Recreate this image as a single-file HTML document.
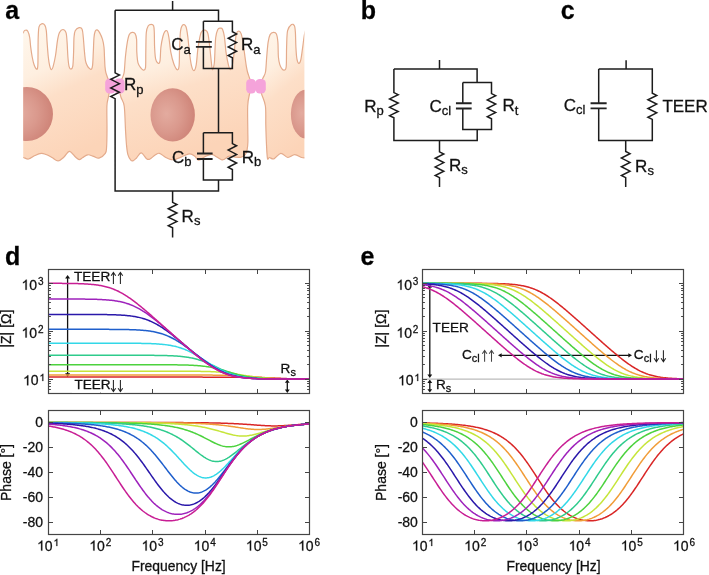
<!DOCTYPE html><html><head><meta charset="utf-8"><style>html,body{margin:0;padding:0;background:#fff;}text{stroke:#111;stroke-width:0.28px;}svg{display:block;will-change:transform;font-family:"Liberation Sans", sans-serif;}</style></head><body>
<svg width="709" height="575" viewBox="0 0 709 575">
<defs><linearGradient id="cellg" x1="0" y1="0" x2="0.3" y2="1"><stop offset="0" stop-color="#fff8ee"/><stop offset="0.36" stop-color="#feefe0"/><stop offset="0.56" stop-color="#fddfc8"/><stop offset="1" stop-color="#fcd4b8"/></linearGradient><radialGradient id="nucg" cx="0.36" cy="0.48" r="0.68"><stop offset="0" stop-color="#e3ab9f"/><stop offset="0.5" stop-color="#da998d"/><stop offset="1" stop-color="#cd8175"/></radialGradient><clipPath id="cellclip"><rect x="23.2" y="0" width="281.2" height="200"/></clipPath></defs>
<rect width="709" height="575" fill="#fff"/>
<g clip-path="url(#cellclip)">
<path d="M21.5,160 C21.25,141.25 21.18,66.23 21.5,45 C21.82,23.77 22.75,35.07 23.4,32.6 C24.05,30.13 24.67,30.43 25.4,30.2 C26.13,29.97 27.08,29.98 27.8,31.2 C28.52,32.42 29.22,34.83 29.7,37.5 C30.18,40.17 30.28,43.95 30.7,47.2 C31.12,50.45 31.63,54.07 32.2,57 C32.77,59.93 33.33,62.75 34.1,64.8 C34.87,66.85 36.18,69.1 36.8,69.3 C37.42,69.5 37.6,68.05 37.8,66 C38,63.95 37.93,61.75 38,57 C38.07,52.25 38.03,42.53 38.2,37.5 C38.37,32.47 38.43,29.08 39,26.8 C39.57,24.52 40.62,24.05 41.6,23.8 C42.58,23.55 44.12,24.15 44.9,25.3 C45.68,26.45 45.93,27.85 46.3,30.7 C46.67,33.55 46.77,38.02 47.1,42.4 C47.43,46.78 47.87,53.1 48.3,57 C48.73,60.9 49.18,63.68 49.7,65.8 C50.22,67.92 50.83,69.55 51.4,69.7 C51.97,69.85 52.4,69.15 53.1,66.7 C53.8,64.25 54.87,59.38 55.6,55 C56.33,50.62 56.85,44.13 57.5,40.4 C58.15,36.67 58.6,34.42 59.5,32.6 C60.4,30.78 61.82,29.5 62.9,29.5 C63.98,29.5 65.3,30.45 66,32.6 C66.7,34.75 66.78,38.33 67.1,42.4 C67.42,46.47 67.57,52.95 67.9,57 C68.23,61.05 68.58,64.67 69.1,66.7 C69.62,68.73 70.38,69.28 71,69.2 C71.62,69.12 72.37,69.05 72.8,66.2 C73.23,63.35 73.4,56.88 73.6,52.1 C73.8,47.32 73.73,41.07 74,37.5 C74.27,33.93 74.35,32.33 75.2,30.7 C76.05,29.07 77.95,27.95 79.1,27.7 C80.25,27.45 81.4,27.57 82.1,29.2 C82.8,30.83 82.9,33.68 83.3,37.5 C83.7,41.32 84.05,47.88 84.5,52.1 C84.95,56.32 85,59.95 86,62.8 C87,65.65 89.42,68.7 90.5,69.2 C91.58,69.7 92.03,68.65 92.5,65.8 C92.97,62.95 93.05,56.82 93.3,52.1 C93.55,47.38 93.68,40.98 94,37.5 C94.32,34.02 94.67,32.47 95.2,31.2 C95.73,29.93 96.47,29.67 97.2,29.9 C97.93,30.13 98.72,31.02 99.6,32.6 C100.48,34.18 101.77,36.97 102.5,39.4 C103.23,41.83 103.67,44.27 104,47.2 C104.33,50.13 104.33,53.75 104.5,57 C104.67,60.25 104.77,64.1 105,66.7 C105.23,69.3 105.45,70.72 105.9,72.6 C106.35,74.48 107.02,75.77 107.7,78 C108.38,80.23 109.88,82.83 110,86 C110.12,89.17 108.92,93.67 108.4,97 C107.88,100.33 107.13,100.5 106.9,106 C106.67,111.5 107.05,123.17 107,130 C106.95,136.83 106.88,143.1 106.6,147 C106.32,150.9 106.57,151.55 105.3,153.4 C104.03,155.25 100.97,157.62 99,158.1 C97.03,158.58 95.38,156.85 93.5,156.3 C91.62,155.75 89.53,154.55 87.7,154.8 C85.87,155.05 83.92,156.98 82.5,157.8 C81.08,158.62 80.37,159.83 79.2,159.7 C78.03,159.57 77.13,158.4 75.5,157 C73.87,155.6 71.32,151.3 69.4,151.3 C67.48,151.3 65.88,155.4 64,157 C62.12,158.6 60.1,160.82 58.1,160.9 C56.1,160.98 54.02,158.57 52,157.5 C49.98,156.43 47.8,155.18 46,154.5 C44.2,153.82 43.03,153.23 41.2,153.4 C39.37,153.57 37.12,154.57 35,155.5 C32.88,156.43 30.5,158.67 28.5,159 C26.5,159.33 24.17,157.33 23,157.5 C21.83,157.67 21.75,178.75 21.5,160 Z" fill="url(#cellg)" stroke="#e4ab8c" stroke-width="1.2"/>
<path d="M130.8,160.2 C129.9,159.2 128.62,157.23 127.9,154.7 C127.18,152.17 126.9,149.12 126.5,145 C126.1,140.88 125.88,136.5 125.5,130 C125.12,123.5 124.97,111.5 124.2,106 C123.43,100.5 121.77,100.33 120.9,97 C120.03,93.67 118.77,89.17 119,86 C119.23,82.83 121.43,80.33 122.3,78 C123.17,75.67 123.68,75.5 124.2,72 C124.72,68.5 124.88,61.93 125.4,57 C125.92,52.07 126.65,46.13 127.3,42.4 C127.95,38.67 128.48,36.27 129.3,34.6 C130.12,32.93 131.23,32.57 132.2,32.4 C133.17,32.23 134.37,32.43 135.1,33.6 C135.83,34.77 136.32,36.32 136.6,39.4 C136.88,42.48 136.57,48.2 136.8,52.1 C137.03,56 137.3,60.12 138,62.8 C138.7,65.48 140.1,66.98 141,68.2 C141.9,69.42 142.65,70.18 143.4,70.1 C144.15,70.02 145.1,70.7 145.5,67.7 C145.9,64.7 145.67,57.95 145.8,52.1 C145.93,46.25 145.88,36.98 146.3,32.6 C146.72,28.22 147.48,27.18 148.3,25.8 C149.12,24.42 150.32,24.3 151.2,24.3 C152.08,24.3 153.08,24.42 153.6,25.8 C154.12,27.18 154.13,29.03 154.3,32.6 C154.47,36.17 154.38,42.82 154.6,47.2 C154.82,51.58 155.03,56.22 155.6,58.9 C156.17,61.58 157.27,62.97 158,63.3 C158.73,63.63 159.52,63.58 160,60.9 C160.48,58.22 160.42,51.27 160.9,47.2 C161.38,43.13 162.25,39.1 162.9,36.5 C163.55,33.9 164.08,32.52 164.8,31.6 C165.52,30.68 166.52,30.02 167.2,31 C167.88,31.98 168.3,33.98 168.9,37.5 C169.5,41.02 169.98,47.72 170.8,52.1 C171.62,56.48 172.73,60.87 173.8,63.8 C174.87,66.73 176.32,69.37 177.2,69.7 C178.08,70.03 178.7,69.55 179.1,65.8 C179.5,62.05 179.35,53.05 179.6,47.2 C179.85,41.35 180.03,34.43 180.6,30.7 C181.17,26.97 182.1,25.45 183,24.8 C183.9,24.15 185.18,24.68 186,26.8 C186.82,28.92 187.33,33.28 187.9,37.5 C188.47,41.72 188.83,47.55 189.4,52.1 C189.97,56.65 190.57,61.72 191.3,64.8 C192.03,67.88 192.98,70.6 193.8,70.6 C194.62,70.6 195.48,68.7 196.2,64.8 C196.92,60.9 197.28,52.57 198.1,47.2 C198.92,41.83 199.95,35.43 201.1,32.6 C202.25,29.77 203.87,30.03 205,30.2 C206.13,30.37 207.1,30.77 207.9,33.6 C208.7,36.43 209.23,42.48 209.8,47.2 C210.37,51.92 210.85,58.15 211.3,61.9 C211.75,65.65 212.02,69.35 212.5,69.7 C212.98,70.05 213.83,66.12 214.2,64 C214.57,61.88 214.45,61.42 214.7,57 C214.95,52.58 215.2,42.05 215.7,37.5 C216.2,32.95 216.97,31.25 217.7,29.7 C218.43,28.15 219.3,28.28 220.1,28.2 C220.9,28.12 221.77,27.65 222.5,29.2 C223.23,30.75 223.92,33.68 224.5,37.5 C225.08,41.32 225.35,47.55 226,52.1 C226.65,56.65 227.65,61.87 228.4,64.8 C229.15,67.73 229.8,69.83 230.5,69.7 C231.2,69.57 231.98,66.93 232.6,64 C233.22,61.07 233.6,57 234.2,52.1 C234.8,47.2 235.47,38.08 236.2,34.6 C236.93,31.12 237.78,31.37 238.6,31.2 C239.42,31.03 240.37,31.73 241.1,33.6 C241.83,35.47 242.35,38.5 243,42.4 C243.65,46.3 244.43,52.95 245,57 C245.57,61.05 245.98,64.2 246.4,66.7 C246.82,69.2 246.98,70.12 247.5,72 C248.02,73.88 248.75,75.67 249.5,78 C250.25,80.33 252,83.33 252,86 C252,88.67 250.22,90.67 249.5,94 C248.78,97.33 247.98,100 247.7,106 C247.42,112 247.77,124 247.8,130 C247.83,136 248.02,138.7 247.9,142 C247.78,145.3 247.55,147.68 247.1,149.8 C246.65,151.92 246.18,153.47 245.2,154.7 C244.22,155.93 242.85,156.78 241.2,157.2 C239.55,157.62 237.27,157.37 235.3,157.2 C233.33,157.03 231.22,155.87 229.4,156.2 C227.58,156.53 225.72,158.62 224.4,159.2 C223.08,159.78 222.98,160.2 221.5,159.7 C220.02,159.2 217.15,157.1 215.5,156.2 C213.85,155.3 213.23,154.3 211.6,154.3 C209.97,154.3 207.83,155.22 205.7,156.2 C203.57,157.18 200.62,160.2 198.8,160.2 C196.98,160.2 196.28,157.27 194.8,156.2 C193.32,155.13 191.7,153.87 189.9,153.8 C188.1,153.73 186.15,154.97 184,155.8 C181.85,156.63 179.12,158.15 177,158.8 C174.88,159.45 173.23,159.97 171.3,159.7 C169.37,159.43 167.37,158.27 165.4,157.2 C163.43,156.13 161.15,153.72 159.5,153.3 C157.85,152.88 157.15,153.72 155.5,154.7 C153.85,155.68 151.08,158.53 149.6,159.2 C148.12,159.87 148,159.77 146.6,158.7 C145.2,157.63 142.88,152.92 141.2,152.8 C139.52,152.68 137.82,156.68 136.5,158 C135.18,159.32 134.25,160.33 133.3,160.7 C132.35,161.07 131.7,161.2 130.8,160.2 Z" fill="url(#cellg)" stroke="#e4ab8c" stroke-width="1.2"/>
<path d="M267.5,158.5 C267,156.42 266.78,150.58 266.5,145 C266.22,139.42 265.98,131.5 265.8,125 C265.62,118.5 266.1,111.17 265.4,106 C264.7,100.83 262.58,97.33 261.6,94 C260.62,90.67 259.27,88.67 259.5,86 C259.73,83.33 262,80.33 263,78 C264,75.67 264.88,75.5 265.5,72 C266.12,68.5 266.27,61.95 266.7,57 C267.13,52.05 267.53,46.03 268.1,42.3 C268.67,38.57 269.2,36.25 270.1,34.6 C271,32.95 272.45,32.48 273.5,32.4 C274.55,32.32 275.67,32.45 276.4,34.1 C277.13,35.75 277.57,38.48 277.9,42.3 C278.23,46.12 278.08,53.27 278.4,57 C278.72,60.73 279.2,62.73 279.8,64.7 C280.4,66.67 281.27,67.9 282,68.8 C282.73,69.7 283.5,70.45 284.2,70.1 C284.9,69.75 285.8,70.52 286.2,66.7 C286.6,62.88 286.37,53.2 286.6,47.2 C286.83,41.2 286.78,34.47 287.6,30.7 C288.42,26.93 290.37,25.42 291.5,24.6 C292.63,23.78 293.75,24.47 294.4,25.8 C295.05,27.13 295.15,29.03 295.4,32.6 C295.65,36.17 295.65,42.82 295.9,47.2 C296.15,51.58 296.42,56.22 296.9,58.9 C297.38,61.58 298.15,63.13 298.8,63.3 C299.45,63.47 300.15,62.58 300.8,59.9 C301.45,57.22 302.07,51.55 302.7,47.2 C303.33,42.85 303.88,37 304.6,33.8 C305.32,30.6 305.77,28.97 307,28 C308.23,27.03 311.17,6.33 312,28 C312.83,49.67 313.17,136.33 312,158 C310.83,179.67 306.72,158.08 305,158 C303.28,157.92 303.42,158.05 301.7,157.5 C299.98,156.95 297.02,154.7 294.7,154.7 C292.38,154.7 290.12,157.73 287.8,157.5 C285.48,157.27 283.12,153.07 280.8,153.3 C278.48,153.53 275.78,158.2 273.9,158.9 C272.02,159.6 270.57,157.57 269.5,157.5 C268.43,157.43 268,160.58 267.5,158.5 Z" fill="url(#cellg)" stroke="#e4ab8c" stroke-width="1.2"/>
<ellipse cx="27" cy="114" rx="26" ry="27" fill="url(#nucg)"/>
<ellipse cx="172.7" cy="114.9" rx="22.2" ry="26.7" fill="url(#nucg)"/>
<ellipse cx="305.9" cy="114.1" rx="15" ry="24.4" fill="url(#nucg)"/>
</g>
<g fill="#f5a3da"><rect x="105.2" y="78.6" width="10.4" height="15" rx="4.2"/><rect x="114.2" y="78.6" width="10.4" height="15" rx="4.2"/><rect x="246.2" y="78.9" width="9.8" height="14.6" rx="4.2"/><rect x="255.4" y="78.9" width="10.4" height="14.6" rx="4.2"/></g>
<path d="M172.6,1 V10.3 M115.1,10.3 H218.5 V21.2 M115.1,10.3 V72.9 L115.1,72.9 L119.4,75.05 L110.8,79.35 L119.4,83.65 L110.8,87.95 L119.4,92.25 L110.8,96.55 L115.1,98.7 V190.9 H218.5 V179.9 M203.4,21.2 H232.4 V31.7 L232.4,31.7 L236.6,33.88 L228.2,38.23 L236.6,42.58 L228.2,46.92 L236.6,51.27 L228.2,55.62 L232.4,57.8 V68.4 H203.4 V46.5 M203.4,21.2 V41.9 M218.5,68.4 V132.8 M203.4,132.8 H232.4 V143.6 L232.4,143.6 L236.6,145.76 L228.2,150.07 L236.6,154.39 L228.2,158.71 L236.6,163.03 L228.2,167.34 L232.4,169.5 V179.9 H203.4 V159 M203.4,132.8 V153.5 M172.6,190.9 V202.4 L172.6,202.4 L176.9,204.52 L168.3,208.75 L176.9,212.98 L168.3,217.22 L176.9,221.45 L168.3,225.68 L172.6,227.8 V237.4" stroke="#1c1c1c" stroke-width="1.5" fill="none" stroke-linejoin="miter"/>
<path d="M195.9,41.9 h15.9 M195.9,46.9 h15.9" stroke="#222" stroke-width="1.9" fill="none"/>
<path d="M197,153.55 h15.6 M197,158.95 h15.6" stroke="#222" stroke-width="1.9" fill="none"/>
<g fill="#111">
<text x="123.9" y="90.4" font-size="17">R<tspan font-size="13" dy="3.7">p</tspan></text>
<text x="171.3" y="50.1" font-size="17">C<tspan font-size="13" dy="3.9">a</tspan></text>
<text x="241" y="49.8" font-size="17">R<tspan font-size="13" dy="3.8">a</tspan></text>
<text x="172" y="162.6" font-size="17">C<tspan font-size="13" dy="3.6">b</tspan></text>
<text x="241.7" y="162.8" font-size="17">R<tspan font-size="13" dy="3.6">b</tspan></text>
<text x="181.6" y="222.4" font-size="17">R<tspan font-size="13" dy="2.7">s</tspan></text>
</g>
<path d="M439.5,60 V68.9 M393.9,68.9 H477.1 V82.4 M393.9,68.9 V92.6 L393.9,92.6 L398.2,94.7 L389.6,98.9 L398.2,103.1 L389.6,107.3 L398.2,111.5 L389.6,115.7 L393.9,117.8 V140.5 H477.2 V129.5 M462.8,82.4 H491.5 V93.6 L491.5,93.6 L495.7,95.7 L487.3,99.9 L495.7,104.1 L487.3,108.3 L495.7,112.5 L487.3,116.7 L491.5,118.8 V129.5 H462.8 V108.5 M462.8,82.4 V103.3 M439.5,140.5 V151.8 L439.5,151.8 L443.8,153.96 L435.2,158.28 L443.8,162.59 L435.2,166.91 L443.8,171.22 L435.2,175.54 L439.5,177.7 V187" stroke="#1c1c1c" stroke-width="1.5" fill="none" stroke-linejoin="miter"/>
<path d="M455.95,103.3 h15.7 M455.95,108.5 h15.7" stroke="#222" stroke-width="1.9" fill="none"/>
<g fill="#111">
<text x="364.2" y="111.5" font-size="17">R<tspan font-size="13" dy="3.6">p</tspan></text>
<text x="429.4" y="111.9" font-size="17">C<tspan font-size="13" dy="3.2">cl</tspan></text>
<text x="502.5" y="111.3" font-size="17">R<tspan font-size="13" dy="3.9">t</tspan></text>
<text x="448.9" y="171.2" font-size="17">R<tspan font-size="13" dy="2.9">s</tspan></text>
</g>
<path d="M626.1,60.2 V69.1 M598.7,69.1 H652.3 V93.2 L652.3,93.2 L656.7,95.38 L647.9,99.75 L656.7,104.12 L647.9,108.48 L656.7,112.85 L647.9,117.22 L652.3,119.4 V140.5 H598.7 V108.4 M598.7,69.1 V103.3 M625.7,140.5 V151.5 L625.7,151.5 L630,153.68 L621.4,158.05 L630,162.42 L621.4,166.78 L630,171.15 L621.4,175.52 L625.7,177.7 V187" stroke="#1c1c1c" stroke-width="1.5" fill="none" stroke-linejoin="miter"/>
<path d="M590.55,103.3 h16.1 M590.55,108.4 h16.1" stroke="#222" stroke-width="1.9" fill="none"/>
<g fill="#111">
<text x="563.8" y="110.7" font-size="17">C<tspan font-size="13" dy="3.2">cl</tspan></text>
<text x="662.4" y="111.7" font-size="17">TEER</text>
<text x="635.1" y="171.8" font-size="17">R<tspan font-size="13" dy="2.7">s</tspan></text>
</g>
<g font-weight="bold" font-size="25" fill="#000">
<text x="5.2" y="19" font-size="25" text-anchor="start" font-weight="bold" >a</text>
<text x="360.8" y="19" font-size="25" text-anchor="start" font-weight="bold" >b</text>
<text x="560.7" y="19" font-size="25" text-anchor="start" font-weight="bold" >c</text>
<text x="4.9" y="265.1" font-size="25" text-anchor="start" font-weight="bold" >d</text>
<text x="360.6" y="265.1" font-size="25" text-anchor="start" font-weight="bold" >e</text>
</g>
<g>
<path d="M67.6,278.1 V373.8" stroke="#111" stroke-width="1.3"/><path d="M67.6,275 L65.1,278.6 L70.1,278.6 Z" fill="#111"/><path d="M67.6,376.9 L65.1,373.3 L70.1,373.3 Z" fill="#111"/>
<path d="M287.3,382.3 V390.1" stroke="#111" stroke-width="1.3"/><path d="M287.3,379.4 L284.9,382.8 L289.7,382.8 Z" fill="#111"/><path d="M287.3,393 L284.9,389.6 L289.7,389.6 Z" fill="#111"/>
<path d="M429.8,287.1 V375" stroke="#111" stroke-width="1.3"/><path d="M429.8,284 L427.4,287.6 L432.2,287.6 Z" fill="#111"/><path d="M429.8,378.1 L427.4,374.5 L432.2,374.5 Z" fill="#111"/>
<path d="M429.8,382.5 V389.7" stroke="#111" stroke-width="1.3"/><path d="M429.8,379.6 L427.4,383 L432.2,383 Z" fill="#111"/><path d="M429.8,392.6 L427.4,389.2 L432.2,389.2 Z" fill="#111"/>
<path d="M501.2,355.3 H628.8" stroke="#111" stroke-width="1.3"/><path d="M498,355.3 L501.7,353.2 L501.7,357.4 Z" fill="#111"/><path d="M632,355.3 L628.3,353.2 L628.3,357.4 Z" fill="#111"/>
</g>
<svg x="0" y="0" width="709" height="575" overflow="hidden">
<clipPath id="clip1d"><rect x="48.5" y="269.5" width="261" height="124"/></clipPath>
<clipPath id="clip2d"><rect x="48.5" y="410.5" width="261" height="124"/></clipPath>
</svg>
<g clip-path="url(#clip1d)"><path d="M48.5,377.12 L49.5,377.12 L50.51,377.12 L51.51,377.12 L52.52,377.12 L53.52,377.12 L54.52,377.12 L55.53,377.12 L56.53,377.12 L57.53,377.12 L58.54,377.12 L59.54,377.12 L60.55,377.12 L61.55,377.12 L62.55,377.12 L63.56,377.12 L64.56,377.12 L65.57,377.12 L66.57,377.12 L67.57,377.12 L68.58,377.12 L69.58,377.12 L70.58,377.12 L71.59,377.12 L72.59,377.12 L73.6,377.12 L74.6,377.12 L75.6,377.12 L76.61,377.12 L77.61,377.12 L78.62,377.12 L79.62,377.12 L80.62,377.12 L81.63,377.12 L82.63,377.12 L83.63,377.12 L84.64,377.12 L85.64,377.12 L86.65,377.12 L87.65,377.12 L88.65,377.12 L89.66,377.12 L90.66,377.12 L91.67,377.12 L92.67,377.12 L93.67,377.12 L94.68,377.12 L95.68,377.12 L96.68,377.12 L97.69,377.12 L98.69,377.12 L99.7,377.12 L100.7,377.12 L101.7,377.12 L102.71,377.12 L103.71,377.12 L104.72,377.12 L105.72,377.12 L106.72,377.12 L107.73,377.12 L108.73,377.12 L109.73,377.12 L110.74,377.12 L111.74,377.12 L112.75,377.12 L113.75,377.12 L114.75,377.12 L115.76,377.12 L116.76,377.12 L117.77,377.12 L118.77,377.12 L119.77,377.12 L120.78,377.12 L121.78,377.12 L122.78,377.12 L123.79,377.12 L124.79,377.12 L125.8,377.12 L126.8,377.12 L127.8,377.12 L128.81,377.12 L129.81,377.12 L130.82,377.12 L131.82,377.12 L132.82,377.12 L133.83,377.12 L134.83,377.12 L135.83,377.12 L136.84,377.12 L137.84,377.12 L138.85,377.12 L139.85,377.12 L140.85,377.12 L141.86,377.12 L142.86,377.12 L143.87,377.12 L144.87,377.12 L145.87,377.12 L146.88,377.12 L147.88,377.12 L148.88,377.12 L149.89,377.12 L150.89,377.12 L151.9,377.12 L152.9,377.12 L153.9,377.12 L154.91,377.12 L155.91,377.12 L156.92,377.12 L157.92,377.12 L158.92,377.12 L159.93,377.12 L160.93,377.12 L161.93,377.12 L162.94,377.12 L163.94,377.12 L164.95,377.12 L165.95,377.12 L166.95,377.12 L167.96,377.12 L168.96,377.12 L169.97,377.12 L170.97,377.12 L171.97,377.12 L172.98,377.12 L173.98,377.12 L174.98,377.12 L175.99,377.12 L176.99,377.12 L178,377.12 L179,377.12 L180,377.12 L181.01,377.12 L182.01,377.12 L183.02,377.12 L184.02,377.12 L185.02,377.12 L186.03,377.12 L187.03,377.12 L188.03,377.12 L189.04,377.12 L190.04,377.12 L191.05,377.12 L192.05,377.12 L193.05,377.12 L194.06,377.12 L195.06,377.12 L196.07,377.12 L197.07,377.12 L198.07,377.12 L199.08,377.12 L200.08,377.12 L201.08,377.12 L202.09,377.12 L203.09,377.13 L204.1,377.13 L205.1,377.13 L206.1,377.13 L207.11,377.13 L208.11,377.13 L209.12,377.13 L210.12,377.13 L211.12,377.13 L212.13,377.13 L213.13,377.13 L214.13,377.13 L215.14,377.13 L216.14,377.13 L217.15,377.13 L218.15,377.14 L219.15,377.14 L220.16,377.14 L221.16,377.14 L222.17,377.14 L223.17,377.14 L224.17,377.15 L225.18,377.15 L226.18,377.15 L227.18,377.15 L228.19,377.15 L229.19,377.16 L230.2,377.16 L231.2,377.16 L232.2,377.17 L233.21,377.17 L234.21,377.18 L235.22,377.18 L236.22,377.19 L237.22,377.19 L238.23,377.2 L239.23,377.21 L240.23,377.22 L241.24,377.22 L242.24,377.23 L243.25,377.24 L244.25,377.25 L245.25,377.26 L246.26,377.28 L247.26,377.29 L248.27,377.3 L249.27,377.32 L250.27,377.33 L251.28,377.35 L252.28,377.37 L253.28,377.39 L254.29,377.41 L255.29,377.43 L256.3,377.46 L257.3,377.48 L258.3,377.51 L259.31,377.54 L260.31,377.57 L261.32,377.6 L262.32,377.63 L263.32,377.67 L264.33,377.7 L265.33,377.74 L266.33,377.78 L267.34,377.82 L268.34,377.86 L269.35,377.9 L270.35,377.94 L271.35,377.98 L272.36,378.03 L273.36,378.07 L274.37,378.12 L275.37,378.16 L276.37,378.2 L277.38,378.25 L278.38,378.29 L279.38,378.33 L280.39,378.37 L281.39,378.41 L282.4,378.45 L283.4,378.49 L284.4,378.53 L285.41,378.56 L286.41,378.6 L287.42,378.63 L288.42,378.66 L289.42,378.69 L290.43,378.72 L291.43,378.74 L292.43,378.77 L293.44,378.79 L294.44,378.81 L295.45,378.84 L296.45,378.85 L297.45,378.87 L298.46,378.89 L299.46,378.91 L300.47,378.92 L301.47,378.94 L302.47,378.95 L303.48,378.96 L304.48,378.97 L305.48,378.98 L306.49,378.99 L307.49,379 L308.5,379.01 L309.5,379.02" stroke="#d92626" stroke-width="1.5" fill="none"/>
<path d="M48.5,375.05 L49.5,375.05 L50.51,375.05 L51.51,375.05 L52.52,375.05 L53.52,375.05 L54.52,375.05 L55.53,375.05 L56.53,375.05 L57.53,375.05 L58.54,375.05 L59.54,375.05 L60.55,375.05 L61.55,375.05 L62.55,375.05 L63.56,375.05 L64.56,375.05 L65.57,375.05 L66.57,375.05 L67.57,375.05 L68.58,375.05 L69.58,375.05 L70.58,375.05 L71.59,375.05 L72.59,375.05 L73.6,375.05 L74.6,375.05 L75.6,375.05 L76.61,375.05 L77.61,375.05 L78.62,375.05 L79.62,375.05 L80.62,375.05 L81.63,375.05 L82.63,375.05 L83.63,375.05 L84.64,375.05 L85.64,375.05 L86.65,375.05 L87.65,375.05 L88.65,375.05 L89.66,375.05 L90.66,375.05 L91.67,375.05 L92.67,375.05 L93.67,375.05 L94.68,375.05 L95.68,375.05 L96.68,375.05 L97.69,375.05 L98.69,375.05 L99.7,375.05 L100.7,375.05 L101.7,375.05 L102.71,375.05 L103.71,375.05 L104.72,375.05 L105.72,375.05 L106.72,375.05 L107.73,375.05 L108.73,375.05 L109.73,375.05 L110.74,375.05 L111.74,375.05 L112.75,375.05 L113.75,375.05 L114.75,375.05 L115.76,375.05 L116.76,375.05 L117.77,375.05 L118.77,375.05 L119.77,375.05 L120.78,375.05 L121.78,375.05 L122.78,375.05 L123.79,375.05 L124.79,375.05 L125.8,375.05 L126.8,375.05 L127.8,375.05 L128.81,375.05 L129.81,375.05 L130.82,375.05 L131.82,375.05 L132.82,375.05 L133.83,375.05 L134.83,375.05 L135.83,375.05 L136.84,375.05 L137.84,375.05 L138.85,375.05 L139.85,375.05 L140.85,375.05 L141.86,375.05 L142.86,375.05 L143.87,375.05 L144.87,375.05 L145.87,375.05 L146.88,375.05 L147.88,375.05 L148.88,375.05 L149.89,375.05 L150.89,375.05 L151.9,375.05 L152.9,375.05 L153.9,375.05 L154.91,375.05 L155.91,375.05 L156.92,375.05 L157.92,375.05 L158.92,375.05 L159.93,375.05 L160.93,375.05 L161.93,375.05 L162.94,375.05 L163.94,375.05 L164.95,375.05 L165.95,375.05 L166.95,375.05 L167.96,375.05 L168.96,375.05 L169.97,375.05 L170.97,375.05 L171.97,375.05 L172.98,375.05 L173.98,375.05 L174.98,375.05 L175.99,375.05 L176.99,375.05 L178,375.05 L179,375.05 L180,375.05 L181.01,375.05 L182.01,375.05 L183.02,375.06 L184.02,375.06 L185.02,375.06 L186.03,375.06 L187.03,375.06 L188.03,375.06 L189.04,375.06 L190.04,375.06 L191.05,375.06 L192.05,375.06 L193.05,375.06 L194.06,375.06 L195.06,375.07 L196.07,375.07 L197.07,375.07 L198.07,375.07 L199.08,375.07 L200.08,375.07 L201.08,375.08 L202.09,375.08 L203.09,375.08 L204.1,375.08 L205.1,375.09 L206.1,375.09 L207.11,375.09 L208.11,375.1 L209.12,375.1 L210.12,375.11 L211.12,375.11 L212.13,375.12 L213.13,375.13 L214.13,375.13 L215.14,375.14 L216.14,375.15 L217.15,375.16 L218.15,375.17 L219.15,375.18 L220.16,375.19 L221.16,375.2 L222.17,375.22 L223.17,375.23 L224.17,375.25 L225.18,375.26 L226.18,375.28 L227.18,375.3 L228.19,375.32 L229.19,375.35 L230.2,375.37 L231.2,375.4 L232.2,375.43 L233.21,375.46 L234.21,375.49 L235.22,375.53 L236.22,375.57 L237.22,375.61 L238.23,375.65 L239.23,375.7 L240.23,375.75 L241.24,375.8 L242.24,375.86 L243.25,375.92 L244.25,375.98 L245.25,376.05 L246.26,376.11 L247.26,376.18 L248.27,376.26 L249.27,376.33 L250.27,376.41 L251.28,376.49 L252.28,376.58 L253.28,376.66 L254.29,376.75 L255.29,376.84 L256.3,376.92 L257.3,377.01 L258.3,377.1 L259.31,377.19 L260.31,377.28 L261.32,377.37 L262.32,377.46 L263.32,377.54 L264.33,377.62 L265.33,377.71 L266.33,377.79 L267.34,377.86 L268.34,377.94 L269.35,378.01 L270.35,378.08 L271.35,378.14 L272.36,378.21 L273.36,378.27 L274.37,378.32 L275.37,378.38 L276.37,378.43 L277.38,378.48 L278.38,378.52 L279.38,378.57 L280.39,378.6 L281.39,378.64 L282.4,378.68 L283.4,378.71 L284.4,378.74 L285.41,378.77 L286.41,378.79 L287.42,378.82 L288.42,378.84 L289.42,378.86 L290.43,378.88 L291.43,378.9 L292.43,378.91 L293.44,378.93 L294.44,378.94 L295.45,378.96 L296.45,378.97 L297.45,378.98 L298.46,378.99 L299.46,379 L300.47,379.01 L301.47,379.01 L302.47,379.02 L303.48,379.03 L304.48,379.03 L305.48,379.04 L306.49,379.04 L307.49,379.05 L308.5,379.05 L309.5,379.06" stroke="#f19c38" stroke-width="1.5" fill="none"/>
<path d="M48.5,371.18 L49.5,371.18 L50.51,371.18 L51.51,371.18 L52.52,371.18 L53.52,371.18 L54.52,371.18 L55.53,371.18 L56.53,371.18 L57.53,371.18 L58.54,371.18 L59.54,371.18 L60.55,371.18 L61.55,371.18 L62.55,371.18 L63.56,371.18 L64.56,371.18 L65.57,371.18 L66.57,371.18 L67.57,371.18 L68.58,371.18 L69.58,371.18 L70.58,371.18 L71.59,371.18 L72.59,371.18 L73.6,371.18 L74.6,371.18 L75.6,371.18 L76.61,371.18 L77.61,371.18 L78.62,371.18 L79.62,371.18 L80.62,371.18 L81.63,371.18 L82.63,371.18 L83.63,371.18 L84.64,371.18 L85.64,371.18 L86.65,371.18 L87.65,371.18 L88.65,371.18 L89.66,371.18 L90.66,371.18 L91.67,371.18 L92.67,371.18 L93.67,371.18 L94.68,371.18 L95.68,371.18 L96.68,371.18 L97.69,371.18 L98.69,371.18 L99.7,371.18 L100.7,371.18 L101.7,371.18 L102.71,371.18 L103.71,371.18 L104.72,371.18 L105.72,371.18 L106.72,371.18 L107.73,371.18 L108.73,371.18 L109.73,371.18 L110.74,371.18 L111.74,371.18 L112.75,371.18 L113.75,371.18 L114.75,371.18 L115.76,371.18 L116.76,371.19 L117.77,371.19 L118.77,371.19 L119.77,371.19 L120.78,371.19 L121.78,371.19 L122.78,371.19 L123.79,371.19 L124.79,371.19 L125.8,371.19 L126.8,371.19 L127.8,371.19 L128.81,371.19 L129.81,371.19 L130.82,371.19 L131.82,371.19 L132.82,371.19 L133.83,371.19 L134.83,371.19 L135.83,371.19 L136.84,371.19 L137.84,371.19 L138.85,371.19 L139.85,371.19 L140.85,371.19 L141.86,371.19 L142.86,371.19 L143.87,371.19 L144.87,371.19 L145.87,371.19 L146.88,371.19 L147.88,371.19 L148.88,371.19 L149.89,371.19 L150.89,371.19 L151.9,371.19 L152.9,371.19 L153.9,371.19 L154.91,371.19 L155.91,371.19 L156.92,371.19 L157.92,371.19 L158.92,371.19 L159.93,371.19 L160.93,371.19 L161.93,371.19 L162.94,371.19 L163.94,371.19 L164.95,371.19 L165.95,371.19 L166.95,371.2 L167.96,371.2 L168.96,371.2 L169.97,371.2 L170.97,371.2 L171.97,371.2 L172.98,371.2 L173.98,371.2 L174.98,371.21 L175.99,371.21 L176.99,371.21 L178,371.21 L179,371.21 L180,371.22 L181.01,371.22 L182.01,371.22 L183.02,371.23 L184.02,371.23 L185.02,371.23 L186.03,371.24 L187.03,371.24 L188.03,371.25 L189.04,371.26 L190.04,371.26 L191.05,371.27 L192.05,371.28 L193.05,371.29 L194.06,371.29 L195.06,371.3 L196.07,371.32 L197.07,371.33 L198.07,371.34 L199.08,371.35 L200.08,371.37 L201.08,371.39 L202.09,371.4 L203.09,371.42 L204.1,371.44 L205.1,371.47 L206.1,371.49 L207.11,371.52 L208.11,371.55 L209.12,371.58 L210.12,371.62 L211.12,371.65 L212.13,371.69 L213.13,371.74 L214.13,371.79 L215.14,371.84 L216.14,371.89 L217.15,371.95 L218.15,372.01 L219.15,372.08 L220.16,372.15 L221.16,372.23 L222.17,372.31 L223.17,372.4 L224.17,372.49 L225.18,372.59 L226.18,372.7 L227.18,372.81 L228.19,372.92 L229.19,373.05 L230.2,373.17 L231.2,373.31 L232.2,373.45 L233.21,373.59 L234.21,373.74 L235.22,373.89 L236.22,374.05 L237.22,374.21 L238.23,374.38 L239.23,374.55 L240.23,374.72 L241.24,374.89 L242.24,375.06 L243.25,375.24 L244.25,375.41 L245.25,375.58 L246.26,375.75 L247.26,375.92 L248.27,376.08 L249.27,376.25 L250.27,376.4 L251.28,376.56 L252.28,376.71 L253.28,376.85 L254.29,376.99 L255.29,377.12 L256.3,377.25 L257.3,377.37 L258.3,377.49 L259.31,377.6 L260.31,377.7 L261.32,377.8 L262.32,377.89 L263.32,377.98 L264.33,378.06 L265.33,378.14 L266.33,378.21 L267.34,378.28 L268.34,378.34 L269.35,378.4 L270.35,378.45 L271.35,378.5 L272.36,378.55 L273.36,378.59 L274.37,378.63 L275.37,378.67 L276.37,378.71 L277.38,378.74 L278.38,378.77 L279.38,378.79 L280.39,378.82 L281.39,378.84 L282.4,378.86 L283.4,378.88 L284.4,378.9 L285.41,378.92 L286.41,378.93 L287.42,378.95 L288.42,378.96 L289.42,378.97 L290.43,378.98 L291.43,378.99 L292.43,379 L293.44,379.01 L294.44,379.02 L295.45,379.02 L296.45,379.03 L297.45,379.04 L298.46,379.04 L299.46,379.05 L300.47,379.05 L301.47,379.05 L302.47,379.06 L303.48,379.06 L304.48,379.07 L305.48,379.07 L306.49,379.07 L307.49,379.07 L308.5,379.08 L309.5,379.08" stroke="#c6e53a" stroke-width="1.5" fill="none"/>
<path d="M48.5,364.71 L49.5,364.71 L50.51,364.71 L51.51,364.71 L52.52,364.71 L53.52,364.71 L54.52,364.71 L55.53,364.71 L56.53,364.71 L57.53,364.71 L58.54,364.71 L59.54,364.71 L60.55,364.71 L61.55,364.71 L62.55,364.71 L63.56,364.71 L64.56,364.71 L65.57,364.71 L66.57,364.71 L67.57,364.71 L68.58,364.71 L69.58,364.71 L70.58,364.71 L71.59,364.71 L72.59,364.71 L73.6,364.71 L74.6,364.71 L75.6,364.71 L76.61,364.71 L77.61,364.71 L78.62,364.71 L79.62,364.71 L80.62,364.71 L81.63,364.71 L82.63,364.71 L83.63,364.71 L84.64,364.71 L85.64,364.71 L86.65,364.71 L87.65,364.71 L88.65,364.71 L89.66,364.71 L90.66,364.71 L91.67,364.71 L92.67,364.71 L93.67,364.71 L94.68,364.71 L95.68,364.71 L96.68,364.71 L97.69,364.71 L98.69,364.71 L99.7,364.71 L100.7,364.71 L101.7,364.71 L102.71,364.71 L103.71,364.71 L104.72,364.71 L105.72,364.71 L106.72,364.71 L107.73,364.71 L108.73,364.71 L109.73,364.71 L110.74,364.71 L111.74,364.71 L112.75,364.71 L113.75,364.71 L114.75,364.71 L115.76,364.71 L116.76,364.71 L117.77,364.71 L118.77,364.71 L119.77,364.71 L120.78,364.71 L121.78,364.71 L122.78,364.71 L123.79,364.71 L124.79,364.71 L125.8,364.71 L126.8,364.71 L127.8,364.71 L128.81,364.71 L129.81,364.71 L130.82,364.71 L131.82,364.71 L132.82,364.71 L133.83,364.71 L134.83,364.71 L135.83,364.72 L136.84,364.72 L137.84,364.72 L138.85,364.72 L139.85,364.72 L140.85,364.72 L141.86,364.72 L142.86,364.72 L143.87,364.72 L144.87,364.72 L145.87,364.72 L146.88,364.72 L147.88,364.72 L148.88,364.72 L149.89,364.73 L150.89,364.73 L151.9,364.73 L152.9,364.73 L153.9,364.73 L154.91,364.73 L155.91,364.74 L156.92,364.74 L157.92,364.74 L158.92,364.74 L159.93,364.75 L160.93,364.75 L161.93,364.75 L162.94,364.76 L163.94,364.76 L164.95,364.77 L165.95,364.77 L166.95,364.78 L167.96,364.78 L168.96,364.79 L169.97,364.8 L170.97,364.8 L171.97,364.81 L172.98,364.82 L173.98,364.83 L174.98,364.84 L175.99,364.86 L176.99,364.87 L178,364.88 L179,364.9 L180,364.92 L181.01,364.94 L182.01,364.96 L183.02,364.98 L184.02,365 L185.02,365.03 L186.03,365.06 L187.03,365.09 L188.03,365.12 L189.04,365.16 L190.04,365.2 L191.05,365.24 L192.05,365.29 L193.05,365.34 L194.06,365.4 L195.06,365.45 L196.07,365.52 L197.07,365.59 L198.07,365.66 L199.08,365.75 L200.08,365.83 L201.08,365.93 L202.09,366.03 L203.09,366.14 L204.1,366.25 L205.1,366.38 L206.1,366.51 L207.11,366.65 L208.11,366.8 L209.12,366.96 L210.12,367.13 L211.12,367.31 L212.13,367.5 L213.13,367.7 L214.13,367.91 L215.14,368.13 L216.14,368.36 L217.15,368.6 L218.15,368.84 L219.15,369.1 L220.16,369.37 L221.16,369.64 L222.17,369.92 L223.17,370.21 L224.17,370.5 L225.18,370.8 L226.18,371.1 L227.18,371.4 L228.19,371.71 L229.19,372.01 L230.2,372.32 L231.2,372.62 L232.2,372.93 L233.21,373.23 L234.21,373.52 L235.22,373.81 L236.22,374.09 L237.22,374.37 L238.23,374.63 L239.23,374.89 L240.23,375.14 L241.24,375.39 L242.24,375.62 L243.25,375.84 L244.25,376.05 L245.25,376.25 L246.26,376.45 L247.26,376.63 L248.27,376.8 L249.27,376.96 L250.27,377.12 L251.28,377.26 L252.28,377.4 L253.28,377.52 L254.29,377.64 L255.29,377.75 L256.3,377.86 L257.3,377.95 L258.3,378.04 L259.31,378.12 L260.31,378.2 L261.32,378.27 L262.32,378.34 L263.32,378.4 L264.33,378.46 L265.33,378.51 L266.33,378.56 L267.34,378.6 L268.34,378.64 L269.35,378.68 L270.35,378.71 L271.35,378.74 L272.36,378.77 L273.36,378.8 L274.37,378.83 L275.37,378.85 L276.37,378.87 L277.38,378.89 L278.38,378.91 L279.38,378.92 L280.39,378.94 L281.39,378.95 L282.4,378.96 L283.4,378.97 L284.4,378.99 L285.41,379 L286.41,379 L287.42,379.01 L288.42,379.02 L289.42,379.03 L290.43,379.03 L291.43,379.04 L292.43,379.04 L293.44,379.05 L294.44,379.05 L295.45,379.06 L296.45,379.06 L297.45,379.06 L298.46,379.07 L299.46,379.07 L300.47,379.07 L301.47,379.07 L302.47,379.08 L303.48,379.08 L304.48,379.08 L305.48,379.08 L306.49,379.08 L307.49,379.08 L308.5,379.09 L309.5,379.09" stroke="#4cd23e" stroke-width="1.5" fill="none"/>
<path d="M48.5,355.25 L49.5,355.25 L50.51,355.25 L51.51,355.25 L52.52,355.25 L53.52,355.25 L54.52,355.25 L55.53,355.25 L56.53,355.25 L57.53,355.25 L58.54,355.25 L59.54,355.25 L60.55,355.25 L61.55,355.25 L62.55,355.25 L63.56,355.25 L64.56,355.25 L65.57,355.25 L66.57,355.25 L67.57,355.25 L68.58,355.25 L69.58,355.25 L70.58,355.25 L71.59,355.25 L72.59,355.25 L73.6,355.25 L74.6,355.25 L75.6,355.25 L76.61,355.25 L77.61,355.25 L78.62,355.25 L79.62,355.25 L80.62,355.25 L81.63,355.25 L82.63,355.25 L83.63,355.25 L84.64,355.25 L85.64,355.25 L86.65,355.25 L87.65,355.25 L88.65,355.25 L89.66,355.25 L90.66,355.25 L91.67,355.25 L92.67,355.25 L93.67,355.25 L94.68,355.25 L95.68,355.25 L96.68,355.25 L97.69,355.25 L98.69,355.25 L99.7,355.25 L100.7,355.25 L101.7,355.25 L102.71,355.25 L103.71,355.25 L104.72,355.25 L105.72,355.25 L106.72,355.25 L107.73,355.25 L108.73,355.25 L109.73,355.25 L110.74,355.25 L111.74,355.25 L112.75,355.25 L113.75,355.25 L114.75,355.26 L115.76,355.26 L116.76,355.26 L117.77,355.26 L118.77,355.26 L119.77,355.26 L120.78,355.26 L121.78,355.26 L122.78,355.26 L123.79,355.26 L124.79,355.26 L125.8,355.26 L126.8,355.26 L127.8,355.26 L128.81,355.26 L129.81,355.27 L130.82,355.27 L131.82,355.27 L132.82,355.27 L133.83,355.27 L134.83,355.27 L135.83,355.28 L136.84,355.28 L137.84,355.28 L138.85,355.28 L139.85,355.29 L140.85,355.29 L141.86,355.29 L142.86,355.3 L143.87,355.3 L144.87,355.3 L145.87,355.31 L146.88,355.31 L147.88,355.32 L148.88,355.33 L149.89,355.33 L150.89,355.34 L151.9,355.35 L152.9,355.36 L153.9,355.37 L154.91,355.38 L155.91,355.39 L156.92,355.4 L157.92,355.42 L158.92,355.43 L159.93,355.45 L160.93,355.47 L161.93,355.49 L162.94,355.51 L163.94,355.53 L164.95,355.56 L165.95,355.58 L166.95,355.61 L167.96,355.65 L168.96,355.68 L169.97,355.72 L170.97,355.76 L171.97,355.81 L172.98,355.86 L173.98,355.91 L174.98,355.97 L175.99,356.03 L176.99,356.1 L178,356.18 L179,356.26 L180,356.34 L181.01,356.44 L182.01,356.54 L183.02,356.65 L184.02,356.77 L185.02,356.9 L186.03,357.03 L187.03,357.18 L188.03,357.34 L189.04,357.51 L190.04,357.69 L191.05,357.88 L192.05,358.09 L193.05,358.3 L194.06,358.54 L195.06,358.78 L196.07,359.04 L197.07,359.32 L198.07,359.61 L199.08,359.91 L200.08,360.23 L201.08,360.56 L202.09,360.91 L203.09,361.27 L204.1,361.65 L205.1,362.04 L206.1,362.44 L207.11,362.85 L208.11,363.28 L209.12,363.71 L210.12,364.16 L211.12,364.61 L212.13,365.07 L213.13,365.54 L214.13,366.01 L215.14,366.48 L216.14,366.96 L217.15,367.43 L218.15,367.91 L219.15,368.38 L220.16,368.85 L221.16,369.32 L222.17,369.78 L223.17,370.23 L224.17,370.68 L225.18,371.11 L226.18,371.54 L227.18,371.95 L228.19,372.35 L229.19,372.74 L230.2,373.11 L231.2,373.47 L232.2,373.82 L233.21,374.15 L234.21,374.47 L235.22,374.77 L236.22,375.06 L237.22,375.33 L238.23,375.59 L239.23,375.84 L240.23,376.07 L241.24,376.28 L242.24,376.49 L243.25,376.68 L244.25,376.86 L245.25,377.03 L246.26,377.18 L247.26,377.33 L248.27,377.47 L249.27,377.59 L250.27,377.71 L251.28,377.82 L252.28,377.92 L253.28,378.02 L254.29,378.1 L255.29,378.18 L256.3,378.26 L257.3,378.32 L258.3,378.39 L259.31,378.45 L260.31,378.5 L261.32,378.55 L262.32,378.59 L263.32,378.64 L264.33,378.67 L265.33,378.71 L266.33,378.74 L267.34,378.77 L268.34,378.8 L269.35,378.82 L270.35,378.85 L271.35,378.87 L272.36,378.89 L273.36,378.91 L274.37,378.92 L275.37,378.94 L276.37,378.95 L277.38,378.96 L278.38,378.97 L279.38,378.99 L280.39,378.99 L281.39,379 L282.4,379.01 L283.4,379.02 L284.4,379.03 L285.41,379.03 L286.41,379.04 L287.42,379.04 L288.42,379.05 L289.42,379.05 L290.43,379.06 L291.43,379.06 L292.43,379.06 L293.44,379.07 L294.44,379.07 L295.45,379.07 L296.45,379.07 L297.45,379.08 L298.46,379.08 L299.46,379.08 L300.47,379.08 L301.47,379.08 L302.47,379.08 L303.48,379.09 L304.48,379.09 L305.48,379.09 L306.49,379.09 L307.49,379.09 L308.5,379.09 L309.5,379.09" stroke="#2ecb8c" stroke-width="1.5" fill="none"/>
<path d="M48.5,343.18 L49.5,343.18 L50.51,343.18 L51.51,343.18 L52.52,343.18 L53.52,343.18 L54.52,343.18 L55.53,343.18 L56.53,343.18 L57.53,343.18 L58.54,343.18 L59.54,343.18 L60.55,343.18 L61.55,343.18 L62.55,343.18 L63.56,343.18 L64.56,343.18 L65.57,343.18 L66.57,343.18 L67.57,343.18 L68.58,343.18 L69.58,343.18 L70.58,343.18 L71.59,343.18 L72.59,343.18 L73.6,343.18 L74.6,343.18 L75.6,343.18 L76.61,343.18 L77.61,343.18 L78.62,343.18 L79.62,343.18 L80.62,343.18 L81.63,343.18 L82.63,343.18 L83.63,343.18 L84.64,343.18 L85.64,343.18 L86.65,343.18 L87.65,343.18 L88.65,343.18 L89.66,343.19 L90.66,343.19 L91.67,343.19 L92.67,343.19 L93.67,343.19 L94.68,343.19 L95.68,343.19 L96.68,343.19 L97.69,343.19 L98.69,343.19 L99.7,343.19 L100.7,343.19 L101.7,343.19 L102.71,343.19 L103.71,343.19 L104.72,343.19 L105.72,343.19 L106.72,343.19 L107.73,343.19 L108.73,343.19 L109.73,343.19 L110.74,343.2 L111.74,343.2 L112.75,343.2 L113.75,343.2 L114.75,343.2 L115.76,343.2 L116.76,343.2 L117.77,343.21 L118.77,343.21 L119.77,343.21 L120.78,343.21 L121.78,343.22 L122.78,343.22 L123.79,343.22 L124.79,343.23 L125.8,343.23 L126.8,343.24 L127.8,343.24 L128.81,343.25 L129.81,343.25 L130.82,343.26 L131.82,343.27 L132.82,343.27 L133.83,343.28 L134.83,343.29 L135.83,343.3 L136.84,343.31 L137.84,343.32 L138.85,343.34 L139.85,343.35 L140.85,343.37 L141.86,343.38 L142.86,343.4 L143.87,343.42 L144.87,343.44 L145.87,343.47 L146.88,343.49 L147.88,343.52 L148.88,343.55 L149.89,343.58 L150.89,343.62 L151.9,343.66 L152.9,343.7 L153.9,343.75 L154.91,343.8 L155.91,343.86 L156.92,343.92 L157.92,343.98 L158.92,344.05 L159.93,344.13 L160.93,344.21 L161.93,344.3 L162.94,344.4 L163.94,344.5 L164.95,344.62 L165.95,344.74 L166.95,344.87 L167.96,345.01 L168.96,345.17 L169.97,345.33 L170.97,345.51 L171.97,345.7 L172.98,345.9 L173.98,346.12 L174.98,346.35 L175.99,346.6 L176.99,346.86 L178,347.14 L179,347.43 L180,347.74 L181.01,348.07 L182.01,348.42 L183.02,348.79 L184.02,349.17 L185.02,349.57 L186.03,349.99 L187.03,350.43 L188.03,350.88 L189.04,351.36 L190.04,351.85 L191.05,352.35 L192.05,352.88 L193.05,353.41 L194.06,353.97 L195.06,354.53 L196.07,355.11 L197.07,355.7 L198.07,356.3 L199.08,356.91 L200.08,357.53 L201.08,358.15 L202.09,358.78 L203.09,359.42 L204.1,360.06 L205.1,360.7 L206.1,361.34 L207.11,361.98 L208.11,362.62 L209.12,363.26 L210.12,363.89 L211.12,364.52 L212.13,365.14 L213.13,365.76 L214.13,366.36 L215.14,366.95 L216.14,367.54 L217.15,368.11 L218.15,368.66 L219.15,369.21 L220.16,369.73 L221.16,370.25 L222.17,370.74 L223.17,371.22 L224.17,371.68 L225.18,372.13 L226.18,372.56 L227.18,372.96 L228.19,373.35 L229.19,373.73 L230.2,374.08 L231.2,374.42 L232.2,374.74 L233.21,375.04 L234.21,375.32 L235.22,375.59 L236.22,375.84 L237.22,376.08 L238.23,376.3 L239.23,376.51 L240.23,376.71 L241.24,376.89 L242.24,377.06 L243.25,377.21 L244.25,377.36 L245.25,377.5 L246.26,377.62 L247.26,377.74 L248.27,377.85 L249.27,377.95 L250.27,378.04 L251.28,378.13 L252.28,378.2 L253.28,378.28 L254.29,378.34 L255.29,378.41 L256.3,378.46 L257.3,378.52 L258.3,378.56 L259.31,378.61 L260.31,378.65 L261.32,378.69 L262.32,378.72 L263.32,378.75 L264.33,378.78 L265.33,378.81 L266.33,378.83 L267.34,378.85 L268.34,378.88 L269.35,378.89 L270.35,378.91 L271.35,378.93 L272.36,378.94 L273.36,378.95 L274.37,378.97 L275.37,378.98 L276.37,378.99 L277.38,379 L278.38,379.01 L279.38,379.01 L280.39,379.02 L281.39,379.03 L282.4,379.03 L283.4,379.04 L284.4,379.04 L285.41,379.05 L286.41,379.05 L287.42,379.06 L288.42,379.06 L289.42,379.06 L290.43,379.07 L291.43,379.07 L292.43,379.07 L293.44,379.08 L294.44,379.08 L295.45,379.08 L296.45,379.08 L297.45,379.08 L298.46,379.08 L299.46,379.09 L300.47,379.09 L301.47,379.09 L302.47,379.09 L303.48,379.09 L304.48,379.09 L305.48,379.09 L306.49,379.09 L307.49,379.09 L308.5,379.09 L309.5,379.09" stroke="#32d8e8" stroke-width="1.5" fill="none"/>
<path d="M48.5,329.32 L49.5,329.32 L50.51,329.32 L51.51,329.32 L52.52,329.32 L53.52,329.32 L54.52,329.32 L55.53,329.32 L56.53,329.32 L57.53,329.32 L58.54,329.32 L59.54,329.32 L60.55,329.32 L61.55,329.32 L62.55,329.32 L63.56,329.32 L64.56,329.32 L65.57,329.32 L66.57,329.32 L67.57,329.32 L68.58,329.32 L69.58,329.32 L70.58,329.32 L71.59,329.32 L72.59,329.32 L73.6,329.32 L74.6,329.32 L75.6,329.32 L76.61,329.32 L77.61,329.32 L78.62,329.33 L79.62,329.33 L80.62,329.33 L81.63,329.33 L82.63,329.33 L83.63,329.33 L84.64,329.33 L85.64,329.33 L86.65,329.33 L87.65,329.33 L88.65,329.33 L89.66,329.33 L90.66,329.33 L91.67,329.33 L92.67,329.33 L93.67,329.34 L94.68,329.34 L95.68,329.34 L96.68,329.34 L97.69,329.34 L98.69,329.34 L99.7,329.34 L100.7,329.35 L101.7,329.35 L102.71,329.35 L103.71,329.35 L104.72,329.36 L105.72,329.36 L106.72,329.36 L107.73,329.37 L108.73,329.37 L109.73,329.38 L110.74,329.38 L111.74,329.39 L112.75,329.39 L113.75,329.4 L114.75,329.41 L115.76,329.42 L116.76,329.43 L117.77,329.44 L118.77,329.45 L119.77,329.46 L120.78,329.47 L121.78,329.48 L122.78,329.5 L123.79,329.51 L124.79,329.53 L125.8,329.55 L126.8,329.57 L127.8,329.59 L128.81,329.62 L129.81,329.65 L130.82,329.68 L131.82,329.71 L132.82,329.74 L133.83,329.78 L134.83,329.82 L135.83,329.87 L136.84,329.92 L137.84,329.97 L138.85,330.03 L139.85,330.09 L140.85,330.16 L141.86,330.24 L142.86,330.32 L143.87,330.4 L144.87,330.5 L145.87,330.6 L146.88,330.71 L147.88,330.83 L148.88,330.96 L149.89,331.1 L150.89,331.25 L151.9,331.41 L152.9,331.59 L153.9,331.77 L154.91,331.97 L155.91,332.19 L156.92,332.41 L157.92,332.66 L158.92,332.92 L159.93,333.2 L160.93,333.49 L161.93,333.8 L162.94,334.13 L163.94,334.48 L164.95,334.85 L165.95,335.23 L166.95,335.64 L167.96,336.07 L168.96,336.51 L169.97,336.98 L170.97,337.46 L171.97,337.97 L172.98,338.49 L173.98,339.03 L174.98,339.59 L175.99,340.17 L176.99,340.77 L178,341.38 L179,342.01 L180,342.65 L181.01,343.31 L182.01,343.98 L183.02,344.66 L184.02,345.36 L185.02,346.06 L186.03,346.78 L187.03,347.51 L188.03,348.24 L189.04,348.98 L190.04,349.73 L191.05,350.48 L192.05,351.24 L193.05,352 L194.06,352.76 L195.06,353.53 L196.07,354.29 L197.07,355.06 L198.07,355.82 L199.08,356.59 L200.08,357.35 L201.08,358.1 L202.09,358.85 L203.09,359.6 L204.1,360.34 L205.1,361.07 L206.1,361.79 L207.11,362.51 L208.11,363.21 L209.12,363.9 L210.12,364.59 L211.12,365.25 L212.13,365.91 L213.13,366.55 L214.13,367.17 L215.14,367.78 L216.14,368.37 L217.15,368.95 L218.15,369.5 L219.15,370.04 L220.16,370.56 L221.16,371.06 L222.17,371.54 L223.17,372 L224.17,372.45 L225.18,372.87 L226.18,373.27 L227.18,373.65 L228.19,374.02 L229.19,374.36 L230.2,374.69 L231.2,375 L232.2,375.29 L233.21,375.56 L234.21,375.82 L235.22,376.06 L236.22,376.28 L237.22,376.49 L238.23,376.69 L239.23,376.87 L240.23,377.04 L241.24,377.2 L242.24,377.35 L243.25,377.49 L244.25,377.61 L245.25,377.73 L246.26,377.84 L247.26,377.94 L248.27,378.04 L249.27,378.12 L250.27,378.2 L251.28,378.27 L252.28,378.34 L253.28,378.4 L254.29,378.46 L255.29,378.51 L256.3,378.56 L257.3,378.61 L258.3,378.65 L259.31,378.69 L260.31,378.72 L261.32,378.75 L262.32,378.78 L263.32,378.81 L264.33,378.83 L265.33,378.85 L266.33,378.87 L267.34,378.89 L268.34,378.91 L269.35,378.93 L270.35,378.94 L271.35,378.95 L272.36,378.97 L273.36,378.98 L274.37,378.99 L275.37,379 L276.37,379.01 L277.38,379.01 L278.38,379.02 L279.38,379.03 L280.39,379.03 L281.39,379.04 L282.4,379.04 L283.4,379.05 L284.4,379.05 L285.41,379.06 L286.41,379.06 L287.42,379.06 L288.42,379.07 L289.42,379.07 L290.43,379.07 L291.43,379.08 L292.43,379.08 L293.44,379.08 L294.44,379.08 L295.45,379.08 L296.45,379.08 L297.45,379.09 L298.46,379.09 L299.46,379.09 L300.47,379.09 L301.47,379.09 L302.47,379.09 L303.48,379.09 L304.48,379.09 L305.48,379.09 L306.49,379.09 L307.49,379.09 L308.5,379.09 L309.5,379.09" stroke="#1f5fcc" stroke-width="1.5" fill="none"/>
<path d="M48.5,314.43 L49.5,314.43 L50.51,314.43 L51.51,314.43 L52.52,314.43 L53.52,314.43 L54.52,314.43 L55.53,314.43 L56.53,314.43 L57.53,314.43 L58.54,314.43 L59.54,314.43 L60.55,314.43 L61.55,314.43 L62.55,314.43 L63.56,314.43 L64.56,314.43 L65.57,314.43 L66.57,314.43 L67.57,314.43 L68.58,314.43 L69.58,314.43 L70.58,314.43 L71.59,314.43 L72.59,314.43 L73.6,314.44 L74.6,314.44 L75.6,314.44 L76.61,314.44 L77.61,314.44 L78.62,314.44 L79.62,314.44 L80.62,314.44 L81.63,314.45 L82.63,314.45 L83.63,314.45 L84.64,314.45 L85.64,314.46 L86.65,314.46 L87.65,314.46 L88.65,314.47 L89.66,314.47 L90.66,314.47 L91.67,314.48 L92.67,314.48 L93.67,314.49 L94.68,314.49 L95.68,314.5 L96.68,314.51 L97.69,314.52 L98.69,314.52 L99.7,314.53 L100.7,314.54 L101.7,314.55 L102.71,314.57 L103.71,314.58 L104.72,314.59 L105.72,314.61 L106.72,314.62 L107.73,314.64 L108.73,314.66 L109.73,314.68 L110.74,314.71 L111.74,314.73 L112.75,314.76 L113.75,314.79 L114.75,314.83 L115.76,314.86 L116.76,314.9 L117.77,314.95 L118.77,314.99 L119.77,315.04 L120.78,315.1 L121.78,315.16 L122.78,315.22 L123.79,315.3 L124.79,315.37 L125.8,315.46 L126.8,315.55 L127.8,315.64 L128.81,315.75 L129.81,315.86 L130.82,315.99 L131.82,316.12 L132.82,316.27 L133.83,316.42 L134.83,316.59 L135.83,316.77 L136.84,316.96 L137.84,317.17 L138.85,317.39 L139.85,317.62 L140.85,317.87 L141.86,318.14 L142.86,318.43 L143.87,318.73 L144.87,319.05 L145.87,319.39 L146.88,319.75 L147.88,320.13 L148.88,320.52 L149.89,320.94 L150.89,321.38 L151.9,321.84 L152.9,322.32 L153.9,322.81 L154.91,323.33 L155.91,323.87 L156.92,324.43 L157.92,325 L158.92,325.6 L159.93,326.21 L160.93,326.84 L161.93,327.49 L162.94,328.15 L163.94,328.83 L164.95,329.52 L165.95,330.23 L166.95,330.95 L167.96,331.68 L168.96,332.43 L169.97,333.18 L170.97,333.95 L171.97,334.72 L172.98,335.51 L173.98,336.3 L174.98,337.1 L175.99,337.9 L176.99,338.72 L178,339.53 L179,340.36 L180,341.18 L181.01,342.01 L182.01,342.85 L183.02,343.69 L184.02,344.52 L185.02,345.36 L186.03,346.2 L187.03,347.05 L188.03,347.89 L189.04,348.73 L190.04,349.57 L191.05,350.4 L192.05,351.24 L193.05,352.07 L194.06,352.9 L195.06,353.72 L196.07,354.54 L197.07,355.36 L198.07,356.16 L199.08,356.97 L200.08,357.76 L201.08,358.55 L202.09,359.33 L203.09,360.09 L204.1,360.85 L205.1,361.6 L206.1,362.34 L207.11,363.06 L208.11,363.77 L209.12,364.47 L210.12,365.15 L211.12,365.82 L212.13,366.47 L213.13,367.11 L214.13,367.73 L215.14,368.33 L216.14,368.91 L217.15,369.47 L218.15,370.02 L219.15,370.54 L220.16,371.05 L221.16,371.53 L222.17,372 L223.17,372.44 L224.17,372.87 L225.18,373.27 L226.18,373.66 L227.18,374.02 L228.19,374.37 L229.19,374.69 L230.2,375 L231.2,375.29 L232.2,375.57 L233.21,375.82 L234.21,376.06 L235.22,376.29 L236.22,376.5 L237.22,376.7 L238.23,376.88 L239.23,377.05 L240.23,377.21 L241.24,377.36 L242.24,377.49 L243.25,377.62 L244.25,377.74 L245.25,377.85 L246.26,377.95 L247.26,378.04 L248.27,378.13 L249.27,378.2 L250.27,378.28 L251.28,378.35 L252.28,378.41 L253.28,378.46 L254.29,378.52 L255.29,378.56 L256.3,378.61 L257.3,378.65 L258.3,378.69 L259.31,378.72 L260.31,378.75 L261.32,378.78 L262.32,378.81 L263.32,378.83 L264.33,378.86 L265.33,378.88 L266.33,378.89 L267.34,378.91 L268.34,378.93 L269.35,378.94 L270.35,378.96 L271.35,378.97 L272.36,378.98 L273.36,378.99 L274.37,379 L275.37,379.01 L276.37,379.01 L277.38,379.02 L278.38,379.03 L279.38,379.03 L280.39,379.04 L281.39,379.05 L282.4,379.05 L283.4,379.05 L284.4,379.06 L285.41,379.06 L286.41,379.06 L287.42,379.07 L288.42,379.07 L289.42,379.07 L290.43,379.08 L291.43,379.08 L292.43,379.08 L293.44,379.08 L294.44,379.08 L295.45,379.08 L296.45,379.09 L297.45,379.09 L298.46,379.09 L299.46,379.09 L300.47,379.09 L301.47,379.09 L302.47,379.09 L303.48,379.09 L304.48,379.09 L305.48,379.09 L306.49,379.09 L307.49,379.09 L308.5,379.09 L309.5,379.1" stroke="#2a18aa" stroke-width="1.5" fill="none"/>
<path d="M48.5,299 L49.5,299 L50.51,299 L51.51,299 L52.52,299 L53.52,299 L54.52,299 L55.53,299 L56.53,299 L57.53,299 L58.54,299 L59.54,299.01 L60.55,299.01 L61.55,299.01 L62.55,299.01 L63.56,299.01 L64.56,299.01 L65.57,299.02 L66.57,299.02 L67.57,299.02 L68.58,299.02 L69.58,299.03 L70.58,299.03 L71.59,299.03 L72.59,299.04 L73.6,299.04 L74.6,299.05 L75.6,299.05 L76.61,299.06 L77.61,299.06 L78.62,299.07 L79.62,299.08 L80.62,299.08 L81.63,299.09 L82.63,299.1 L83.63,299.11 L84.64,299.12 L85.64,299.14 L86.65,299.15 L87.65,299.16 L88.65,299.18 L89.66,299.2 L90.66,299.22 L91.67,299.24 L92.67,299.26 L93.67,299.28 L94.68,299.31 L95.68,299.34 L96.68,299.37 L97.69,299.4 L98.69,299.44 L99.7,299.48 L100.7,299.53 L101.7,299.58 L102.71,299.63 L103.71,299.69 L104.72,299.75 L105.72,299.81 L106.72,299.89 L107.73,299.97 L108.73,300.05 L109.73,300.15 L110.74,300.25 L111.74,300.36 L112.75,300.47 L113.75,300.6 L114.75,300.74 L115.76,300.89 L116.76,301.04 L117.77,301.22 L118.77,301.4 L119.77,301.6 L120.78,301.81 L121.78,302.03 L122.78,302.28 L123.79,302.53 L124.79,302.81 L125.8,303.1 L126.8,303.41 L127.8,303.74 L128.81,304.08 L129.81,304.45 L130.82,304.83 L131.82,305.24 L132.82,305.67 L133.83,306.11 L134.83,306.58 L135.83,307.06 L136.84,307.57 L137.84,308.1 L138.85,308.64 L139.85,309.21 L140.85,309.79 L141.86,310.4 L142.86,311.02 L143.87,311.66 L144.87,312.31 L145.87,312.99 L146.88,313.67 L147.88,314.38 L148.88,315.09 L149.89,315.82 L150.89,316.56 L151.9,317.32 L152.9,318.08 L153.9,318.86 L154.91,319.65 L155.91,320.44 L156.92,321.25 L157.92,322.06 L158.92,322.88 L159.93,323.71 L160.93,324.54 L161.93,325.38 L162.94,326.23 L163.94,327.08 L164.95,327.93 L165.95,328.79 L166.95,329.65 L167.96,330.52 L168.96,331.39 L169.97,332.26 L170.97,333.13 L171.97,334.01 L172.98,334.89 L173.98,335.76 L174.98,336.64 L175.99,337.53 L176.99,338.41 L178,339.29 L179,340.17 L180,341.05 L181.01,341.93 L182.01,342.81 L183.02,343.69 L184.02,344.56 L185.02,345.44 L186.03,346.31 L187.03,347.18 L188.03,348.05 L189.04,348.91 L190.04,349.77 L191.05,350.63 L192.05,351.48 L193.05,352.33 L194.06,353.17 L195.06,354.01 L196.07,354.84 L197.07,355.66 L198.07,356.48 L199.08,357.29 L200.08,358.09 L201.08,358.88 L202.09,359.66 L203.09,360.43 L204.1,361.19 L205.1,361.94 L206.1,362.67 L207.11,363.39 L208.11,364.1 L209.12,364.8 L210.12,365.48 L211.12,366.14 L212.13,366.79 L213.13,367.41 L214.13,368.03 L215.14,368.62 L216.14,369.19 L217.15,369.75 L218.15,370.28 L219.15,370.8 L220.16,371.3 L221.16,371.77 L222.17,372.23 L223.17,372.66 L224.17,373.08 L225.18,373.47 L226.18,373.85 L227.18,374.2 L228.19,374.54 L229.19,374.85 L230.2,375.15 L231.2,375.44 L232.2,375.7 L233.21,375.95 L234.21,376.18 L235.22,376.4 L236.22,376.6 L237.22,376.79 L238.23,376.97 L239.23,377.13 L240.23,377.29 L241.24,377.43 L242.24,377.56 L243.25,377.68 L244.25,377.8 L245.25,377.9 L246.26,378 L247.26,378.09 L248.27,378.17 L249.27,378.24 L250.27,378.31 L251.28,378.38 L252.28,378.44 L253.28,378.49 L254.29,378.54 L255.29,378.59 L256.3,378.63 L257.3,378.67 L258.3,378.71 L259.31,378.74 L260.31,378.77 L261.32,378.8 L262.32,378.82 L263.32,378.84 L264.33,378.87 L265.33,378.89 L266.33,378.9 L267.34,378.92 L268.34,378.94 L269.35,378.95 L270.35,378.96 L271.35,378.97 L272.36,378.98 L273.36,378.99 L274.37,379 L275.37,379.01 L276.37,379.02 L277.38,379.03 L278.38,379.03 L279.38,379.04 L280.39,379.04 L281.39,379.05 L282.4,379.05 L283.4,379.06 L284.4,379.06 L285.41,379.06 L286.41,379.07 L287.42,379.07 L288.42,379.07 L289.42,379.07 L290.43,379.08 L291.43,379.08 L292.43,379.08 L293.44,379.08 L294.44,379.08 L295.45,379.08 L296.45,379.09 L297.45,379.09 L298.46,379.09 L299.46,379.09 L300.47,379.09 L301.47,379.09 L302.47,379.09 L303.48,379.09 L304.48,379.09 L305.48,379.09 L306.49,379.09 L307.49,379.09 L308.5,379.1 L309.5,379.1" stroke="#9e22bc" stroke-width="1.5" fill="none"/>
<path d="M48.5,283.32 L49.5,283.32 L50.51,283.32 L51.51,283.33 L52.52,283.33 L53.52,283.33 L54.52,283.34 L55.53,283.34 L56.53,283.35 L57.53,283.35 L58.54,283.36 L59.54,283.36 L60.55,283.37 L61.55,283.37 L62.55,283.38 L63.56,283.39 L64.56,283.4 L65.57,283.41 L66.57,283.42 L67.57,283.43 L68.58,283.44 L69.58,283.46 L70.58,283.47 L71.59,283.49 L72.59,283.51 L73.6,283.52 L74.6,283.55 L75.6,283.57 L76.61,283.59 L77.61,283.62 L78.62,283.65 L79.62,283.68 L80.62,283.72 L81.63,283.76 L82.63,283.8 L83.63,283.85 L84.64,283.9 L85.64,283.95 L86.65,284.01 L87.65,284.07 L88.65,284.14 L89.66,284.22 L90.66,284.3 L91.67,284.39 L92.67,284.48 L93.67,284.59 L94.68,284.7 L95.68,284.82 L96.68,284.95 L97.69,285.09 L98.69,285.24 L99.7,285.4 L100.7,285.58 L101.7,285.77 L102.71,285.97 L103.71,286.19 L104.72,286.42 L105.72,286.66 L106.72,286.93 L107.73,287.21 L108.73,287.5 L109.73,287.82 L110.74,288.15 L111.74,288.51 L112.75,288.88 L113.75,289.27 L114.75,289.69 L115.76,290.12 L116.76,290.57 L117.77,291.04 L118.77,291.54 L119.77,292.05 L120.78,292.59 L121.78,293.14 L122.78,293.71 L123.79,294.3 L124.79,294.91 L125.8,295.54 L126.8,296.19 L127.8,296.85 L128.81,297.53 L129.81,298.22 L130.82,298.93 L131.82,299.65 L132.82,300.38 L133.83,301.13 L134.83,301.89 L135.83,302.66 L136.84,303.45 L137.84,304.24 L138.85,305.04 L139.85,305.85 L140.85,306.67 L141.86,307.49 L142.86,308.32 L143.87,309.16 L144.87,310.01 L145.87,310.86 L146.88,311.72 L147.88,312.58 L148.88,313.44 L149.89,314.31 L150.89,315.18 L151.9,316.06 L152.9,316.94 L153.9,317.82 L154.91,318.71 L155.91,319.6 L156.92,320.49 L157.92,321.38 L158.92,322.27 L159.93,323.17 L160.93,324.06 L161.93,324.96 L162.94,325.86 L163.94,326.76 L164.95,327.66 L165.95,328.56 L166.95,329.46 L167.96,330.36 L168.96,331.26 L169.97,332.16 L170.97,333.06 L171.97,333.96 L172.98,334.86 L173.98,335.76 L174.98,336.66 L175.99,337.56 L176.99,338.46 L178,339.35 L179,340.25 L180,341.14 L181.01,342.03 L182.01,342.92 L183.02,343.81 L184.02,344.69 L185.02,345.58 L186.03,346.45 L187.03,347.33 L188.03,348.2 L189.04,349.07 L190.04,349.94 L191.05,350.8 L192.05,351.65 L193.05,352.5 L194.06,353.35 L195.06,354.19 L196.07,355.02 L197.07,355.84 L198.07,356.66 L199.08,357.47 L200.08,358.27 L201.08,359.06 L202.09,359.84 L203.09,360.61 L204.1,361.37 L205.1,362.11 L206.1,362.85 L207.11,363.57 L208.11,364.27 L209.12,364.96 L210.12,365.64 L211.12,366.3 L212.13,366.94 L213.13,367.57 L214.13,368.17 L215.14,368.76 L216.14,369.33 L217.15,369.88 L218.15,370.41 L219.15,370.93 L220.16,371.42 L221.16,371.89 L222.17,372.34 L223.17,372.77 L224.17,373.18 L225.18,373.57 L226.18,373.94 L227.18,374.29 L228.19,374.62 L229.19,374.93 L230.2,375.23 L231.2,375.5 L232.2,375.77 L233.21,376.01 L234.21,376.24 L235.22,376.45 L236.22,376.65 L237.22,376.84 L238.23,377.01 L239.23,377.17 L240.23,377.32 L241.24,377.46 L242.24,377.59 L243.25,377.71 L244.25,377.82 L245.25,377.93 L246.26,378.02 L247.26,378.11 L248.27,378.19 L249.27,378.26 L250.27,378.33 L251.28,378.39 L252.28,378.45 L253.28,378.51 L254.29,378.55 L255.29,378.6 L256.3,378.64 L257.3,378.68 L258.3,378.71 L259.31,378.75 L260.31,378.78 L261.32,378.8 L262.32,378.83 L263.32,378.85 L264.33,378.87 L265.33,378.89 L266.33,378.91 L267.34,378.92 L268.34,378.94 L269.35,378.95 L270.35,378.96 L271.35,378.98 L272.36,378.99 L273.36,379 L274.37,379.01 L275.37,379.01 L276.37,379.02 L277.38,379.03 L278.38,379.03 L279.38,379.04 L280.39,379.04 L281.39,379.05 L282.4,379.05 L283.4,379.06 L284.4,379.06 L285.41,379.06 L286.41,379.07 L287.42,379.07 L288.42,379.07 L289.42,379.07 L290.43,379.08 L291.43,379.08 L292.43,379.08 L293.44,379.08 L294.44,379.08 L295.45,379.09 L296.45,379.09 L297.45,379.09 L298.46,379.09 L299.46,379.09 L300.47,379.09 L301.47,379.09 L302.47,379.09 L303.48,379.09 L304.48,379.09 L305.48,379.09 L306.49,379.09 L307.49,379.09 L308.5,379.1 L309.5,379.1" stroke="#c81e94" stroke-width="1.5" fill="none"/></g>
<g clip-path="url(#clip2d)"><path d="M48.5,422.5 L49.5,422.5 L50.51,422.5 L51.51,422.5 L52.52,422.5 L53.52,422.5 L54.52,422.5 L55.53,422.5 L56.53,422.5 L57.53,422.5 L58.54,422.5 L59.54,422.5 L60.55,422.5 L61.55,422.5 L62.55,422.5 L63.56,422.5 L64.56,422.5 L65.57,422.5 L66.57,422.5 L67.57,422.5 L68.58,422.5 L69.58,422.5 L70.58,422.5 L71.59,422.5 L72.59,422.5 L73.6,422.5 L74.6,422.5 L75.6,422.5 L76.61,422.5 L77.61,422.5 L78.62,422.5 L79.62,422.5 L80.62,422.5 L81.63,422.5 L82.63,422.5 L83.63,422.5 L84.64,422.5 L85.64,422.5 L86.65,422.5 L87.65,422.5 L88.65,422.5 L89.66,422.5 L90.66,422.5 L91.67,422.5 L92.67,422.5 L93.67,422.5 L94.68,422.5 L95.68,422.5 L96.68,422.5 L97.69,422.5 L98.69,422.5 L99.7,422.5 L100.7,422.5 L101.7,422.5 L102.71,422.5 L103.71,422.5 L104.72,422.5 L105.72,422.5 L106.72,422.5 L107.73,422.5 L108.73,422.5 L109.73,422.5 L110.74,422.51 L111.74,422.51 L112.75,422.51 L113.75,422.51 L114.75,422.51 L115.76,422.51 L116.76,422.51 L117.77,422.51 L118.77,422.51 L119.77,422.51 L120.78,422.51 L121.78,422.51 L122.78,422.51 L123.79,422.51 L124.79,422.51 L125.8,422.51 L126.8,422.51 L127.8,422.51 L128.81,422.51 L129.81,422.51 L130.82,422.51 L131.82,422.51 L132.82,422.51 L133.83,422.51 L134.83,422.51 L135.83,422.52 L136.84,422.52 L137.84,422.52 L138.85,422.52 L139.85,422.52 L140.85,422.52 L141.86,422.52 L142.86,422.52 L143.87,422.52 L144.87,422.52 L145.87,422.52 L146.88,422.52 L147.88,422.53 L148.88,422.53 L149.89,422.53 L150.89,422.53 L151.9,422.53 L152.9,422.53 L153.9,422.53 L154.91,422.54 L155.91,422.54 L156.92,422.54 L157.92,422.54 L158.92,422.54 L159.93,422.54 L160.93,422.55 L161.93,422.55 L162.94,422.55 L163.94,422.55 L164.95,422.55 L165.95,422.56 L166.95,422.56 L167.96,422.56 L168.96,422.57 L169.97,422.57 L170.97,422.57 L171.97,422.57 L172.98,422.58 L173.98,422.58 L174.98,422.59 L175.99,422.59 L176.99,422.59 L178,422.6 L179,422.6 L180,422.61 L181.01,422.61 L182.01,422.62 L183.02,422.62 L184.02,422.63 L185.02,422.63 L186.03,422.64 L187.03,422.65 L188.03,422.65 L189.04,422.66 L190.04,422.67 L191.05,422.67 L192.05,422.68 L193.05,422.69 L194.06,422.7 L195.06,422.71 L196.07,422.72 L197.07,422.73 L198.07,422.74 L199.08,422.75 L200.08,422.76 L201.08,422.77 L202.09,422.78 L203.09,422.8 L204.1,422.81 L205.1,422.82 L206.1,422.84 L207.11,422.85 L208.11,422.87 L209.12,422.88 L210.12,422.9 L211.12,422.92 L212.13,422.94 L213.13,422.96 L214.13,422.98 L215.14,423 L216.14,423.02 L217.15,423.05 L218.15,423.07 L219.15,423.1 L220.16,423.12 L221.16,423.15 L222.17,423.18 L223.17,423.21 L224.17,423.24 L225.18,423.27 L226.18,423.31 L227.18,423.34 L228.19,423.38 L229.19,423.42 L230.2,423.46 L231.2,423.5 L232.2,423.54 L233.21,423.59 L234.21,423.63 L235.22,423.68 L236.22,423.73 L237.22,423.78 L238.23,423.84 L239.23,423.89 L240.23,423.95 L241.24,424.01 L242.24,424.07 L243.25,424.13 L244.25,424.2 L245.25,424.26 L246.26,424.33 L247.26,424.4 L248.27,424.47 L249.27,424.54 L250.27,424.61 L251.28,424.69 L252.28,424.76 L253.28,424.84 L254.29,424.91 L255.29,424.99 L256.3,425.06 L257.3,425.14 L258.3,425.21 L259.31,425.28 L260.31,425.35 L261.32,425.42 L262.32,425.49 L263.32,425.55 L264.33,425.61 L265.33,425.66 L266.33,425.71 L267.34,425.76 L268.34,425.8 L269.35,425.83 L270.35,425.86 L271.35,425.88 L272.36,425.9 L273.36,425.91 L274.37,425.91 L275.37,425.91 L276.37,425.9 L277.38,425.88 L278.38,425.86 L279.38,425.83 L280.39,425.79 L281.39,425.75 L282.4,425.7 L283.4,425.65 L284.4,425.6 L285.41,425.54 L286.41,425.47 L287.42,425.41 L288.42,425.34 L289.42,425.27 L290.43,425.2 L291.43,425.12 L292.43,425.05 L293.44,424.97 L294.44,424.9 L295.45,424.82 L296.45,424.75 L297.45,424.67 L298.46,424.6 L299.46,424.53 L300.47,424.46 L301.47,424.38 L302.47,424.32 L303.48,424.25 L304.48,424.18 L305.48,424.12 L306.49,424.06 L307.49,424 L308.5,423.94 L309.5,423.88" stroke="#d92626" stroke-width="1.5" fill="none"/>
<path d="M48.5,422.5 L49.5,422.5 L50.51,422.5 L51.51,422.5 L52.52,422.5 L53.52,422.5 L54.52,422.5 L55.53,422.5 L56.53,422.5 L57.53,422.5 L58.54,422.5 L59.54,422.5 L60.55,422.5 L61.55,422.5 L62.55,422.5 L63.56,422.5 L64.56,422.5 L65.57,422.5 L66.57,422.5 L67.57,422.5 L68.58,422.5 L69.58,422.5 L70.58,422.5 L71.59,422.5 L72.59,422.5 L73.6,422.5 L74.6,422.5 L75.6,422.5 L76.61,422.5 L77.61,422.5 L78.62,422.51 L79.62,422.51 L80.62,422.51 L81.63,422.51 L82.63,422.51 L83.63,422.51 L84.64,422.51 L85.64,422.51 L86.65,422.51 L87.65,422.51 L88.65,422.51 L89.66,422.51 L90.66,422.51 L91.67,422.51 L92.67,422.51 L93.67,422.51 L94.68,422.51 L95.68,422.51 L96.68,422.51 L97.69,422.51 L98.69,422.51 L99.7,422.51 L100.7,422.51 L101.7,422.51 L102.71,422.51 L103.71,422.52 L104.72,422.52 L105.72,422.52 L106.72,422.52 L107.73,422.52 L108.73,422.52 L109.73,422.52 L110.74,422.52 L111.74,422.52 L112.75,422.52 L113.75,422.52 L114.75,422.53 L115.76,422.53 L116.76,422.53 L117.77,422.53 L118.77,422.53 L119.77,422.53 L120.78,422.53 L121.78,422.53 L122.78,422.54 L123.79,422.54 L124.79,422.54 L125.8,422.54 L126.8,422.54 L127.8,422.54 L128.81,422.55 L129.81,422.55 L130.82,422.55 L131.82,422.55 L132.82,422.56 L133.83,422.56 L134.83,422.56 L135.83,422.56 L136.84,422.57 L137.84,422.57 L138.85,422.57 L139.85,422.58 L140.85,422.58 L141.86,422.58 L142.86,422.59 L143.87,422.59 L144.87,422.6 L145.87,422.6 L146.88,422.6 L147.88,422.61 L148.88,422.61 L149.89,422.62 L150.89,422.62 L151.9,422.63 L152.9,422.64 L153.9,422.64 L154.91,422.65 L155.91,422.66 L156.92,422.66 L157.92,422.67 L158.92,422.68 L159.93,422.69 L160.93,422.69 L161.93,422.7 L162.94,422.71 L163.94,422.72 L164.95,422.73 L165.95,422.74 L166.95,422.75 L167.96,422.76 L168.96,422.78 L169.97,422.79 L170.97,422.8 L171.97,422.81 L172.98,422.83 L173.98,422.84 L174.98,422.86 L175.99,422.88 L176.99,422.89 L178,422.91 L179,422.93 L180,422.95 L181.01,422.97 L182.01,422.99 L183.02,423.01 L184.02,423.03 L185.02,423.06 L186.03,423.08 L187.03,423.11 L188.03,423.14 L189.04,423.17 L190.04,423.2 L191.05,423.23 L192.05,423.26 L193.05,423.3 L194.06,423.33 L195.06,423.37 L196.07,423.41 L197.07,423.45 L198.07,423.49 L199.08,423.54 L200.08,423.58 L201.08,423.63 L202.09,423.68 L203.09,423.73 L204.1,423.79 L205.1,423.84 L206.1,423.9 L207.11,423.97 L208.11,424.03 L209.12,424.1 L210.12,424.17 L211.12,424.24 L212.13,424.32 L213.13,424.4 L214.13,424.48 L215.14,424.57 L216.14,424.66 L217.15,424.75 L218.15,424.84 L219.15,424.94 L220.16,425.05 L221.16,425.15 L222.17,425.26 L223.17,425.38 L224.17,425.5 L225.18,425.62 L226.18,425.74 L227.18,425.87 L228.19,426 L229.19,426.14 L230.2,426.28 L231.2,426.42 L232.2,426.56 L233.21,426.71 L234.21,426.86 L235.22,427.01 L236.22,427.17 L237.22,427.32 L238.23,427.47 L239.23,427.63 L240.23,427.78 L241.24,427.93 L242.24,428.08 L243.25,428.23 L244.25,428.37 L245.25,428.51 L246.26,428.64 L247.26,428.77 L248.27,428.88 L249.27,428.99 L250.27,429.09 L251.28,429.18 L252.28,429.26 L253.28,429.33 L254.29,429.38 L255.29,429.43 L256.3,429.46 L257.3,429.47 L258.3,429.48 L259.31,429.46 L260.31,429.44 L261.32,429.4 L262.32,429.35 L263.32,429.29 L264.33,429.21 L265.33,429.13 L266.33,429.03 L267.34,428.93 L268.34,428.81 L269.35,428.69 L270.35,428.56 L271.35,428.42 L272.36,428.28 L273.36,428.14 L274.37,427.99 L275.37,427.84 L276.37,427.69 L277.38,427.53 L278.38,427.38 L279.38,427.22 L280.39,427.07 L281.39,426.92 L282.4,426.77 L283.4,426.62 L284.4,426.47 L285.41,426.33 L286.41,426.19 L287.42,426.05 L288.42,425.92 L289.42,425.79 L290.43,425.66 L291.43,425.54 L292.43,425.42 L293.44,425.31 L294.44,425.19 L295.45,425.09 L296.45,424.98 L297.45,424.88 L298.46,424.78 L299.46,424.69 L300.47,424.6 L301.47,424.51 L302.47,424.43 L303.48,424.35 L304.48,424.27 L305.48,424.2 L306.49,424.13 L307.49,424.06 L308.5,423.99 L309.5,423.93" stroke="#f19c38" stroke-width="1.5" fill="none"/>
<path d="M48.5,422.51 L49.5,422.51 L50.51,422.51 L51.51,422.51 L52.52,422.51 L53.52,422.51 L54.52,422.51 L55.53,422.51 L56.53,422.51 L57.53,422.51 L58.54,422.51 L59.54,422.51 L60.55,422.51 L61.55,422.51 L62.55,422.51 L63.56,422.51 L64.56,422.51 L65.57,422.51 L66.57,422.51 L67.57,422.51 L68.58,422.51 L69.58,422.51 L70.58,422.51 L71.59,422.51 L72.59,422.52 L73.6,422.52 L74.6,422.52 L75.6,422.52 L76.61,422.52 L77.61,422.52 L78.62,422.52 L79.62,422.52 L80.62,422.52 L81.63,422.52 L82.63,422.52 L83.63,422.52 L84.64,422.53 L85.64,422.53 L86.65,422.53 L87.65,422.53 L88.65,422.53 L89.66,422.53 L90.66,422.53 L91.67,422.54 L92.67,422.54 L93.67,422.54 L94.68,422.54 L95.68,422.54 L96.68,422.54 L97.69,422.55 L98.69,422.55 L99.7,422.55 L100.7,422.55 L101.7,422.55 L102.71,422.56 L103.71,422.56 L104.72,422.56 L105.72,422.57 L106.72,422.57 L107.73,422.57 L108.73,422.57 L109.73,422.58 L110.74,422.58 L111.74,422.59 L112.75,422.59 L113.75,422.59 L114.75,422.6 L115.76,422.6 L116.76,422.61 L117.77,422.61 L118.77,422.62 L119.77,422.62 L120.78,422.63 L121.78,422.63 L122.78,422.64 L123.79,422.64 L124.79,422.65 L125.8,422.66 L126.8,422.67 L127.8,422.67 L128.81,422.68 L129.81,422.69 L130.82,422.7 L131.82,422.71 L132.82,422.72 L133.83,422.73 L134.83,422.74 L135.83,422.75 L136.84,422.76 L137.84,422.77 L138.85,422.78 L139.85,422.79 L140.85,422.81 L141.86,422.82 L142.86,422.84 L143.87,422.85 L144.87,422.87 L145.87,422.88 L146.88,422.9 L147.88,422.92 L148.88,422.94 L149.89,422.96 L150.89,422.98 L151.9,423 L152.9,423.02 L153.9,423.05 L154.91,423.07 L155.91,423.1 L156.92,423.12 L157.92,423.15 L158.92,423.18 L159.93,423.21 L160.93,423.24 L161.93,423.28 L162.94,423.31 L163.94,423.35 L164.95,423.39 L165.95,423.43 L166.95,423.47 L167.96,423.51 L168.96,423.56 L169.97,423.61 L170.97,423.66 L171.97,423.71 L172.98,423.77 L173.98,423.82 L174.98,423.88 L175.99,423.94 L176.99,424.01 L178,424.08 L179,424.15 L180,424.22 L181.01,424.3 L182.01,424.38 L183.02,424.46 L184.02,424.55 L185.02,424.64 L186.03,424.74 L187.03,424.84 L188.03,424.94 L189.04,425.05 L190.04,425.17 L191.05,425.28 L192.05,425.41 L193.05,425.53 L194.06,425.67 L195.06,425.81 L196.07,425.95 L197.07,426.1 L198.07,426.26 L199.08,426.42 L200.08,426.59 L201.08,426.77 L202.09,426.95 L203.09,427.14 L204.1,427.34 L205.1,427.54 L206.1,427.75 L207.11,427.97 L208.11,428.19 L209.12,428.42 L210.12,428.66 L211.12,428.91 L212.13,429.16 L213.13,429.42 L214.13,429.69 L215.14,429.96 L216.14,430.24 L217.15,430.52 L218.15,430.81 L219.15,431.1 L220.16,431.39 L221.16,431.69 L222.17,431.99 L223.17,432.29 L224.17,432.59 L225.18,432.88 L226.18,433.17 L227.18,433.46 L228.19,433.74 L229.19,434.01 L230.2,434.28 L231.2,434.53 L232.2,434.76 L233.21,434.99 L234.21,435.19 L235.22,435.38 L236.22,435.55 L237.22,435.69 L238.23,435.82 L239.23,435.92 L240.23,435.99 L241.24,436.04 L242.24,436.07 L243.25,436.07 L244.25,436.04 L245.25,435.99 L246.26,435.91 L247.26,435.81 L248.27,435.68 L249.27,435.53 L250.27,435.36 L251.28,435.17 L252.28,434.97 L253.28,434.74 L254.29,434.5 L255.29,434.25 L256.3,433.99 L257.3,433.72 L258.3,433.44 L259.31,433.15 L260.31,432.86 L261.32,432.56 L262.32,432.26 L263.32,431.96 L264.33,431.67 L265.33,431.37 L266.33,431.07 L267.34,430.78 L268.34,430.5 L269.35,430.21 L270.35,429.94 L271.35,429.66 L272.36,429.4 L273.36,429.14 L274.37,428.89 L275.37,428.64 L276.37,428.4 L277.38,428.17 L278.38,427.95 L279.38,427.73 L280.39,427.52 L281.39,427.32 L282.4,427.12 L283.4,426.93 L284.4,426.75 L285.41,426.58 L286.41,426.41 L287.42,426.25 L288.42,426.09 L289.42,425.94 L290.43,425.8 L291.43,425.66 L292.43,425.52 L293.44,425.4 L294.44,425.27 L295.45,425.16 L296.45,425.04 L297.45,424.93 L298.46,424.83 L299.46,424.73 L300.47,424.64 L301.47,424.54 L302.47,424.46 L303.48,424.37 L304.48,424.29 L305.48,424.22 L306.49,424.14 L307.49,424.07 L308.5,424 L309.5,423.94" stroke="#c6e53a" stroke-width="1.5" fill="none"/>
<path d="M48.5,422.52 L49.5,422.52 L50.51,422.52 L51.51,422.52 L52.52,422.52 L53.52,422.52 L54.52,422.52 L55.53,422.52 L56.53,422.53 L57.53,422.53 L58.54,422.53 L59.54,422.53 L60.55,422.53 L61.55,422.53 L62.55,422.53 L63.56,422.53 L64.56,422.54 L65.57,422.54 L66.57,422.54 L67.57,422.54 L68.58,422.54 L69.58,422.55 L70.58,422.55 L71.59,422.55 L72.59,422.55 L73.6,422.55 L74.6,422.56 L75.6,422.56 L76.61,422.56 L77.61,422.56 L78.62,422.57 L79.62,422.57 L80.62,422.57 L81.63,422.58 L82.63,422.58 L83.63,422.58 L84.64,422.59 L85.64,422.59 L86.65,422.6 L87.65,422.6 L88.65,422.6 L89.66,422.61 L90.66,422.61 L91.67,422.62 L92.67,422.62 L93.67,422.63 L94.68,422.64 L95.68,422.64 L96.68,422.65 L97.69,422.66 L98.69,422.66 L99.7,422.67 L100.7,422.68 L101.7,422.69 L102.71,422.69 L103.71,422.7 L104.72,422.71 L105.72,422.72 L106.72,422.73 L107.73,422.74 L108.73,422.75 L109.73,422.76 L110.74,422.78 L111.74,422.79 L112.75,422.8 L113.75,422.82 L114.75,422.83 L115.76,422.85 L116.76,422.86 L117.77,422.88 L118.77,422.89 L119.77,422.91 L120.78,422.93 L121.78,422.95 L122.78,422.97 L123.79,422.99 L124.79,423.01 L125.8,423.04 L126.8,423.06 L127.8,423.09 L128.81,423.11 L129.81,423.14 L130.82,423.17 L131.82,423.2 L132.82,423.23 L133.83,423.27 L134.83,423.3 L135.83,423.34 L136.84,423.37 L137.84,423.41 L138.85,423.46 L139.85,423.5 L140.85,423.54 L141.86,423.59 L142.86,423.64 L143.87,423.69 L144.87,423.75 L145.87,423.8 L146.88,423.86 L147.88,423.92 L148.88,423.99 L149.89,424.05 L150.89,424.12 L151.9,424.2 L152.9,424.27 L153.9,424.36 L154.91,424.44 L155.91,424.53 L156.92,424.62 L157.92,424.71 L158.92,424.81 L159.93,424.92 L160.93,425.03 L161.93,425.14 L162.94,425.26 L163.94,425.38 L164.95,425.51 L165.95,425.65 L166.95,425.79 L167.96,425.93 L168.96,426.09 L169.97,426.25 L170.97,426.42 L171.97,426.59 L172.98,426.77 L173.98,426.96 L174.98,427.16 L175.99,427.37 L176.99,427.58 L178,427.81 L179,428.04 L180,428.28 L181.01,428.54 L182.01,428.8 L183.02,429.08 L184.02,429.36 L185.02,429.66 L186.03,429.96 L187.03,430.28 L188.03,430.62 L189.04,430.96 L190.04,431.31 L191.05,431.68 L192.05,432.06 L193.05,432.46 L194.06,432.86 L195.06,433.28 L196.07,433.71 L197.07,434.16 L198.07,434.61 L199.08,435.08 L200.08,435.55 L201.08,436.04 L202.09,436.54 L203.09,437.04 L204.1,437.56 L205.1,438.08 L206.1,438.6 L207.11,439.13 L208.11,439.65 L209.12,440.18 L210.12,440.71 L211.12,441.23 L212.13,441.74 L213.13,442.25 L214.13,442.74 L215.14,443.21 L216.14,443.67 L217.15,444.11 L218.15,444.53 L219.15,444.91 L220.16,445.27 L221.16,445.6 L222.17,445.89 L223.17,446.15 L224.17,446.37 L225.18,446.55 L226.18,446.69 L227.18,446.78 L228.19,446.83 L229.19,446.84 L230.2,446.8 L231.2,446.72 L232.2,446.59 L233.21,446.43 L234.21,446.22 L235.22,445.97 L236.22,445.69 L237.22,445.37 L238.23,445.02 L239.23,444.64 L240.23,444.23 L241.24,443.8 L242.24,443.35 L243.25,442.88 L244.25,442.39 L245.25,441.89 L246.26,441.38 L247.26,440.86 L248.27,440.33 L249.27,439.81 L250.27,439.28 L251.28,438.75 L252.28,438.23 L253.28,437.71 L254.29,437.19 L255.29,436.68 L256.3,436.18 L257.3,435.69 L258.3,435.21 L259.31,434.74 L260.31,434.29 L261.32,433.84 L262.32,433.41 L263.32,432.98 L264.33,432.57 L265.33,432.18 L266.33,431.79 L267.34,431.42 L268.34,431.06 L269.35,430.71 L270.35,430.38 L271.35,430.06 L272.36,429.75 L273.36,429.45 L274.37,429.16 L275.37,428.88 L276.37,428.61 L277.38,428.36 L278.38,428.11 L279.38,427.87 L280.39,427.65 L281.39,427.43 L282.4,427.22 L283.4,427.02 L284.4,426.83 L285.41,426.64 L286.41,426.47 L287.42,426.3 L288.42,426.13 L289.42,425.98 L290.43,425.83 L291.43,425.69 L292.43,425.55 L293.44,425.42 L294.44,425.29 L295.45,425.17 L296.45,425.06 L297.45,424.95 L298.46,424.84 L299.46,424.74 L300.47,424.64 L301.47,424.55 L302.47,424.46 L303.48,424.38 L304.48,424.3 L305.48,424.22 L306.49,424.15 L307.49,424.07 L308.5,424.01 L309.5,423.94" stroke="#4cd23e" stroke-width="1.5" fill="none"/>
<path d="M48.5,422.55 L49.5,422.55 L50.51,422.56 L51.51,422.56 L52.52,422.56 L53.52,422.57 L54.52,422.57 L55.53,422.57 L56.53,422.57 L57.53,422.58 L58.54,422.58 L59.54,422.59 L60.55,422.59 L61.55,422.59 L62.55,422.6 L63.56,422.6 L64.56,422.61 L65.57,422.61 L66.57,422.62 L67.57,422.62 L68.58,422.63 L69.58,422.63 L70.58,422.64 L71.59,422.64 L72.59,422.65 L73.6,422.66 L74.6,422.67 L75.6,422.67 L76.61,422.68 L77.61,422.69 L78.62,422.7 L79.62,422.71 L80.62,422.72 L81.63,422.73 L82.63,422.74 L83.63,422.75 L84.64,422.76 L85.64,422.77 L86.65,422.78 L87.65,422.79 L88.65,422.81 L89.66,422.82 L90.66,422.84 L91.67,422.85 L92.67,422.87 L93.67,422.88 L94.68,422.9 L95.68,422.92 L96.68,422.94 L97.69,422.96 L98.69,422.98 L99.7,423 L100.7,423.02 L101.7,423.05 L102.71,423.07 L103.71,423.1 L104.72,423.12 L105.72,423.15 L106.72,423.18 L107.73,423.21 L108.73,423.25 L109.73,423.28 L110.74,423.31 L111.74,423.35 L112.75,423.39 L113.75,423.43 L114.75,423.47 L115.76,423.52 L116.76,423.56 L117.77,423.61 L118.77,423.66 L119.77,423.71 L120.78,423.77 L121.78,423.83 L122.78,423.89 L123.79,423.95 L124.79,424.01 L125.8,424.08 L126.8,424.15 L127.8,424.23 L128.81,424.31 L129.81,424.39 L130.82,424.47 L131.82,424.56 L132.82,424.66 L133.83,424.75 L134.83,424.85 L135.83,424.96 L136.84,425.07 L137.84,425.19 L138.85,425.31 L139.85,425.44 L140.85,425.57 L141.86,425.71 L142.86,425.85 L143.87,426 L144.87,426.16 L145.87,426.33 L146.88,426.5 L147.88,426.68 L148.88,426.87 L149.89,427.06 L150.89,427.27 L151.9,427.48 L152.9,427.7 L153.9,427.94 L154.91,428.18 L155.91,428.43 L156.92,428.7 L157.92,428.97 L158.92,429.26 L159.93,429.56 L160.93,429.87 L161.93,430.2 L162.94,430.54 L163.94,430.89 L164.95,431.26 L165.95,431.65 L166.95,432.05 L167.96,432.46 L168.96,432.89 L169.97,433.34 L170.97,433.81 L171.97,434.29 L172.98,434.8 L173.98,435.32 L174.98,435.86 L175.99,436.41 L176.99,436.99 L178,437.59 L179,438.21 L180,438.84 L181.01,439.5 L182.01,440.17 L183.02,440.86 L184.02,441.57 L185.02,442.3 L186.03,443.05 L187.03,443.81 L188.03,444.58 L189.04,445.37 L190.04,446.16 L191.05,446.97 L192.05,447.78 L193.05,448.6 L194.06,449.43 L195.06,450.25 L196.07,451.07 L197.07,451.88 L198.07,452.68 L199.08,453.47 L200.08,454.25 L201.08,455 L202.09,455.73 L203.09,456.43 L204.1,457.11 L205.1,457.74 L206.1,458.34 L207.11,458.9 L208.11,459.41 L209.12,459.87 L210.12,460.28 L211.12,460.63 L212.13,460.94 L213.13,461.18 L214.13,461.36 L215.14,461.48 L216.14,461.54 L217.15,461.54 L218.15,461.47 L219.15,461.35 L220.16,461.16 L221.16,460.91 L222.17,460.61 L223.17,460.24 L224.17,459.83 L225.18,459.36 L226.18,458.85 L227.18,458.29 L228.19,457.69 L229.19,457.05 L230.2,456.37 L231.2,455.67 L232.2,454.94 L233.21,454.18 L234.21,453.4 L235.22,452.61 L236.22,451.81 L237.22,451 L238.23,450.18 L239.23,449.35 L240.23,448.53 L241.24,447.71 L242.24,446.9 L243.25,446.09 L244.25,445.3 L245.25,444.51 L246.26,443.74 L247.26,442.98 L248.27,442.24 L249.27,441.51 L250.27,440.8 L251.28,440.11 L252.28,439.44 L253.28,438.79 L254.29,438.15 L255.29,437.54 L256.3,436.94 L257.3,436.37 L258.3,435.81 L259.31,435.27 L260.31,434.75 L261.32,434.25 L262.32,433.77 L263.32,433.3 L264.33,432.86 L265.33,432.42 L266.33,432.01 L267.34,431.61 L268.34,431.23 L269.35,430.86 L270.35,430.51 L271.35,430.17 L272.36,429.85 L273.36,429.53 L274.37,429.24 L275.37,428.95 L276.37,428.67 L277.38,428.41 L278.38,428.16 L279.38,427.92 L280.39,427.68 L281.39,427.46 L282.4,427.25 L283.4,427.04 L284.4,426.85 L285.41,426.66 L286.41,426.48 L287.42,426.31 L288.42,426.15 L289.42,425.99 L290.43,425.84 L291.43,425.7 L292.43,425.56 L293.44,425.43 L294.44,425.3 L295.45,425.18 L296.45,425.06 L297.45,424.95 L298.46,424.85 L299.46,424.74 L300.47,424.65 L301.47,424.55 L302.47,424.47 L303.48,424.38 L304.48,424.3 L305.48,424.22 L306.49,424.15 L307.49,424.08 L308.5,424.01 L309.5,423.94" stroke="#2ecb8c" stroke-width="1.5" fill="none"/>
<path d="M48.5,422.64 L49.5,422.64 L50.51,422.65 L51.51,422.66 L52.52,422.66 L53.52,422.67 L54.52,422.68 L55.53,422.69 L56.53,422.69 L57.53,422.7 L58.54,422.71 L59.54,422.72 L60.55,422.73 L61.55,422.74 L62.55,422.75 L63.56,422.76 L64.56,422.78 L65.57,422.79 L66.57,422.8 L67.57,422.81 L68.58,422.83 L69.58,422.84 L70.58,422.86 L71.59,422.88 L72.59,422.89 L73.6,422.91 L74.6,422.93 L75.6,422.95 L76.61,422.97 L77.61,422.99 L78.62,423.01 L79.62,423.04 L80.62,423.06 L81.63,423.09 L82.63,423.11 L83.63,423.14 L84.64,423.17 L85.64,423.2 L86.65,423.23 L87.65,423.26 L88.65,423.3 L89.66,423.33 L90.66,423.37 L91.67,423.41 L92.67,423.45 L93.67,423.5 L94.68,423.54 L95.68,423.59 L96.68,423.64 L97.69,423.69 L98.69,423.74 L99.7,423.8 L100.7,423.86 L101.7,423.92 L102.71,423.98 L103.71,424.05 L104.72,424.12 L105.72,424.19 L106.72,424.27 L107.73,424.35 L108.73,424.43 L109.73,424.52 L110.74,424.61 L111.74,424.71 L112.75,424.81 L113.75,424.91 L114.75,425.02 L115.76,425.14 L116.76,425.25 L117.77,425.38 L118.77,425.51 L119.77,425.65 L120.78,425.79 L121.78,425.94 L122.78,426.09 L123.79,426.25 L124.79,426.42 L125.8,426.6 L126.8,426.78 L127.8,426.98 L128.81,427.18 L129.81,427.39 L130.82,427.61 L131.82,427.84 L132.82,428.08 L133.83,428.33 L134.83,428.59 L135.83,428.86 L136.84,429.15 L137.84,429.45 L138.85,429.76 L139.85,430.08 L140.85,430.42 L141.86,430.77 L142.86,431.14 L143.87,431.53 L144.87,431.93 L145.87,432.35 L146.88,432.78 L147.88,433.23 L148.88,433.71 L149.89,434.2 L150.89,434.71 L151.9,435.24 L152.9,435.79 L153.9,436.37 L154.91,436.97 L155.91,437.59 L156.92,438.23 L157.92,438.9 L158.92,439.6 L159.93,440.31 L160.93,441.06 L161.93,441.83 L162.94,442.62 L163.94,443.44 L164.95,444.29 L165.95,445.16 L166.95,446.05 L167.96,446.97 L168.96,447.92 L169.97,448.89 L170.97,449.88 L171.97,450.89 L172.98,451.92 L173.98,452.96 L174.98,454.03 L175.99,455.11 L176.99,456.19 L178,457.29 L179,458.4 L180,459.5 L181.01,460.61 L182.01,461.72 L183.02,462.81 L184.02,463.9 L185.02,464.97 L186.03,466.03 L187.03,467.06 L188.03,468.07 L189.04,469.04 L190.04,469.99 L191.05,470.89 L192.05,471.75 L193.05,472.57 L194.06,473.34 L195.06,474.06 L196.07,474.73 L197.07,475.34 L198.07,475.89 L199.08,476.37 L200.08,476.8 L201.08,477.15 L202.09,477.45 L203.09,477.67 L204.1,477.82 L205.1,477.9 L206.1,477.92 L207.11,477.86 L208.11,477.73 L209.12,477.54 L210.12,477.27 L211.12,476.94 L212.13,476.54 L213.13,476.08 L214.13,475.55 L215.14,474.97 L216.14,474.32 L217.15,473.62 L218.15,472.87 L219.15,472.07 L220.16,471.22 L221.16,470.33 L222.17,469.4 L223.17,468.44 L224.17,467.44 L225.18,466.42 L226.18,465.37 L227.18,464.31 L228.19,463.22 L229.19,462.13 L230.2,461.03 L231.2,459.92 L232.2,458.81 L233.21,457.71 L234.21,456.61 L235.22,455.51 L236.22,454.43 L237.22,453.36 L238.23,452.31 L239.23,451.27 L240.23,450.25 L241.24,449.25 L242.24,448.28 L243.25,447.33 L244.25,446.4 L245.25,445.49 L246.26,444.61 L247.26,443.76 L248.27,442.93 L249.27,442.12 L250.27,441.34 L251.28,440.59 L252.28,439.86 L253.28,439.16 L254.29,438.48 L255.29,437.83 L256.3,437.2 L257.3,436.59 L258.3,436.01 L259.31,435.45 L260.31,434.91 L261.32,434.39 L262.32,433.89 L263.32,433.41 L264.33,432.95 L265.33,432.51 L266.33,432.08 L267.34,431.68 L268.34,431.29 L269.35,430.91 L270.35,430.55 L271.35,430.21 L272.36,429.88 L273.36,429.56 L274.37,429.26 L275.37,428.97 L276.37,428.69 L277.38,428.43 L278.38,428.17 L279.38,427.93 L280.39,427.69 L281.39,427.47 L282.4,427.26 L283.4,427.05 L284.4,426.86 L285.41,426.67 L286.41,426.49 L287.42,426.32 L288.42,426.15 L289.42,425.99 L290.43,425.84 L291.43,425.7 L292.43,425.56 L293.44,425.43 L294.44,425.3 L295.45,425.18 L296.45,425.06 L297.45,424.95 L298.46,424.85 L299.46,424.75 L300.47,424.65 L301.47,424.56 L302.47,424.47 L303.48,424.38 L304.48,424.3 L305.48,424.22 L306.49,424.15 L307.49,424.08 L308.5,424.01 L309.5,423.94" stroke="#32d8e8" stroke-width="1.5" fill="none"/>
<path d="M48.5,422.82 L49.5,422.84 L50.51,422.85 L51.51,422.87 L52.52,422.89 L53.52,422.9 L54.52,422.92 L55.53,422.94 L56.53,422.96 L57.53,422.98 L58.54,423 L59.54,423.03 L60.55,423.05 L61.55,423.07 L62.55,423.1 L63.56,423.13 L64.56,423.16 L65.57,423.19 L66.57,423.22 L67.57,423.25 L68.58,423.28 L69.58,423.32 L70.58,423.36 L71.59,423.39 L72.59,423.44 L73.6,423.48 L74.6,423.52 L75.6,423.57 L76.61,423.62 L77.61,423.67 L78.62,423.72 L79.62,423.78 L80.62,423.83 L81.63,423.89 L82.63,423.96 L83.63,424.02 L84.64,424.09 L85.64,424.16 L86.65,424.24 L87.65,424.32 L88.65,424.4 L89.66,424.49 L90.66,424.57 L91.67,424.67 L92.67,424.77 L93.67,424.87 L94.68,424.98 L95.68,425.09 L96.68,425.21 L97.69,425.33 L98.69,425.46 L99.7,425.59 L100.7,425.73 L101.7,425.87 L102.71,426.03 L103.71,426.19 L104.72,426.35 L105.72,426.53 L106.72,426.71 L107.73,426.9 L108.73,427.1 L109.73,427.3 L110.74,427.52 L111.74,427.75 L112.75,427.98 L113.75,428.23 L114.75,428.49 L115.76,428.76 L116.76,429.04 L117.77,429.33 L118.77,429.64 L119.77,429.96 L120.78,430.29 L121.78,430.64 L122.78,431.01 L123.79,431.39 L124.79,431.78 L125.8,432.2 L126.8,432.63 L127.8,433.08 L128.81,433.55 L129.81,434.04 L130.82,434.55 L131.82,435.08 L132.82,435.63 L133.83,436.21 L134.83,436.81 L135.83,437.43 L136.84,438.08 L137.84,438.75 L138.85,439.45 L139.85,440.18 L140.85,440.93 L141.86,441.72 L142.86,442.53 L143.87,443.37 L144.87,444.24 L145.87,445.14 L146.88,446.07 L147.88,447.03 L148.88,448.02 L149.89,449.04 L150.89,450.08 L151.9,451.16 L152.9,452.27 L153.9,453.4 L154.91,454.56 L155.91,455.75 L156.92,456.96 L157.92,458.19 L158.92,459.44 L159.93,460.71 L160.93,461.99 L161.93,463.29 L162.94,464.6 L163.94,465.92 L164.95,467.24 L165.95,468.56 L166.95,469.88 L167.96,471.19 L168.96,472.49 L169.97,473.78 L170.97,475.06 L171.97,476.31 L172.98,477.54 L173.98,478.74 L174.98,479.91 L175.99,481.05 L176.99,482.15 L178,483.21 L179,484.22 L180,485.19 L181.01,486.12 L182.01,486.99 L183.02,487.81 L184.02,488.57 L185.02,489.28 L186.03,489.93 L187.03,490.52 L188.03,491.06 L189.04,491.53 L190.04,491.94 L191.05,492.28 L192.05,492.56 L193.05,492.78 L194.06,492.94 L195.06,493.03 L196.07,493.05 L197.07,493.01 L198.07,492.91 L199.08,492.74 L200.08,492.51 L201.08,492.21 L202.09,491.85 L203.09,491.43 L204.1,490.95 L205.1,490.4 L206.1,489.8 L207.11,489.13 L208.11,488.41 L209.12,487.64 L210.12,486.81 L211.12,485.92 L212.13,484.99 L213.13,484.01 L214.13,482.99 L215.14,481.92 L216.14,480.81 L217.15,479.67 L218.15,478.49 L219.15,477.28 L220.16,476.05 L221.16,474.79 L222.17,473.51 L223.17,472.22 L224.17,470.91 L225.18,469.6 L226.18,468.28 L227.18,466.96 L228.19,465.64 L229.19,464.32 L230.2,463.02 L231.2,461.72 L232.2,460.44 L233.21,459.17 L234.21,457.93 L235.22,456.7 L236.22,455.5 L237.22,454.31 L238.23,453.16 L239.23,452.03 L240.23,450.93 L241.24,449.86 L242.24,448.82 L243.25,447.8 L244.25,446.82 L245.25,445.87 L246.26,444.94 L247.26,444.05 L248.27,443.19 L249.27,442.35 L250.27,441.55 L251.28,440.77 L252.28,440.02 L253.28,439.3 L254.29,438.61 L255.29,437.94 L256.3,437.29 L257.3,436.68 L258.3,436.08 L259.31,435.51 L260.31,434.96 L261.32,434.44 L262.32,433.93 L263.32,433.45 L264.33,432.98 L265.33,432.54 L266.33,432.11 L267.34,431.7 L268.34,431.31 L269.35,430.93 L270.35,430.57 L271.35,430.22 L272.36,429.89 L273.36,429.57 L274.37,429.27 L275.37,428.98 L276.37,428.7 L277.38,428.43 L278.38,428.18 L279.38,427.93 L280.39,427.7 L281.39,427.47 L282.4,427.26 L283.4,427.05 L284.4,426.86 L285.41,426.67 L286.41,426.49 L287.42,426.32 L288.42,426.15 L289.42,425.99 L290.43,425.84 L291.43,425.7 L292.43,425.56 L293.44,425.43 L294.44,425.3 L295.45,425.18 L296.45,425.06 L297.45,424.95 L298.46,424.85 L299.46,424.75 L300.47,424.65 L301.47,424.56 L302.47,424.47 L303.48,424.38 L304.48,424.3 L305.48,424.22 L306.49,424.15 L307.49,424.08 L308.5,424.01 L309.5,423.94" stroke="#1f5fcc" stroke-width="1.5" fill="none"/>
<path d="M48.5,423.23 L49.5,423.27 L50.51,423.3 L51.51,423.34 L52.52,423.37 L53.52,423.41 L54.52,423.45 L55.53,423.5 L56.53,423.54 L57.53,423.59 L58.54,423.64 L59.54,423.69 L60.55,423.75 L61.55,423.8 L62.55,423.86 L63.56,423.92 L64.56,423.99 L65.57,424.05 L66.57,424.12 L67.57,424.2 L68.58,424.27 L69.58,424.35 L70.58,424.44 L71.59,424.53 L72.59,424.62 L73.6,424.71 L74.6,424.81 L75.6,424.92 L76.61,425.03 L77.61,425.14 L78.62,425.26 L79.62,425.39 L80.62,425.52 L81.63,425.65 L82.63,425.8 L83.63,425.94 L84.64,426.1 L85.64,426.26 L86.65,426.43 L87.65,426.61 L88.65,426.8 L89.66,426.99 L90.66,427.19 L91.67,427.4 L92.67,427.63 L93.67,427.86 L94.68,428.1 L95.68,428.35 L96.68,428.61 L97.69,428.89 L98.69,429.18 L99.7,429.48 L100.7,429.79 L101.7,430.12 L102.71,430.46 L103.71,430.82 L104.72,431.19 L105.72,431.58 L106.72,431.98 L107.73,432.41 L108.73,432.85 L109.73,433.31 L110.74,433.79 L111.74,434.29 L112.75,434.81 L113.75,435.36 L114.75,435.92 L115.76,436.51 L116.76,437.13 L117.77,437.77 L118.77,438.43 L119.77,439.13 L120.78,439.85 L121.78,440.59 L122.78,441.37 L123.79,442.18 L124.79,443.01 L125.8,443.88 L126.8,444.78 L127.8,445.71 L128.81,446.67 L129.81,447.67 L130.82,448.7 L131.82,449.76 L132.82,450.85 L133.83,451.98 L134.83,453.13 L135.83,454.32 L136.84,455.54 L137.84,456.79 L138.85,458.06 L139.85,459.37 L140.85,460.7 L141.86,462.05 L142.86,463.42 L143.87,464.81 L144.87,466.22 L145.87,467.65 L146.88,469.08 L147.88,470.52 L148.88,471.97 L149.89,473.42 L150.89,474.87 L151.9,476.32 L152.9,477.76 L153.9,479.18 L154.91,480.59 L155.91,481.99 L156.92,483.36 L157.92,484.71 L158.92,486.03 L159.93,487.32 L160.93,488.58 L161.93,489.8 L162.94,490.99 L163.94,492.13 L164.95,493.24 L165.95,494.3 L166.95,495.32 L167.96,496.29 L168.96,497.22 L169.97,498.1 L170.97,498.93 L171.97,499.71 L172.98,500.44 L173.98,501.11 L174.98,501.74 L175.99,502.32 L176.99,502.85 L178,503.32 L179,503.74 L180,504.12 L181.01,504.44 L182.01,504.7 L183.02,504.92 L184.02,505.08 L185.02,505.2 L186.03,505.26 L187.03,505.26 L188.03,505.22 L189.04,505.13 L190.04,504.98 L191.05,504.78 L192.05,504.53 L193.05,504.23 L194.06,503.87 L195.06,503.47 L196.07,503.01 L197.07,502.5 L198.07,501.94 L199.08,501.33 L200.08,500.66 L201.08,499.95 L202.09,499.19 L203.09,498.37 L204.1,497.51 L205.1,496.6 L206.1,495.64 L207.11,494.64 L208.11,493.59 L209.12,492.5 L210.12,491.37 L211.12,490.19 L212.13,488.98 L213.13,487.73 L214.13,486.45 L215.14,485.14 L216.14,483.8 L217.15,482.44 L218.15,481.05 L219.15,479.65 L220.16,478.22 L221.16,476.79 L222.17,475.35 L223.17,473.9 L224.17,472.45 L225.18,471 L226.18,469.55 L227.18,468.12 L228.19,466.69 L229.19,465.27 L230.2,463.87 L231.2,462.49 L232.2,461.14 L233.21,459.8 L234.21,458.49 L235.22,457.2 L236.22,455.94 L237.22,454.72 L238.23,453.52 L239.23,452.35 L240.23,451.22 L241.24,450.11 L242.24,449.04 L243.25,448 L244.25,447 L245.25,446.02 L246.26,445.08 L247.26,444.17 L248.27,443.29 L249.27,442.45 L250.27,441.63 L251.28,440.84 L252.28,440.09 L253.28,439.36 L254.29,438.66 L255.29,437.98 L256.3,437.33 L257.3,436.71 L258.3,436.11 L259.31,435.54 L260.31,434.99 L261.32,434.46 L262.32,433.95 L263.32,433.46 L264.33,433 L265.33,432.55 L266.33,432.12 L267.34,431.71 L268.34,431.31 L269.35,430.94 L270.35,430.57 L271.35,430.23 L272.36,429.9 L273.36,429.58 L274.37,429.27 L275.37,428.98 L276.37,428.7 L277.38,428.44 L278.38,428.18 L279.38,427.93 L280.39,427.7 L281.39,427.48 L282.4,427.26 L283.4,427.06 L284.4,426.86 L285.41,426.67 L286.41,426.49 L287.42,426.32 L288.42,426.15 L289.42,425.99 L290.43,425.84 L291.43,425.7 L292.43,425.56 L293.44,425.43 L294.44,425.3 L295.45,425.18 L296.45,425.06 L297.45,424.95 L298.46,424.85 L299.46,424.75 L300.47,424.65 L301.47,424.56 L302.47,424.47 L303.48,424.38 L304.48,424.3 L305.48,424.22 L306.49,424.15 L307.49,424.08 L308.5,424.01 L309.5,423.94" stroke="#2a18aa" stroke-width="1.5" fill="none"/>
<path d="M48.5,424.11 L49.5,424.19 L50.51,424.26 L51.51,424.34 L52.52,424.43 L53.52,424.52 L54.52,424.61 L55.53,424.7 L56.53,424.8 L57.53,424.91 L58.54,425.01 L59.54,425.13 L60.55,425.25 L61.55,425.37 L62.55,425.5 L63.56,425.64 L64.56,425.78 L65.57,425.93 L66.57,426.08 L67.57,426.24 L68.58,426.41 L69.58,426.59 L70.58,426.77 L71.59,426.97 L72.59,427.17 L73.6,427.38 L74.6,427.6 L75.6,427.83 L76.61,428.07 L77.61,428.32 L78.62,428.58 L79.62,428.86 L80.62,429.14 L81.63,429.44 L82.63,429.75 L83.63,430.08 L84.64,430.42 L85.64,430.77 L86.65,431.14 L87.65,431.53 L88.65,431.94 L89.66,432.36 L90.66,432.8 L91.67,433.26 L92.67,433.74 L93.67,434.23 L94.68,434.75 L95.68,435.3 L96.68,435.86 L97.69,436.45 L98.69,437.07 L99.7,437.7 L100.7,438.37 L101.7,439.06 L102.71,439.78 L103.71,440.53 L104.72,441.31 L105.72,442.12 L106.72,442.95 L107.73,443.82 L108.73,444.73 L109.73,445.66 L110.74,446.63 L111.74,447.63 L112.75,448.66 L113.75,449.73 L114.75,450.83 L115.76,451.97 L116.76,453.14 L117.77,454.34 L118.77,455.58 L119.77,456.84 L120.78,458.14 L121.78,459.47 L122.78,460.82 L123.79,462.21 L124.79,463.61 L125.8,465.04 L126.8,466.49 L127.8,467.96 L128.81,469.45 L129.81,470.95 L130.82,472.46 L131.82,473.97 L132.82,475.49 L133.83,477.01 L134.83,478.53 L135.83,480.04 L136.84,481.54 L137.84,483.03 L138.85,484.51 L139.85,485.97 L140.85,487.4 L141.86,488.81 L142.86,490.2 L143.87,491.56 L144.87,492.89 L145.87,494.18 L146.88,495.44 L147.88,496.66 L148.88,497.85 L149.89,499 L150.89,500.1 L151.9,501.17 L152.9,502.19 L153.9,503.18 L154.91,504.12 L155.91,505.02 L156.92,505.87 L157.92,506.69 L158.92,507.46 L159.93,508.19 L160.93,508.87 L161.93,509.52 L162.94,510.12 L163.94,510.68 L164.95,511.2 L165.95,511.68 L166.95,512.12 L167.96,512.52 L168.96,512.88 L169.97,513.19 L170.97,513.47 L171.97,513.71 L172.98,513.91 L173.98,514.08 L174.98,514.2 L175.99,514.29 L176.99,514.33 L178,514.34 L179,514.31 L180,514.24 L181.01,514.14 L182.01,513.99 L183.02,513.81 L184.02,513.59 L185.02,513.32 L186.03,513.02 L187.03,512.68 L188.03,512.3 L189.04,511.88 L190.04,511.42 L191.05,510.92 L192.05,510.38 L193.05,509.8 L194.06,509.17 L195.06,508.5 L196.07,507.79 L197.07,507.04 L198.07,506.25 L199.08,505.41 L200.08,504.53 L201.08,503.61 L202.09,502.64 L203.09,501.64 L204.1,500.59 L205.1,499.5 L206.1,498.37 L207.11,497.2 L208.11,496 L209.12,494.75 L210.12,493.47 L211.12,492.16 L212.13,490.82 L213.13,489.44 L214.13,488.04 L215.14,486.62 L216.14,485.17 L217.15,483.7 L218.15,482.22 L219.15,480.72 L220.16,479.21 L221.16,477.69 L222.17,476.18 L223.17,474.66 L224.17,473.14 L225.18,471.63 L226.18,470.12 L227.18,468.63 L228.19,467.15 L229.19,465.7 L230.2,464.26 L231.2,462.84 L232.2,461.44 L233.21,460.08 L234.21,458.73 L235.22,457.42 L236.22,456.14 L237.22,454.89 L238.23,453.68 L239.23,452.49 L240.23,451.34 L241.24,450.22 L242.24,449.14 L243.25,448.09 L244.25,447.07 L245.25,446.09 L246.26,445.14 L247.26,444.23 L248.27,443.34 L249.27,442.49 L250.27,441.67 L251.28,440.88 L252.28,440.12 L253.28,439.38 L254.29,438.68 L255.29,438 L256.3,437.35 L257.3,436.73 L258.3,436.13 L259.31,435.55 L260.31,435 L261.32,434.47 L262.32,433.96 L263.32,433.47 L264.33,433 L265.33,432.55 L266.33,432.12 L267.34,431.71 L268.34,431.32 L269.35,430.94 L270.35,430.58 L271.35,430.23 L272.36,429.9 L273.36,429.58 L274.37,429.28 L275.37,428.98 L276.37,428.7 L277.38,428.44 L278.38,428.18 L279.38,427.94 L280.39,427.7 L281.39,427.48 L282.4,427.26 L283.4,427.06 L284.4,426.86 L285.41,426.67 L286.41,426.49 L287.42,426.32 L288.42,426.15 L289.42,426 L290.43,425.84 L291.43,425.7 L292.43,425.56 L293.44,425.43 L294.44,425.3 L295.45,425.18 L296.45,425.06 L297.45,424.95 L298.46,424.85 L299.46,424.75 L300.47,424.65 L301.47,424.56 L302.47,424.47 L303.48,424.38 L304.48,424.3 L305.48,424.22 L306.49,424.15 L307.49,424.08 L308.5,424.01 L309.5,423.94" stroke="#9e22bc" stroke-width="1.5" fill="none"/>
<path d="M48.5,426.02 L49.5,426.18 L50.51,426.34 L51.51,426.52 L52.52,426.7 L53.52,426.89 L54.52,427.08 L55.53,427.29 L56.53,427.51 L57.53,427.73 L58.54,427.97 L59.54,428.22 L60.55,428.47 L61.55,428.74 L62.55,429.02 L63.56,429.32 L64.56,429.62 L65.57,429.94 L66.57,430.28 L67.57,430.63 L68.58,430.99 L69.58,431.37 L70.58,431.77 L71.59,432.18 L72.59,432.62 L73.6,433.07 L74.6,433.54 L75.6,434.03 L76.61,434.54 L77.61,435.08 L78.62,435.63 L79.62,436.21 L80.62,436.82 L81.63,437.45 L82.63,438.1 L83.63,438.78 L84.64,439.49 L85.64,440.23 L86.65,441 L87.65,441.8 L88.65,442.63 L89.66,443.48 L90.66,444.38 L91.67,445.3 L92.67,446.26 L93.67,447.25 L94.68,448.27 L95.68,449.33 L96.68,450.43 L97.69,451.56 L98.69,452.72 L99.7,453.92 L100.7,455.15 L101.7,456.41 L102.71,457.71 L103.71,459.03 L104.72,460.39 L105.72,461.78 L106.72,463.19 L107.73,464.63 L108.73,466.09 L109.73,467.58 L110.74,469.08 L111.74,470.59 L112.75,472.13 L113.75,473.67 L114.75,475.22 L115.76,476.77 L116.76,478.32 L117.77,479.88 L118.77,481.42 L119.77,482.96 L120.78,484.49 L121.78,486 L122.78,487.5 L123.79,488.98 L124.79,490.43 L125.8,491.86 L126.8,493.26 L127.8,494.63 L128.81,495.98 L129.81,497.29 L130.82,498.56 L131.82,499.8 L132.82,501.01 L133.83,502.18 L134.83,503.31 L135.83,504.4 L136.84,505.45 L137.84,506.47 L138.85,507.44 L139.85,508.38 L140.85,509.28 L141.86,510.15 L142.86,510.97 L143.87,511.76 L144.87,512.51 L145.87,513.22 L146.88,513.9 L147.88,514.54 L148.88,515.15 L149.89,515.72 L150.89,516.26 L151.9,516.77 L152.9,517.24 L153.9,517.69 L154.91,518.1 L155.91,518.48 L156.92,518.83 L157.92,519.15 L158.92,519.44 L159.93,519.7 L160.93,519.93 L161.93,520.14 L162.94,520.31 L163.94,520.46 L164.95,520.58 L165.95,520.68 L166.95,520.74 L167.96,520.78 L168.96,520.79 L169.97,520.78 L170.97,520.74 L171.97,520.67 L172.98,520.57 L173.98,520.44 L174.98,520.29 L175.99,520.11 L176.99,519.9 L178,519.67 L179,519.4 L180,519.11 L181.01,518.78 L182.01,518.43 L183.02,518.04 L184.02,517.63 L185.02,517.18 L186.03,516.7 L187.03,516.19 L188.03,515.65 L189.04,515.07 L190.04,514.45 L191.05,513.81 L192.05,513.12 L193.05,512.41 L194.06,511.65 L195.06,510.86 L196.07,510.03 L197.07,509.16 L198.07,508.25 L199.08,507.31 L200.08,506.33 L201.08,505.31 L202.09,504.25 L203.09,503.15 L204.1,502.02 L205.1,500.84 L206.1,499.63 L207.11,498.39 L208.11,497.11 L209.12,495.79 L210.12,494.45 L211.12,493.07 L212.13,491.66 L213.13,490.23 L214.13,488.77 L215.14,487.29 L216.14,485.79 L217.15,484.28 L218.15,482.75 L219.15,481.21 L220.16,479.66 L221.16,478.11 L222.17,476.55 L223.17,475 L224.17,473.45 L225.18,471.91 L226.18,470.38 L227.18,468.87 L228.19,467.37 L229.19,465.89 L230.2,464.43 L231.2,462.99 L232.2,461.58 L233.21,460.2 L234.21,458.85 L235.22,457.52 L236.22,456.23 L237.22,454.97 L238.23,453.75 L239.23,452.55 L240.23,451.4 L241.24,450.27 L242.24,449.18 L243.25,448.13 L244.25,447.11 L245.25,446.12 L246.26,445.17 L247.26,444.25 L248.27,443.36 L249.27,442.51 L250.27,441.68 L251.28,440.89 L252.28,440.13 L253.28,439.39 L254.29,438.69 L255.29,438.01 L256.3,437.36 L257.3,436.73 L258.3,436.13 L259.31,435.55 L260.31,435 L261.32,434.47 L262.32,433.96 L263.32,433.47 L264.33,433 L265.33,432.56 L266.33,432.13 L267.34,431.71 L268.34,431.32 L269.35,430.94 L270.35,430.58 L271.35,430.23 L272.36,429.9 L273.36,429.58 L274.37,429.28 L275.37,428.98 L276.37,428.7 L277.38,428.44 L278.38,428.18 L279.38,427.94 L280.39,427.7 L281.39,427.48 L282.4,427.26 L283.4,427.06 L284.4,426.86 L285.41,426.67 L286.41,426.49 L287.42,426.32 L288.42,426.15 L289.42,426 L290.43,425.84 L291.43,425.7 L292.43,425.56 L293.44,425.43 L294.44,425.3 L295.45,425.18 L296.45,425.06 L297.45,424.95 L298.46,424.85 L299.46,424.75 L300.47,424.65 L301.47,424.56 L302.47,424.47 L303.48,424.38 L304.48,424.3 L305.48,424.22 L306.49,424.15 L307.49,424.08 L308.5,424.01 L309.5,423.94" stroke="#c81e94" stroke-width="1.5" fill="none"/></g>
<rect x="48.5" y="269.5" width="261" height="124" fill="none" stroke="#454545" stroke-width="1.2"/>
<path d="M100.5,393.5 v-4.5 M100.5,269.5 v4.5" stroke="#454545" stroke-width="1"/>
<path d="M152.5,393.5 v-4.5 M152.5,269.5 v4.5" stroke="#454545" stroke-width="1"/>
<path d="M205.5,393.5 v-4.5 M205.5,269.5 v4.5" stroke="#454545" stroke-width="1"/>
<path d="M257.5,393.5 v-4.5 M257.5,269.5 v4.5" stroke="#454545" stroke-width="1"/>
<path d="M48.5,389.5 h2.4 M309.5,389.5 h-2.4" stroke="#454545" stroke-width="1"/>
<path d="M48.5,386.5 h2.4 M309.5,386.5 h-2.4" stroke="#454545" stroke-width="1"/>
<path d="M48.5,383.5 h2.4 M309.5,383.5 h-2.4" stroke="#454545" stroke-width="1"/>
<path d="M48.5,381.5 h2.4 M309.5,381.5 h-2.4" stroke="#454545" stroke-width="1"/>
<path d="M48.5,379.5 h4.5 M309.5,379.5 h-4.5" stroke="#454545" stroke-width="1"/>
<path d="M48.5,364.5 h2.4 M309.5,364.5 h-2.4" stroke="#454545" stroke-width="1"/>
<path d="M48.5,356.5 h2.4 M309.5,356.5 h-2.4" stroke="#454545" stroke-width="1"/>
<path d="M48.5,350.5 h2.4 M309.5,350.5 h-2.4" stroke="#454545" stroke-width="1"/>
<path d="M48.5,345.5 h2.4 M309.5,345.5 h-2.4" stroke="#454545" stroke-width="1"/>
<path d="M48.5,341.5 h2.4 M309.5,341.5 h-2.4" stroke="#454545" stroke-width="1"/>
<path d="M48.5,338.5 h2.4 M309.5,338.5 h-2.4" stroke="#454545" stroke-width="1"/>
<path d="M48.5,335.5 h2.4 M309.5,335.5 h-2.4" stroke="#454545" stroke-width="1"/>
<path d="M48.5,333.5 h2.4 M309.5,333.5 h-2.4" stroke="#454545" stroke-width="1"/>
<path d="M48.5,331.5 h4.5 M309.5,331.5 h-4.5" stroke="#454545" stroke-width="1"/>
<path d="M48.5,316.5 h2.4 M309.5,316.5 h-2.4" stroke="#454545" stroke-width="1"/>
<path d="M48.5,308.5 h2.4 M309.5,308.5 h-2.4" stroke="#454545" stroke-width="1"/>
<path d="M48.5,302.5 h2.4 M309.5,302.5 h-2.4" stroke="#454545" stroke-width="1"/>
<path d="M48.5,297.5 h2.4 M309.5,297.5 h-2.4" stroke="#454545" stroke-width="1"/>
<path d="M48.5,294.5 h2.4 M309.5,294.5 h-2.4" stroke="#454545" stroke-width="1"/>
<path d="M48.5,290.5 h2.4 M309.5,290.5 h-2.4" stroke="#454545" stroke-width="1"/>
<path d="M48.5,288.5 h2.4 M309.5,288.5 h-2.4" stroke="#454545" stroke-width="1"/>
<path d="M48.5,285.5 h2.4 M309.5,285.5 h-2.4" stroke="#454545" stroke-width="1"/>
<path d="M48.5,283.5 h4.5 M309.5,283.5 h-4.5" stroke="#454545" stroke-width="1"/>
<rect x="48.5" y="410.5" width="261" height="124" fill="none" stroke="#454545" stroke-width="1.2"/>
<path d="M100.5,534.5 v-4.5 M100.5,410.5 v4.5" stroke="#454545" stroke-width="1"/>
<path d="M152.5,534.5 v-4.5 M152.5,410.5 v4.5" stroke="#454545" stroke-width="1"/>
<path d="M205.5,534.5 v-4.5 M205.5,410.5 v4.5" stroke="#454545" stroke-width="1"/>
<path d="M257.5,534.5 v-4.5 M257.5,410.5 v4.5" stroke="#454545" stroke-width="1"/>
<path d="M48.5,422.5 h4.5 M309.5,422.5 h-4.5" stroke="#454545" stroke-width="1"/>
<path d="M48.5,447.5 h4.5 M309.5,447.5 h-4.5" stroke="#454545" stroke-width="1"/>
<path d="M48.5,472.5 h4.5 M309.5,472.5 h-4.5" stroke="#454545" stroke-width="1"/>
<path d="M48.5,497.5 h4.5 M309.5,497.5 h-4.5" stroke="#454545" stroke-width="1"/>
<path d="M48.5,522.5 h4.5 M309.5,522.5 h-4.5" stroke="#454545" stroke-width="1"/>
<g font-size="14" fill="#111">
<path transform="translate(23.07,385.3) scale(0.00684,-0.00684)" fill="#111" stroke="#111" stroke-width="41.0" d="M763,0 L583,0 L583,1147 C540,1106 483,1065 413,1024 C343,983 280,952 223,931 L223,1105 C324,1153 412,1210 488,1277 C564,1344 618,1407 649,1466 L763,1466 Z"/><text x="30.85" y="385.3" font-size="14">0</text><path transform="translate(39.54,381) scale(0.00488,-0.00488)" fill="#111" stroke="#111" stroke-width="57.3" d="M763,0 L583,0 L583,1147 C540,1106 483,1065 413,1024 C343,983 280,952 223,931 L223,1105 C324,1153 412,1210 488,1277 C564,1344 618,1407 649,1466 L763,1466 Z"/>
<path transform="translate(21.47,337.5) scale(0.00684,-0.00684)" fill="#111" stroke="#111" stroke-width="41.0" d="M763,0 L583,0 L583,1147 C540,1106 483,1065 413,1024 C343,983 280,952 223,931 L223,1105 C324,1153 412,1210 488,1277 C564,1344 618,1407 649,1466 L763,1466 Z"/><text x="29.25" y="337.5" font-size="14">0</text><text x="37.94" y="333.2" font-size="10">2</text>
<path transform="translate(21.47,289.7) scale(0.00684,-0.00684)" fill="#111" stroke="#111" stroke-width="41.0" d="M763,0 L583,0 L583,1147 C540,1106 483,1065 413,1024 C343,983 280,952 223,931 L223,1105 C324,1153 412,1210 488,1277 C564,1344 618,1407 649,1466 L763,1466 Z"/><text x="29.25" y="289.7" font-size="14">0</text><text x="37.94" y="285.4" font-size="10">3</text>
<text x="43" y="427.1" text-anchor="end">0</text>
<text x="43" y="452.1" text-anchor="end">-20</text>
<text x="43" y="477.1" text-anchor="end">-40</text>
<text x="43" y="502.1" text-anchor="end">-60</text>
<text x="43" y="527.1" text-anchor="end">-80</text>
<path transform="translate(37.08,550.6) scale(0.00684,-0.00684)" fill="#111" stroke="#111" stroke-width="41.0" d="M763,0 L583,0 L583,1147 C540,1106 483,1065 413,1024 C343,983 280,952 223,931 L223,1105 C324,1153 412,1210 488,1277 C564,1344 618,1407 649,1466 L763,1466 Z"/><text x="44.87" y="550.6" font-size="14">0</text><path transform="translate(53.56,546) scale(0.00488,-0.00488)" fill="#111" stroke="#111" stroke-width="57.3" d="M763,0 L583,0 L583,1147 C540,1106 483,1065 413,1024 C343,983 280,952 223,931 L223,1105 C324,1153 412,1210 488,1277 C564,1344 618,1407 649,1466 L763,1466 Z"/>
<path transform="translate(89.28,550.6) scale(0.00684,-0.00684)" fill="#111" stroke="#111" stroke-width="41.0" d="M763,0 L583,0 L583,1147 C540,1106 483,1065 413,1024 C343,983 280,952 223,931 L223,1105 C324,1153 412,1210 488,1277 C564,1344 618,1407 649,1466 L763,1466 Z"/><text x="97.07" y="550.6" font-size="14">0</text><text x="105.76" y="546" font-size="10">2</text>
<path transform="translate(141.48,550.6) scale(0.00684,-0.00684)" fill="#111" stroke="#111" stroke-width="41.0" d="M763,0 L583,0 L583,1147 C540,1106 483,1065 413,1024 C343,983 280,952 223,931 L223,1105 C324,1153 412,1210 488,1277 C564,1344 618,1407 649,1466 L763,1466 Z"/><text x="149.27" y="550.6" font-size="14">0</text><text x="157.96" y="546" font-size="10">3</text>
<path transform="translate(193.68,550.6) scale(0.00684,-0.00684)" fill="#111" stroke="#111" stroke-width="41.0" d="M763,0 L583,0 L583,1147 C540,1106 483,1065 413,1024 C343,983 280,952 223,931 L223,1105 C324,1153 412,1210 488,1277 C564,1344 618,1407 649,1466 L763,1466 Z"/><text x="201.47" y="550.6" font-size="14">0</text><text x="210.16" y="546" font-size="10">4</text>
<path transform="translate(245.88,550.6) scale(0.00684,-0.00684)" fill="#111" stroke="#111" stroke-width="41.0" d="M763,0 L583,0 L583,1147 C540,1106 483,1065 413,1024 C343,983 280,952 223,931 L223,1105 C324,1153 412,1210 488,1277 C564,1344 618,1407 649,1466 L763,1466 Z"/><text x="253.67" y="550.6" font-size="14">0</text><text x="262.36" y="546" font-size="10">5</text>
<path transform="translate(298.08,550.6) scale(0.00684,-0.00684)" fill="#111" stroke="#111" stroke-width="41.0" d="M763,0 L583,0 L583,1147 C540,1106 483,1065 413,1024 C343,983 280,952 223,931 L223,1105 C324,1153 412,1210 488,1277 C564,1344 618,1407 649,1466 L763,1466 Z"/><text x="305.87" y="550.6" font-size="14">0</text><text x="314.56" y="546" font-size="10">6</text>
</g>
<text x="178.6" y="571.0" font-size="13.9" text-anchor="middle" fill="#111">Frequency [Hz]</text>
<text transform="translate(11.3,328.6) rotate(-90)" font-size="14" text-anchor="middle" fill="#111">|Z| [Ω]</text>
<text transform="translate(11.3,472.5) rotate(-90)" font-size="14" text-anchor="middle" fill="#111">Phase [°]</text>
<svg x="0" y="0" width="709" height="575" overflow="hidden">
<clipPath id="clip1e"><rect x="422.5" y="269.5" width="261" height="124"/></clipPath>
<clipPath id="clip2e"><rect x="422.5" y="410.5" width="261" height="124"/></clipPath>
</svg>
<path d="M422.5,379.1 H683.5" stroke="#bbb" stroke-width="1.2"/>
<g clip-path="url(#clip1e)"><path d="M422.5,283.29 L423.5,283.29 L424.51,283.29 L425.51,283.29 L426.52,283.29 L427.52,283.29 L428.52,283.29 L429.53,283.29 L430.53,283.29 L431.53,283.29 L432.54,283.29 L433.54,283.29 L434.55,283.29 L435.55,283.29 L436.55,283.29 L437.56,283.29 L438.56,283.3 L439.57,283.3 L440.57,283.3 L441.57,283.3 L442.58,283.3 L443.58,283.3 L444.58,283.3 L445.59,283.3 L446.59,283.3 L447.6,283.3 L448.6,283.3 L449.6,283.3 L450.61,283.3 L451.61,283.3 L452.62,283.3 L453.62,283.3 L454.62,283.3 L455.63,283.3 L456.63,283.3 L457.63,283.3 L458.64,283.3 L459.64,283.3 L460.65,283.31 L461.65,283.31 L462.65,283.31 L463.66,283.31 L464.66,283.31 L465.67,283.31 L466.67,283.31 L467.67,283.32 L468.68,283.32 L469.68,283.32 L470.68,283.32 L471.69,283.32 L472.69,283.33 L473.7,283.33 L474.7,283.33 L475.7,283.34 L476.71,283.34 L477.71,283.35 L478.72,283.35 L479.72,283.36 L480.72,283.36 L481.73,283.37 L482.73,283.38 L483.73,283.38 L484.74,283.39 L485.74,283.4 L486.75,283.41 L487.75,283.42 L488.75,283.43 L489.76,283.45 L490.76,283.46 L491.77,283.48 L492.77,283.49 L493.77,283.51 L494.78,283.53 L495.78,283.55 L496.78,283.58 L497.79,283.6 L498.79,283.63 L499.8,283.66 L500.8,283.7 L501.8,283.73 L502.81,283.77 L503.81,283.81 L504.82,283.86 L505.82,283.91 L506.82,283.97 L507.83,284.03 L508.83,284.09 L509.83,284.16 L510.84,284.24 L511.84,284.33 L512.85,284.42 L513.85,284.51 L514.85,284.62 L515.86,284.74 L516.86,284.86 L517.87,284.99 L518.87,285.14 L519.87,285.29 L520.88,285.46 L521.88,285.64 L522.88,285.83 L523.89,286.04 L524.89,286.26 L525.9,286.49 L526.9,286.75 L527.9,287.02 L528.91,287.3 L529.91,287.6 L530.92,287.93 L531.92,288.27 L532.92,288.63 L533.93,289 L534.93,289.4 L535.93,289.82 L536.94,290.26 L537.94,290.72 L538.95,291.2 L539.95,291.7 L540.95,292.22 L541.96,292.76 L542.96,293.32 L543.97,293.9 L544.97,294.5 L545.97,295.11 L546.98,295.75 L547.98,296.4 L548.98,297.07 L549.99,297.75 L550.99,298.45 L552,299.16 L553,299.89 L554,300.63 L555.01,301.38 L556.01,302.14 L557.02,302.92 L558.02,303.7 L559.02,304.5 L560.03,305.3 L561.03,306.11 L562.03,306.93 L563.04,307.76 L564.04,308.6 L565.05,309.44 L566.05,310.28 L567.05,311.14 L568.06,311.99 L569.06,312.86 L570.07,313.72 L571.07,314.59 L572.07,315.47 L573.08,316.35 L574.08,317.23 L575.08,318.11 L576.09,319 L577.09,319.88 L578.1,320.77 L579.1,321.67 L580.1,322.56 L581.11,323.45 L582.11,324.35 L583.12,325.25 L584.12,326.15 L585.12,327.05 L586.13,327.95 L587.13,328.85 L588.13,329.75 L589.14,330.65 L590.14,331.55 L591.15,332.45 L592.15,333.35 L593.15,334.25 L594.16,335.15 L595.16,336.05 L596.17,336.95 L597.17,337.85 L598.17,338.75 L599.18,339.64 L600.18,340.54 L601.18,341.43 L602.19,342.32 L603.19,343.21 L604.2,344.09 L605.2,344.98 L606.2,345.86 L607.21,346.74 L608.21,347.61 L609.22,348.48 L610.22,349.35 L611.22,350.22 L612.23,351.07 L613.23,351.93 L614.23,352.78 L615.24,353.62 L616.24,354.45 L617.25,355.28 L618.25,356.11 L619.25,356.92 L620.26,357.73 L621.26,358.52 L622.27,359.31 L623.27,360.09 L624.27,360.85 L625.28,361.61 L626.28,362.35 L627.28,363.08 L628.29,363.8 L629.29,364.5 L630.3,365.18 L631.3,365.85 L632.3,366.51 L633.31,367.14 L634.31,367.76 L635.32,368.37 L636.32,368.95 L637.32,369.51 L638.33,370.06 L639.33,370.58 L640.33,371.09 L641.34,371.57 L642.34,372.03 L643.35,372.48 L644.35,372.9 L645.35,373.3 L646.36,373.69 L647.36,374.05 L648.37,374.4 L649.37,374.72 L650.37,375.03 L651.38,375.32 L652.38,375.59 L653.38,375.85 L654.39,376.09 L655.39,376.31 L656.4,376.52 L657.4,376.71 L658.4,376.9 L659.41,377.07 L660.41,377.22 L661.42,377.37 L662.42,377.51 L663.42,377.63 L664.43,377.75 L665.43,377.86 L666.43,377.96 L667.44,378.05 L668.44,378.13 L669.45,378.21 L670.45,378.28 L671.45,378.35 L672.46,378.41 L673.46,378.47 L674.47,378.52 L675.47,378.57 L676.47,378.61 L677.48,378.65 L678.48,378.69 L679.48,378.72 L680.49,378.76 L681.49,378.78 L682.5,378.81 L683.5,378.84" stroke="#d92626" stroke-width="1.5" fill="none"/>
<path d="M422.5,283.29 L423.5,283.29 L424.51,283.29 L425.51,283.29 L426.52,283.3 L427.52,283.3 L428.52,283.3 L429.53,283.3 L430.53,283.3 L431.53,283.3 L432.54,283.3 L433.54,283.3 L434.55,283.3 L435.55,283.3 L436.55,283.3 L437.56,283.3 L438.56,283.3 L439.57,283.3 L440.57,283.3 L441.57,283.3 L442.58,283.3 L443.58,283.3 L444.58,283.3 L445.59,283.3 L446.59,283.3 L447.6,283.3 L448.6,283.3 L449.6,283.31 L450.61,283.31 L451.61,283.31 L452.62,283.31 L453.62,283.31 L454.62,283.31 L455.63,283.31 L456.63,283.32 L457.63,283.32 L458.64,283.32 L459.64,283.32 L460.65,283.33 L461.65,283.33 L462.65,283.33 L463.66,283.34 L464.66,283.34 L465.67,283.34 L466.67,283.35 L467.67,283.35 L468.68,283.36 L469.68,283.37 L470.68,283.37 L471.69,283.38 L472.69,283.39 L473.7,283.4 L474.7,283.41 L475.7,283.42 L476.71,283.43 L477.71,283.44 L478.72,283.45 L479.72,283.47 L480.72,283.49 L481.73,283.5 L482.73,283.52 L483.73,283.54 L484.74,283.57 L485.74,283.59 L486.75,283.62 L487.75,283.65 L488.75,283.68 L489.76,283.72 L490.76,283.75 L491.77,283.79 L492.77,283.84 L493.77,283.89 L494.78,283.94 L495.78,284 L496.78,284.06 L497.79,284.13 L498.79,284.21 L499.8,284.29 L500.8,284.38 L501.8,284.47 L502.81,284.57 L503.81,284.68 L504.82,284.8 L505.82,284.93 L506.82,285.07 L507.83,285.22 L508.83,285.38 L509.83,285.56 L510.84,285.74 L511.84,285.94 L512.85,286.16 L513.85,286.39 L514.85,286.63 L515.86,286.89 L516.86,287.17 L517.87,287.47 L518.87,287.78 L519.87,288.11 L520.88,288.46 L521.88,288.83 L522.88,289.22 L523.89,289.63 L524.89,290.06 L525.9,290.52 L526.9,290.99 L527.9,291.48 L528.91,291.99 L529.91,292.52 L530.92,293.07 L531.92,293.64 L532.92,294.23 L533.93,294.84 L534.93,295.46 L535.93,296.11 L536.94,296.77 L537.94,297.44 L538.95,298.13 L539.95,298.84 L540.95,299.56 L541.96,300.3 L542.96,301.04 L543.97,301.8 L544.97,302.57 L545.97,303.35 L546.98,304.14 L547.98,304.94 L548.98,305.75 L549.99,306.57 L550.99,307.39 L552,308.22 L553,309.06 L554,309.91 L555.01,310.76 L556.01,311.61 L557.02,312.47 L558.02,313.34 L559.02,314.21 L560.03,315.08 L561.03,315.95 L562.03,316.83 L563.04,317.72 L564.04,318.6 L565.05,319.49 L566.05,320.38 L567.05,321.27 L568.06,322.16 L569.06,323.06 L570.07,323.95 L571.07,324.85 L572.07,325.75 L573.08,326.65 L574.08,327.55 L575.08,328.45 L576.09,329.35 L577.09,330.25 L578.1,331.15 L579.1,332.05 L580.1,332.95 L581.11,333.85 L582.11,334.75 L583.12,335.65 L584.12,336.55 L585.12,337.45 L586.13,338.35 L587.13,339.24 L588.13,340.14 L589.14,341.03 L590.14,341.92 L591.15,342.81 L592.15,343.7 L593.15,344.59 L594.16,345.47 L595.16,346.35 L596.17,347.22 L597.17,348.1 L598.17,348.97 L599.18,349.83 L600.18,350.69 L601.18,351.55 L602.19,352.4 L603.19,353.25 L604.2,354.08 L605.2,354.92 L606.2,355.74 L607.21,356.56 L608.21,357.37 L609.22,358.17 L610.22,358.96 L611.22,359.74 L612.23,360.51 L613.23,361.27 L614.23,362.02 L615.24,362.76 L616.24,363.48 L617.25,364.19 L618.25,364.88 L619.25,365.56 L620.26,366.22 L621.26,366.86 L622.27,367.49 L623.27,368.1 L624.27,368.69 L625.28,369.26 L626.28,369.82 L627.28,370.35 L628.29,370.86 L629.29,371.36 L630.3,371.83 L631.3,372.28 L632.3,372.72 L633.31,373.13 L634.31,373.52 L635.32,373.89 L636.32,374.25 L637.32,374.58 L638.33,374.89 L639.33,375.19 L640.33,375.47 L641.34,375.73 L642.34,375.98 L643.35,376.21 L644.35,376.43 L645.35,376.63 L646.36,376.82 L647.36,376.99 L648.37,377.16 L649.37,377.31 L650.37,377.45 L651.38,377.58 L652.38,377.7 L653.38,377.81 L654.39,377.91 L655.39,378.01 L656.4,378.1 L657.4,378.18 L658.4,378.25 L659.41,378.32 L660.41,378.39 L661.42,378.44 L662.42,378.5 L663.42,378.55 L664.43,378.59 L665.43,378.64 L666.43,378.67 L667.44,378.71 L668.44,378.74 L669.45,378.77 L670.45,378.8 L671.45,378.82 L672.46,378.85 L673.46,378.87 L674.47,378.89 L675.47,378.91 L676.47,378.92 L677.48,378.94 L678.48,378.95 L679.48,378.96 L680.49,378.98 L681.49,378.99 L682.5,379 L683.5,379" stroke="#f19c38" stroke-width="1.5" fill="none"/>
<path d="M422.5,283.3 L423.5,283.3 L424.51,283.3 L425.51,283.3 L426.52,283.3 L427.52,283.3 L428.52,283.3 L429.53,283.3 L430.53,283.3 L431.53,283.3 L432.54,283.3 L433.54,283.3 L434.55,283.3 L435.55,283.3 L436.55,283.3 L437.56,283.31 L438.56,283.31 L439.57,283.31 L440.57,283.31 L441.57,283.31 L442.58,283.31 L443.58,283.31 L444.58,283.32 L445.59,283.32 L446.59,283.32 L447.6,283.32 L448.6,283.33 L449.6,283.33 L450.61,283.33 L451.61,283.33 L452.62,283.34 L453.62,283.34 L454.62,283.35 L455.63,283.35 L456.63,283.36 L457.63,283.36 L458.64,283.37 L459.64,283.38 L460.65,283.38 L461.65,283.39 L462.65,283.4 L463.66,283.41 L464.66,283.42 L465.67,283.44 L466.67,283.45 L467.67,283.46 L468.68,283.48 L469.68,283.5 L470.68,283.51 L471.69,283.53 L472.69,283.56 L473.7,283.58 L474.7,283.61 L475.7,283.63 L476.71,283.67 L477.71,283.7 L478.72,283.74 L479.72,283.78 L480.72,283.82 L481.73,283.87 L482.73,283.92 L483.73,283.97 L484.74,284.04 L485.74,284.1 L486.75,284.17 L487.75,284.25 L488.75,284.34 L489.76,284.43 L490.76,284.53 L491.77,284.63 L492.77,284.75 L493.77,284.87 L494.78,285.01 L495.78,285.15 L496.78,285.31 L497.79,285.48 L498.79,285.66 L499.8,285.85 L500.8,286.06 L501.8,286.28 L502.81,286.52 L503.81,286.78 L504.82,287.05 L505.82,287.33 L506.82,287.64 L507.83,287.96 L508.83,288.31 L509.83,288.67 L510.84,289.05 L511.84,289.45 L512.85,289.87 L513.85,290.31 L514.85,290.77 L515.86,291.26 L516.86,291.76 L517.87,292.28 L518.87,292.82 L519.87,293.39 L520.88,293.97 L521.88,294.57 L522.88,295.18 L523.89,295.82 L524.89,296.47 L525.9,297.14 L526.9,297.83 L527.9,298.53 L528.91,299.24 L529.91,299.97 L530.92,300.71 L531.92,301.46 L532.92,302.23 L533.93,303 L534.93,303.79 L535.93,304.58 L536.94,305.39 L537.94,306.2 L538.95,307.02 L539.95,307.85 L540.95,308.69 L541.96,309.53 L542.96,310.38 L543.97,311.23 L544.97,312.09 L545.97,312.95 L546.98,313.82 L547.98,314.69 L548.98,315.57 L549.99,316.44 L550.99,317.32 L552,318.21 L553,319.09 L554,319.98 L555.01,320.87 L556.01,321.77 L557.02,322.66 L558.02,323.55 L559.02,324.45 L560.03,325.35 L561.03,326.25 L562.03,327.15 L563.04,328.05 L564.04,328.95 L565.05,329.85 L566.05,330.75 L567.05,331.65 L568.06,332.55 L569.06,333.45 L570.07,334.35 L571.07,335.25 L572.07,336.15 L573.08,337.05 L574.08,337.95 L575.08,338.85 L576.09,339.74 L577.09,340.64 L578.1,341.53 L579.1,342.42 L580.1,343.31 L581.11,344.19 L582.11,345.08 L583.12,345.96 L584.12,346.84 L585.12,347.71 L586.13,348.58 L587.13,349.45 L588.13,350.31 L589.14,351.17 L590.14,352.02 L591.15,352.87 L592.15,353.71 L593.15,354.55 L594.16,355.38 L595.16,356.2 L596.17,357.01 L597.17,357.82 L598.17,358.61 L599.18,359.4 L600.18,360.17 L601.18,360.94 L602.19,361.69 L603.19,362.43 L604.2,363.16 L605.2,363.87 L606.2,364.57 L607.21,365.26 L608.21,365.93 L609.22,366.58 L610.22,367.21 L611.22,367.83 L612.23,368.43 L613.23,369.01 L614.23,369.57 L615.24,370.12 L616.24,370.64 L617.25,371.14 L618.25,371.62 L619.25,372.08 L620.26,372.53 L621.26,372.95 L622.27,373.35 L623.27,373.73 L624.27,374.09 L625.28,374.43 L626.28,374.76 L627.28,375.06 L628.29,375.35 L629.29,375.62 L630.3,375.87 L631.3,376.11 L632.3,376.33 L633.31,376.54 L634.31,376.74 L635.32,376.92 L636.32,377.08 L637.32,377.24 L638.33,377.39 L639.33,377.52 L640.33,377.65 L641.34,377.76 L642.34,377.87 L643.35,377.97 L644.35,378.06 L645.35,378.14 L646.36,378.22 L647.36,378.29 L648.37,378.36 L649.37,378.42 L650.37,378.48 L651.38,378.53 L652.38,378.57 L653.38,378.62 L654.39,378.66 L655.39,378.69 L656.4,378.73 L657.4,378.76 L658.4,378.79 L659.41,378.81 L660.41,378.84 L661.42,378.86 L662.42,378.88 L663.42,378.9 L664.43,378.92 L665.43,378.93 L666.43,378.95 L667.44,378.96 L668.44,378.97 L669.45,378.98 L670.45,378.99 L671.45,379 L672.46,379.01 L673.46,379.02 L674.47,379.02 L675.47,379.03 L676.47,379.04 L677.48,379.04 L678.48,379.05 L679.48,379.05 L680.49,379.05 L681.49,379.06 L682.5,379.06 L683.5,379.07" stroke="#c6e53a" stroke-width="1.5" fill="none"/>
<path d="M422.5,283.3 L423.5,283.3 L424.51,283.3 L425.51,283.3 L426.52,283.31 L427.52,283.31 L428.52,283.31 L429.53,283.31 L430.53,283.31 L431.53,283.31 L432.54,283.31 L433.54,283.32 L434.55,283.32 L435.55,283.32 L436.55,283.32 L437.56,283.33 L438.56,283.33 L439.57,283.33 L440.57,283.34 L441.57,283.34 L442.58,283.35 L443.58,283.35 L444.58,283.36 L445.59,283.36 L446.59,283.37 L447.6,283.37 L448.6,283.38 L449.6,283.39 L450.61,283.4 L451.61,283.41 L452.62,283.42 L453.62,283.43 L454.62,283.44 L455.63,283.46 L456.63,283.47 L457.63,283.49 L458.64,283.51 L459.64,283.52 L460.65,283.55 L461.65,283.57 L462.65,283.59 L463.66,283.62 L464.66,283.65 L465.67,283.68 L466.67,283.72 L467.67,283.76 L468.68,283.8 L469.68,283.85 L470.68,283.9 L471.69,283.95 L472.69,284.01 L473.7,284.07 L474.7,284.14 L475.7,284.22 L476.71,284.3 L477.71,284.39 L478.72,284.48 L479.72,284.58 L480.72,284.7 L481.73,284.82 L482.73,284.95 L483.73,285.09 L484.74,285.24 L485.74,285.4 L486.75,285.58 L487.75,285.77 L488.75,285.97 L489.76,286.18 L490.76,286.41 L491.77,286.66 L492.77,286.92 L493.77,287.2 L494.78,287.5 L495.78,287.82 L496.78,288.15 L497.79,288.5 L498.79,288.88 L499.8,289.27 L500.8,289.68 L501.8,290.11 L502.81,290.57 L503.81,291.04 L504.82,291.53 L505.82,292.05 L506.82,292.58 L507.83,293.13 L508.83,293.71 L509.83,294.3 L510.84,294.91 L511.84,295.53 L512.85,296.18 L513.85,296.84 L514.85,297.52 L515.86,298.21 L516.86,298.92 L517.87,299.64 L518.87,300.38 L519.87,301.13 L520.88,301.89 L521.88,302.66 L522.88,303.44 L523.89,304.23 L524.89,305.03 L525.9,305.84 L526.9,306.66 L527.9,307.48 L528.91,308.32 L529.91,309.16 L530.92,310 L531.92,310.85 L532.92,311.71 L533.93,312.57 L534.93,313.43 L535.93,314.3 L536.94,315.18 L537.94,316.05 L538.95,316.93 L539.95,317.81 L540.95,318.7 L541.96,319.59 L542.96,320.48 L543.97,321.37 L544.97,322.26 L545.97,323.16 L546.98,324.05 L547.98,324.95 L548.98,325.85 L549.99,326.75 L550.99,327.65 L552,328.55 L553,329.45 L554,330.35 L555.01,331.25 L556.01,332.15 L557.02,333.05 L558.02,333.95 L559.02,334.85 L560.03,335.75 L561.03,336.65 L562.03,337.55 L563.04,338.45 L564.04,339.34 L565.05,340.24 L566.05,341.13 L567.05,342.02 L568.06,342.91 L569.06,343.8 L570.07,344.68 L571.07,345.57 L572.07,346.45 L573.08,347.32 L574.08,348.19 L575.08,349.06 L576.09,349.93 L577.09,350.79 L578.1,351.64 L579.1,352.49 L580.1,353.34 L581.11,354.18 L582.11,355.01 L583.12,355.83 L584.12,356.65 L585.12,357.46 L586.13,358.26 L587.13,359.05 L588.13,359.83 L589.14,360.6 L590.14,361.36 L591.15,362.1 L592.15,362.84 L593.15,363.56 L594.16,364.26 L595.16,364.96 L596.17,365.63 L597.17,366.29 L598.17,366.93 L599.18,367.56 L600.18,368.17 L601.18,368.76 L602.19,369.33 L603.19,369.88 L604.2,370.41 L605.2,370.92 L606.2,371.41 L607.21,371.88 L608.21,372.33 L609.22,372.76 L610.22,373.17 L611.22,373.56 L612.23,373.93 L613.23,374.28 L614.23,374.62 L615.24,374.93 L616.24,375.22 L617.25,375.5 L618.25,375.76 L619.25,376.01 L620.26,376.24 L621.26,376.45 L622.27,376.65 L623.27,376.84 L624.27,377.01 L625.28,377.17 L626.28,377.32 L627.28,377.46 L628.29,377.59 L629.29,377.71 L630.3,377.82 L631.3,377.92 L632.3,378.02 L633.31,378.11 L634.31,378.19 L635.32,378.26 L636.32,378.33 L637.32,378.39 L638.33,378.45 L639.33,378.5 L640.33,378.55 L641.34,378.6 L642.34,378.64 L643.35,378.68 L644.35,378.71 L645.35,378.75 L646.36,378.78 L647.36,378.8 L648.37,378.83 L649.37,378.85 L650.37,378.87 L651.38,378.89 L652.38,378.91 L653.38,378.92 L654.39,378.94 L655.39,378.95 L656.4,378.96 L657.4,378.98 L658.4,378.99 L659.41,379 L660.41,379.01 L661.42,379.01 L662.42,379.02 L663.42,379.03 L664.43,379.03 L665.43,379.04 L666.43,379.04 L667.44,379.05 L668.44,379.05 L669.45,379.06 L670.45,379.06 L671.45,379.06 L672.46,379.07 L673.46,379.07 L674.47,379.07 L675.47,379.07 L676.47,379.08 L677.48,379.08 L678.48,379.08 L679.48,379.08 L680.49,379.08 L681.49,379.09 L682.5,379.09 L683.5,379.09" stroke="#4cd23e" stroke-width="1.5" fill="none"/>
<path d="M422.5,283.32 L423.5,283.32 L424.51,283.32 L425.51,283.33 L426.52,283.33 L427.52,283.33 L428.52,283.34 L429.53,283.34 L430.53,283.34 L431.53,283.35 L432.54,283.35 L433.54,283.36 L434.55,283.36 L435.55,283.37 L436.55,283.38 L437.56,283.39 L438.56,283.39 L439.57,283.4 L440.57,283.41 L441.57,283.42 L442.58,283.44 L443.58,283.45 L444.58,283.46 L445.59,283.48 L446.59,283.5 L447.6,283.52 L448.6,283.54 L449.6,283.56 L450.61,283.58 L451.61,283.61 L452.62,283.64 L453.62,283.67 L454.62,283.7 L455.63,283.74 L456.63,283.78 L457.63,283.82 L458.64,283.87 L459.64,283.92 L460.65,283.98 L461.65,284.04 L462.65,284.11 L463.66,284.18 L464.66,284.26 L465.67,284.35 L466.67,284.44 L467.67,284.54 L468.68,284.65 L469.68,284.76 L470.68,284.89 L471.69,285.02 L472.69,285.17 L473.7,285.33 L474.7,285.5 L475.7,285.68 L476.71,285.88 L477.71,286.09 L478.72,286.31 L479.72,286.55 L480.72,286.8 L481.73,287.08 L482.73,287.37 L483.73,287.67 L484.74,288 L485.74,288.34 L486.75,288.71 L487.75,289.09 L488.75,289.5 L489.76,289.92 L490.76,290.36 L491.77,290.83 L492.77,291.31 L493.77,291.82 L494.78,292.34 L495.78,292.89 L496.78,293.45 L497.79,294.03 L498.79,294.63 L499.8,295.25 L500.8,295.89 L501.8,296.55 L502.81,297.22 L503.81,297.9 L504.82,298.6 L505.82,299.32 L506.82,300.05 L507.83,300.79 L508.83,301.55 L509.83,302.31 L510.84,303.09 L511.84,303.88 L512.85,304.67 L513.85,305.48 L514.85,306.29 L515.86,307.12 L516.86,307.95 L517.87,308.78 L518.87,309.62 L519.87,310.47 L520.88,311.33 L521.88,312.19 L522.88,313.05 L523.89,313.92 L524.89,314.79 L525.9,315.66 L526.9,316.54 L527.9,317.42 L528.91,318.31 L529.91,319.19 L530.92,320.08 L531.92,320.97 L532.92,321.86 L533.93,322.76 L534.93,323.65 L535.93,324.55 L536.94,325.45 L537.94,326.35 L538.95,327.25 L539.95,328.15 L540.95,329.05 L541.96,329.95 L542.96,330.85 L543.97,331.75 L544.97,332.65 L545.97,333.55 L546.98,334.45 L547.98,335.35 L548.98,336.25 L549.99,337.15 L550.99,338.05 L552,338.95 L553,339.84 L554,340.73 L555.01,341.63 L556.01,342.52 L557.02,343.41 L558.02,344.29 L559.02,345.17 L560.03,346.06 L561.03,346.93 L562.03,347.81 L563.04,348.68 L564.04,349.54 L565.05,350.41 L566.05,351.26 L567.05,352.12 L568.06,352.96 L569.06,353.81 L570.07,354.64 L571.07,355.47 L572.07,356.29 L573.08,357.1 L574.08,357.9 L575.08,358.7 L576.09,359.48 L577.09,360.26 L578.1,361.02 L579.1,361.77 L580.1,362.51 L581.11,363.24 L582.11,363.95 L583.12,364.65 L584.12,365.33 L585.12,366 L586.13,366.65 L587.13,367.28 L588.13,367.9 L589.14,368.5 L590.14,369.08 L591.15,369.64 L592.15,370.18 L593.15,370.7 L594.16,371.2 L595.16,371.68 L596.17,372.13 L597.17,372.57 L598.17,372.99 L599.18,373.39 L600.18,373.77 L601.18,374.13 L602.19,374.47 L603.19,374.79 L604.2,375.09 L605.2,375.38 L606.2,375.65 L607.21,375.9 L608.21,376.14 L609.22,376.36 L610.22,376.56 L611.22,376.76 L612.23,376.94 L613.23,377.1 L614.23,377.26 L615.24,377.4 L616.24,377.54 L617.25,377.66 L618.25,377.77 L619.25,377.88 L620.26,377.98 L621.26,378.07 L622.27,378.15 L623.27,378.23 L624.27,378.3 L625.28,378.37 L626.28,378.43 L627.28,378.48 L628.29,378.53 L629.29,378.58 L630.3,378.62 L631.3,378.66 L632.3,378.7 L633.31,378.73 L634.31,378.76 L635.32,378.79 L636.32,378.82 L637.32,378.84 L638.33,378.86 L639.33,378.88 L640.33,378.9 L641.34,378.92 L642.34,378.93 L643.35,378.95 L644.35,378.96 L645.35,378.97 L646.36,378.98 L647.36,378.99 L648.37,379 L649.37,379.01 L650.37,379.02 L651.38,379.02 L652.38,379.03 L653.38,379.04 L654.39,379.04 L655.39,379.05 L656.4,379.05 L657.4,379.06 L658.4,379.06 L659.41,379.06 L660.41,379.07 L661.42,379.07 L662.42,379.07 L663.42,379.07 L664.43,379.08 L665.43,379.08 L666.43,379.08 L667.44,379.08 L668.44,379.08 L669.45,379.08 L670.45,379.09 L671.45,379.09 L672.46,379.09 L673.46,379.09 L674.47,379.09 L675.47,379.09 L676.47,379.09 L677.48,379.09 L678.48,379.09 L679.48,379.09 L680.49,379.09 L681.49,379.09 L682.5,379.1 L683.5,379.1" stroke="#2ecb8c" stroke-width="1.5" fill="none"/>
<path d="M422.5,283.36 L423.5,283.37 L424.51,283.37 L425.51,283.38 L426.52,283.39 L427.52,283.4 L428.52,283.41 L429.53,283.42 L430.53,283.43 L431.53,283.44 L432.54,283.46 L433.54,283.47 L434.55,283.49 L435.55,283.51 L436.55,283.53 L437.56,283.55 L438.56,283.57 L439.57,283.6 L440.57,283.62 L441.57,283.65 L442.58,283.69 L443.58,283.72 L444.58,283.76 L445.59,283.8 L446.59,283.85 L447.6,283.9 L448.6,283.96 L449.6,284.01 L450.61,284.08 L451.61,284.15 L452.62,284.22 L453.62,284.31 L454.62,284.4 L455.63,284.49 L456.63,284.6 L457.63,284.71 L458.64,284.83 L459.64,284.96 L460.65,285.1 L461.65,285.26 L462.65,285.42 L463.66,285.6 L464.66,285.79 L465.67,285.99 L466.67,286.21 L467.67,286.44 L468.68,286.69 L469.68,286.95 L470.68,287.24 L471.69,287.54 L472.69,287.85 L473.7,288.19 L474.7,288.54 L475.7,288.92 L476.71,289.31 L477.71,289.73 L478.72,290.16 L479.72,290.62 L480.72,291.09 L481.73,291.59 L482.73,292.1 L483.73,292.64 L484.74,293.2 L485.74,293.77 L486.75,294.36 L487.75,294.98 L488.75,295.61 L489.76,296.25 L490.76,296.92 L491.77,297.6 L492.77,298.29 L493.77,299 L494.78,299.72 L495.78,300.46 L496.78,301.21 L497.79,301.97 L498.79,302.74 L499.8,303.53 L500.8,304.32 L501.8,305.12 L502.81,305.93 L503.81,306.75 L504.82,307.58 L505.82,308.41 L506.82,309.25 L507.83,310.09 L508.83,310.95 L509.83,311.8 L510.84,312.66 L511.84,313.53 L512.85,314.4 L513.85,315.27 L514.85,316.15 L515.86,317.03 L516.86,317.91 L517.87,318.8 L518.87,319.69 L519.87,320.58 L520.88,321.47 L521.88,322.36 L522.88,323.26 L523.89,324.15 L524.89,325.05 L525.9,325.95 L526.9,326.85 L527.9,327.75 L528.91,328.65 L529.91,329.55 L530.92,330.45 L531.92,331.35 L532.92,332.25 L533.93,333.15 L534.93,334.05 L535.93,334.95 L536.94,335.85 L537.94,336.75 L538.95,337.65 L539.95,338.55 L540.95,339.44 L541.96,340.34 L542.96,341.23 L543.97,342.12 L544.97,343.01 L545.97,343.9 L546.98,344.78 L547.98,345.66 L548.98,346.54 L549.99,347.42 L550.99,348.29 L552,349.16 L553,350.02 L554,350.88 L555.01,351.74 L556.01,352.59 L557.02,353.43 L558.02,354.27 L559.02,355.1 L560.03,355.92 L561.03,356.74 L562.03,357.55 L563.04,358.35 L564.04,359.14 L565.05,359.92 L566.05,360.68 L567.05,361.44 L568.06,362.19 L569.06,362.92 L570.07,363.64 L571.07,364.34 L572.07,365.03 L573.08,365.71 L574.08,366.36 L575.08,367 L576.09,367.63 L577.09,368.23 L578.1,368.82 L579.1,369.39 L580.1,369.94 L581.11,370.47 L582.11,370.98 L583.12,371.46 L584.12,371.93 L585.12,372.38 L586.13,372.81 L587.13,373.22 L588.13,373.6 L589.14,373.97 L590.14,374.32 L591.15,374.65 L592.15,374.96 L593.15,375.26 L594.16,375.53 L595.16,375.79 L596.17,376.03 L597.17,376.26 L598.17,376.47 L599.18,376.67 L600.18,376.86 L601.18,377.03 L602.19,377.19 L603.19,377.34 L604.2,377.48 L605.2,377.61 L606.2,377.72 L607.21,377.83 L608.21,377.94 L609.22,378.03 L610.22,378.12 L611.22,378.2 L612.23,378.27 L613.23,378.34 L614.23,378.4 L615.24,378.46 L616.24,378.51 L617.25,378.56 L618.25,378.6 L619.25,378.64 L620.26,378.68 L621.26,378.72 L622.27,378.75 L623.27,378.78 L624.27,378.81 L625.28,378.83 L626.28,378.85 L627.28,378.87 L628.29,378.89 L629.29,378.91 L630.3,378.93 L631.3,378.94 L632.3,378.95 L633.31,378.97 L634.31,378.98 L635.32,378.99 L636.32,379 L637.32,379.01 L638.33,379.01 L639.33,379.02 L640.33,379.03 L641.34,379.03 L642.34,379.04 L643.35,379.04 L644.35,379.05 L645.35,379.05 L646.36,379.06 L647.36,379.06 L648.37,379.06 L649.37,379.07 L650.37,379.07 L651.38,379.07 L652.38,379.07 L653.38,379.08 L654.39,379.08 L655.39,379.08 L656.4,379.08 L657.4,379.08 L658.4,379.09 L659.41,379.09 L660.41,379.09 L661.42,379.09 L662.42,379.09 L663.42,379.09 L664.43,379.09 L665.43,379.09 L666.43,379.09 L667.44,379.09 L668.44,379.09 L669.45,379.09 L670.45,379.09 L671.45,379.1 L672.46,379.1 L673.46,379.1 L674.47,379.1 L675.47,379.1 L676.47,379.1 L677.48,379.1 L678.48,379.1 L679.48,379.1 L680.49,379.1 L681.49,379.1 L682.5,379.1 L683.5,379.1" stroke="#32d8e8" stroke-width="1.5" fill="none"/>
<path d="M422.5,283.48 L423.5,283.5 L424.51,283.52 L425.51,283.54 L426.52,283.56 L427.52,283.59 L428.52,283.61 L429.53,283.64 L430.53,283.67 L431.53,283.71 L432.54,283.74 L433.54,283.79 L434.55,283.83 L435.55,283.88 L436.55,283.93 L437.56,283.99 L438.56,284.05 L439.57,284.12 L440.57,284.19 L441.57,284.27 L442.58,284.36 L443.58,284.45 L444.58,284.55 L445.59,284.66 L446.59,284.78 L447.6,284.9 L448.6,285.04 L449.6,285.19 L450.61,285.35 L451.61,285.52 L452.62,285.7 L453.62,285.9 L454.62,286.11 L455.63,286.34 L456.63,286.58 L457.63,286.83 L458.64,287.11 L459.64,287.4 L460.65,287.71 L461.65,288.04 L462.65,288.38 L463.66,288.75 L464.66,289.14 L465.67,289.54 L466.67,289.97 L467.67,290.41 L468.68,290.88 L469.68,291.37 L470.68,291.87 L471.69,292.4 L472.69,292.95 L473.7,293.51 L474.7,294.1 L475.7,294.7 L476.71,295.32 L477.71,295.96 L478.72,296.62 L479.72,297.29 L480.72,297.98 L481.73,298.68 L482.73,299.4 L483.73,300.13 L484.74,300.87 L485.74,301.63 L486.75,302.4 L487.75,303.18 L488.75,303.96 L489.76,304.76 L490.76,305.57 L491.77,306.38 L492.77,307.21 L493.77,308.04 L494.78,308.87 L495.78,309.72 L496.78,310.57 L497.79,311.42 L498.79,312.28 L499.8,313.14 L500.8,314.01 L501.8,314.88 L502.81,315.76 L503.81,316.64 L504.82,317.52 L505.82,318.4 L506.82,319.29 L507.83,320.18 L508.83,321.07 L509.83,321.96 L510.84,322.86 L511.84,323.75 L512.85,324.65 L513.85,325.55 L514.85,326.45 L515.86,327.35 L516.86,328.25 L517.87,329.15 L518.87,330.05 L519.87,330.95 L520.88,331.85 L521.88,332.75 L522.88,333.65 L523.89,334.55 L524.89,335.45 L525.9,336.35 L526.9,337.25 L527.9,338.15 L528.91,339.05 L529.91,339.94 L530.92,340.83 L531.92,341.73 L532.92,342.62 L533.93,343.5 L534.93,344.39 L535.93,345.27 L536.94,346.15 L537.94,347.03 L538.95,347.9 L539.95,348.77 L540.95,349.64 L541.96,350.5 L542.96,351.36 L543.97,352.21 L544.97,353.06 L545.97,353.9 L546.98,354.73 L547.98,355.56 L548.98,356.38 L549.99,357.19 L550.99,357.99 L552,358.79 L553,359.57 L554,360.34 L555.01,361.11 L556.01,361.86 L557.02,362.59 L558.02,363.32 L559.02,364.03 L560.03,364.73 L561.03,365.41 L562.03,366.07 L563.04,366.72 L564.04,367.35 L565.05,367.97 L566.05,368.56 L567.05,369.14 L568.06,369.7 L569.06,370.23 L570.07,370.75 L571.07,371.25 L572.07,371.73 L573.08,372.18 L574.08,372.62 L575.08,373.04 L576.09,373.43 L577.09,373.81 L578.1,374.17 L579.1,374.51 L580.1,374.83 L581.11,375.13 L582.11,375.41 L583.12,375.68 L584.12,375.93 L585.12,376.16 L586.13,376.38 L587.13,376.59 L588.13,376.78 L589.14,376.95 L590.14,377.12 L591.15,377.27 L592.15,377.42 L593.15,377.55 L594.16,377.67 L595.16,377.79 L596.17,377.89 L597.17,377.99 L598.17,378.08 L599.18,378.16 L600.18,378.24 L601.18,378.31 L602.19,378.37 L603.19,378.43 L604.2,378.49 L605.2,378.54 L606.2,378.58 L607.21,378.63 L608.21,378.67 L609.22,378.7 L610.22,378.74 L611.22,378.77 L612.23,378.79 L613.23,378.82 L614.23,378.84 L615.24,378.86 L616.24,378.88 L617.25,378.9 L618.25,378.92 L619.25,378.93 L620.26,378.95 L621.26,378.96 L622.27,378.97 L623.27,378.98 L624.27,378.99 L625.28,379 L626.28,379.01 L627.28,379.02 L628.29,379.02 L629.29,379.03 L630.3,379.04 L631.3,379.04 L632.3,379.05 L633.31,379.05 L634.31,379.06 L635.32,379.06 L636.32,379.06 L637.32,379.07 L638.33,379.07 L639.33,379.07 L640.33,379.07 L641.34,379.08 L642.34,379.08 L643.35,379.08 L644.35,379.08 L645.35,379.08 L646.36,379.08 L647.36,379.09 L648.37,379.09 L649.37,379.09 L650.37,379.09 L651.38,379.09 L652.38,379.09 L653.38,379.09 L654.39,379.09 L655.39,379.09 L656.4,379.09 L657.4,379.09 L658.4,379.09 L659.41,379.1 L660.41,379.1 L661.42,379.1 L662.42,379.1 L663.42,379.1 L664.43,379.1 L665.43,379.1 L666.43,379.1 L667.44,379.1 L668.44,379.1 L669.45,379.1 L670.45,379.1 L671.45,379.1 L672.46,379.1 L673.46,379.1 L674.47,379.1 L675.47,379.1 L676.47,379.1 L677.48,379.1 L678.48,379.1 L679.48,379.1 L680.49,379.1 L681.49,379.1 L682.5,379.1 L683.5,379.1" stroke="#1f5fcc" stroke-width="1.5" fill="none"/>
<path d="M422.5,283.81 L423.5,283.86 L424.51,283.91 L425.51,283.96 L426.52,284.02 L427.52,284.09 L428.52,284.16 L429.53,284.23 L430.53,284.32 L431.53,284.41 L432.54,284.5 L433.54,284.61 L434.55,284.72 L435.55,284.84 L436.55,284.98 L437.56,285.12 L438.56,285.27 L439.57,285.44 L440.57,285.62 L441.57,285.81 L442.58,286.01 L443.58,286.23 L444.58,286.47 L445.59,286.72 L446.59,286.98 L447.6,287.27 L448.6,287.57 L449.6,287.89 L450.61,288.23 L451.61,288.58 L452.62,288.96 L453.62,289.36 L454.62,289.78 L455.63,290.21 L456.63,290.67 L457.63,291.15 L458.64,291.65 L459.64,292.16 L460.65,292.7 L461.65,293.26 L462.65,293.84 L463.66,294.43 L464.66,295.05 L465.67,295.68 L466.67,296.33 L467.67,296.99 L468.68,297.67 L469.68,298.37 L470.68,299.08 L471.69,299.8 L472.69,300.54 L473.7,301.29 L474.7,302.06 L475.7,302.83 L476.71,303.61 L477.71,304.41 L478.72,305.21 L479.72,306.02 L480.72,306.84 L481.73,307.67 L482.73,308.5 L483.73,309.34 L484.74,310.19 L485.74,311.04 L486.75,311.9 L487.75,312.76 L488.75,313.63 L489.76,314.5 L490.76,315.37 L491.77,316.25 L492.77,317.13 L493.77,318.01 L494.78,318.9 L495.78,319.78 L496.78,320.67 L497.79,321.57 L498.79,322.46 L499.8,323.36 L500.8,324.25 L501.8,325.15 L502.81,326.05 L503.81,326.95 L504.82,327.85 L505.82,328.75 L506.82,329.65 L507.83,330.55 L508.83,331.45 L509.83,332.35 L510.84,333.25 L511.84,334.15 L512.85,335.05 L513.85,335.95 L514.85,336.85 L515.86,337.75 L516.86,338.65 L517.87,339.54 L518.87,340.44 L519.87,341.33 L520.88,342.22 L521.88,343.11 L522.88,344 L523.89,344.88 L524.89,345.76 L525.9,346.64 L526.9,347.52 L527.9,348.39 L528.91,349.26 L529.91,350.12 L530.92,350.98 L531.92,351.83 L532.92,352.68 L533.93,353.53 L534.93,354.36 L535.93,355.19 L536.94,356.02 L537.94,356.83 L538.95,357.64 L539.95,358.44 L540.95,359.22 L541.96,360 L542.96,360.77 L543.97,361.52 L544.97,362.27 L545.97,363 L546.98,363.72 L547.98,364.42 L548.98,365.11 L549.99,365.78 L550.99,366.44 L552,367.07 L553,367.7 L554,368.3 L555.01,368.89 L556.01,369.45 L557.02,370 L558.02,370.52 L559.02,371.03 L560.03,371.52 L561.03,371.98 L562.03,372.43 L563.04,372.86 L564.04,373.26 L565.05,373.65 L566.05,374.01 L567.05,374.36 L568.06,374.69 L569.06,375 L570.07,375.29 L571.07,375.56 L572.07,375.82 L573.08,376.06 L574.08,376.29 L575.08,376.5 L576.09,376.69 L577.09,376.88 L578.1,377.05 L579.1,377.21 L580.1,377.35 L581.11,377.49 L582.11,377.62 L583.12,377.74 L584.12,377.85 L585.12,377.95 L586.13,378.04 L587.13,378.12 L588.13,378.2 L589.14,378.28 L590.14,378.34 L591.15,378.41 L592.15,378.46 L593.15,378.52 L594.16,378.56 L595.16,378.61 L596.17,378.65 L597.17,378.69 L598.17,378.72 L599.18,378.75 L600.18,378.78 L601.18,378.81 L602.19,378.83 L603.19,378.86 L604.2,378.88 L605.2,378.89 L606.2,378.91 L607.21,378.93 L608.21,378.94 L609.22,378.96 L610.22,378.97 L611.22,378.98 L612.23,378.99 L613.23,379 L614.23,379.01 L615.24,379.01 L616.24,379.02 L617.25,379.03 L618.25,379.03 L619.25,379.04 L620.26,379.05 L621.26,379.05 L622.27,379.05 L623.27,379.06 L624.27,379.06 L625.28,379.06 L626.28,379.07 L627.28,379.07 L628.29,379.07 L629.29,379.08 L630.3,379.08 L631.3,379.08 L632.3,379.08 L633.31,379.08 L634.31,379.08 L635.32,379.09 L636.32,379.09 L637.32,379.09 L638.33,379.09 L639.33,379.09 L640.33,379.09 L641.34,379.09 L642.34,379.09 L643.35,379.09 L644.35,379.09 L645.35,379.09 L646.36,379.09 L647.36,379.09 L648.37,379.1 L649.37,379.1 L650.37,379.1 L651.38,379.1 L652.38,379.1 L653.38,379.1 L654.39,379.1 L655.39,379.1 L656.4,379.1 L657.4,379.1 L658.4,379.1 L659.41,379.1 L660.41,379.1 L661.42,379.1 L662.42,379.1 L663.42,379.1 L664.43,379.1 L665.43,379.1 L666.43,379.1 L667.44,379.1 L668.44,379.1 L669.45,379.1 L670.45,379.1 L671.45,379.1 L672.46,379.1 L673.46,379.1 L674.47,379.1 L675.47,379.1 L676.47,379.1 L677.48,379.1 L678.48,379.1 L679.48,379.1 L680.49,379.1 L681.49,379.1 L682.5,379.1 L683.5,379.1" stroke="#2a18aa" stroke-width="1.5" fill="none"/>
<path d="M422.5,284.67 L423.5,284.79 L424.51,284.92 L425.51,285.06 L426.52,285.2 L427.52,285.36 L428.52,285.54 L429.53,285.72 L430.53,285.92 L431.53,286.13 L432.54,286.36 L433.54,286.6 L434.55,286.86 L435.55,287.14 L436.55,287.43 L437.56,287.74 L438.56,288.07 L439.57,288.42 L440.57,288.79 L441.57,289.18 L442.58,289.59 L443.58,290.02 L444.58,290.46 L445.59,290.93 L446.59,291.42 L447.6,291.93 L448.6,292.46 L449.6,293.01 L450.61,293.58 L451.61,294.16 L452.62,294.77 L453.62,295.39 L454.62,296.04 L455.63,296.69 L456.63,297.37 L457.63,298.06 L458.64,298.76 L459.64,299.48 L460.65,300.21 L461.65,300.96 L462.65,301.72 L463.66,302.48 L464.66,303.26 L465.67,304.05 L466.67,304.85 L467.67,305.66 L468.68,306.48 L469.68,307.3 L470.68,308.13 L471.69,308.97 L472.69,309.81 L473.7,310.66 L474.7,311.52 L475.7,312.38 L476.71,313.24 L477.71,314.11 L478.72,314.98 L479.72,315.86 L480.72,316.74 L481.73,317.62 L482.73,318.5 L483.73,319.39 L484.74,320.28 L485.74,321.17 L486.75,322.06 L487.75,322.96 L488.75,323.85 L489.76,324.75 L490.76,325.65 L491.77,326.55 L492.77,327.45 L493.77,328.35 L494.78,329.25 L495.78,330.15 L496.78,331.05 L497.79,331.95 L498.79,332.85 L499.8,333.75 L500.8,334.65 L501.8,335.55 L502.81,336.45 L503.81,337.35 L504.82,338.25 L505.82,339.14 L506.82,340.04 L507.83,340.93 L508.83,341.82 L509.83,342.71 L510.84,343.6 L511.84,344.49 L512.85,345.37 L513.85,346.25 L514.85,347.13 L515.86,348 L516.86,348.87 L517.87,349.74 L518.87,350.6 L519.87,351.45 L520.88,352.31 L521.88,353.15 L522.88,353.99 L523.89,354.82 L524.89,355.65 L525.9,356.47 L526.9,357.28 L527.9,358.08 L528.91,358.87 L529.91,359.66 L530.92,360.43 L531.92,361.19 L532.92,361.94 L533.93,362.68 L534.93,363.4 L535.93,364.11 L536.94,364.8 L537.94,365.48 L538.95,366.15 L539.95,366.79 L540.95,367.42 L541.96,368.03 L542.96,368.63 L543.97,369.2 L544.97,369.76 L545.97,370.29 L546.98,370.81 L547.98,371.3 L548.98,371.78 L549.99,372.23 L550.99,372.67 L552,373.08 L553,373.48 L554,373.85 L555.01,374.21 L556.01,374.54 L557.02,374.86 L558.02,375.16 L559.02,375.44 L560.03,375.71 L561.03,375.95 L562.03,376.19 L563.04,376.4 L564.04,376.61 L565.05,376.8 L566.05,376.97 L567.05,377.14 L568.06,377.29 L569.06,377.43 L570.07,377.56 L571.07,377.69 L572.07,377.8 L573.08,377.9 L574.08,378 L575.08,378.09 L576.09,378.17 L577.09,378.25 L578.1,378.32 L579.1,378.38 L580.1,378.44 L581.11,378.49 L582.11,378.54 L583.12,378.59 L584.12,378.63 L585.12,378.67 L586.13,378.71 L587.13,378.74 L588.13,378.77 L589.14,378.8 L590.14,378.82 L591.15,378.85 L592.15,378.87 L593.15,378.89 L594.16,378.9 L595.16,378.92 L596.17,378.94 L597.17,378.95 L598.17,378.96 L599.18,378.97 L600.18,378.98 L601.18,378.99 L602.19,379 L603.19,379.01 L604.2,379.02 L605.2,379.03 L606.2,379.03 L607.21,379.04 L608.21,379.04 L609.22,379.05 L610.22,379.05 L611.22,379.06 L612.23,379.06 L613.23,379.06 L614.23,379.07 L615.24,379.07 L616.24,379.07 L617.25,379.07 L618.25,379.08 L619.25,379.08 L620.26,379.08 L621.26,379.08 L622.27,379.08 L623.27,379.08 L624.27,379.09 L625.28,379.09 L626.28,379.09 L627.28,379.09 L628.29,379.09 L629.29,379.09 L630.3,379.09 L631.3,379.09 L632.3,379.09 L633.31,379.09 L634.31,379.09 L635.32,379.09 L636.32,379.1 L637.32,379.1 L638.33,379.1 L639.33,379.1 L640.33,379.1 L641.34,379.1 L642.34,379.1 L643.35,379.1 L644.35,379.1 L645.35,379.1 L646.36,379.1 L647.36,379.1 L648.37,379.1 L649.37,379.1 L650.37,379.1 L651.38,379.1 L652.38,379.1 L653.38,379.1 L654.39,379.1 L655.39,379.1 L656.4,379.1 L657.4,379.1 L658.4,379.1 L659.41,379.1 L660.41,379.1 L661.42,379.1 L662.42,379.1 L663.42,379.1 L664.43,379.1 L665.43,379.1 L666.43,379.1 L667.44,379.1 L668.44,379.1 L669.45,379.1 L670.45,379.1 L671.45,379.1 L672.46,379.1 L673.46,379.1 L674.47,379.1 L675.47,379.1 L676.47,379.1 L677.48,379.1 L678.48,379.1 L679.48,379.1 L680.49,379.1 L681.49,379.1 L682.5,379.1 L683.5,379.1" stroke="#9e22bc" stroke-width="1.5" fill="none"/>
<path d="M422.5,286.75 L423.5,287.02 L424.51,287.3 L425.51,287.6 L426.52,287.93 L427.52,288.27 L428.52,288.63 L429.53,289 L430.53,289.4 L431.53,289.82 L432.54,290.26 L433.54,290.72 L434.55,291.2 L435.55,291.7 L436.55,292.22 L437.56,292.76 L438.56,293.32 L439.57,293.9 L440.57,294.5 L441.57,295.11 L442.58,295.75 L443.58,296.4 L444.58,297.07 L445.59,297.75 L446.59,298.45 L447.6,299.16 L448.6,299.89 L449.6,300.63 L450.61,301.38 L451.61,302.14 L452.62,302.92 L453.62,303.7 L454.62,304.5 L455.63,305.3 L456.63,306.11 L457.63,306.93 L458.64,307.76 L459.64,308.6 L460.65,309.44 L461.65,310.28 L462.65,311.14 L463.66,311.99 L464.66,312.86 L465.67,313.72 L466.67,314.59 L467.67,315.47 L468.68,316.35 L469.68,317.23 L470.68,318.11 L471.69,319 L472.69,319.88 L473.7,320.77 L474.7,321.67 L475.7,322.56 L476.71,323.45 L477.71,324.35 L478.72,325.25 L479.72,326.15 L480.72,327.05 L481.73,327.95 L482.73,328.85 L483.73,329.75 L484.74,330.65 L485.74,331.55 L486.75,332.45 L487.75,333.35 L488.75,334.25 L489.76,335.15 L490.76,336.05 L491.77,336.95 L492.77,337.85 L493.77,338.75 L494.78,339.64 L495.78,340.54 L496.78,341.43 L497.79,342.32 L498.79,343.21 L499.8,344.09 L500.8,344.98 L501.8,345.86 L502.81,346.74 L503.81,347.61 L504.82,348.48 L505.82,349.35 L506.82,350.22 L507.83,351.07 L508.83,351.93 L509.83,352.78 L510.84,353.62 L511.84,354.45 L512.85,355.28 L513.85,356.11 L514.85,356.92 L515.86,357.73 L516.86,358.52 L517.87,359.31 L518.87,360.09 L519.87,360.85 L520.88,361.61 L521.88,362.35 L522.88,363.08 L523.89,363.8 L524.89,364.5 L525.9,365.18 L526.9,365.85 L527.9,366.51 L528.91,367.14 L529.91,367.76 L530.92,368.37 L531.92,368.95 L532.92,369.51 L533.93,370.06 L534.93,370.58 L535.93,371.09 L536.94,371.57 L537.94,372.03 L538.95,372.48 L539.95,372.9 L540.95,373.3 L541.96,373.69 L542.96,374.05 L543.97,374.4 L544.97,374.72 L545.97,375.03 L546.98,375.32 L547.98,375.59 L548.98,375.85 L549.99,376.09 L550.99,376.31 L552,376.52 L553,376.71 L554,376.9 L555.01,377.07 L556.01,377.22 L557.02,377.37 L558.02,377.51 L559.02,377.63 L560.03,377.75 L561.03,377.86 L562.03,377.96 L563.04,378.05 L564.04,378.13 L565.05,378.21 L566.05,378.28 L567.05,378.35 L568.06,378.41 L569.06,378.47 L570.07,378.52 L571.07,378.57 L572.07,378.61 L573.08,378.65 L574.08,378.69 L575.08,378.72 L576.09,378.76 L577.09,378.78 L578.1,378.81 L579.1,378.84 L580.1,378.86 L581.11,378.88 L582.11,378.9 L583.12,378.91 L584.12,378.93 L585.12,378.94 L586.13,378.96 L587.13,378.97 L588.13,378.98 L589.14,378.99 L590.14,379 L591.15,379.01 L592.15,379.02 L593.15,379.02 L594.16,379.03 L595.16,379.04 L596.17,379.04 L597.17,379.05 L598.17,379.05 L599.18,379.05 L600.18,379.06 L601.18,379.06 L602.19,379.07 L603.19,379.07 L604.2,379.07 L605.2,379.07 L606.2,379.08 L607.21,379.08 L608.21,379.08 L609.22,379.08 L610.22,379.08 L611.22,379.08 L612.23,379.09 L613.23,379.09 L614.23,379.09 L615.24,379.09 L616.24,379.09 L617.25,379.09 L618.25,379.09 L619.25,379.09 L620.26,379.09 L621.26,379.09 L622.27,379.09 L623.27,379.09 L624.27,379.1 L625.28,379.1 L626.28,379.1 L627.28,379.1 L628.29,379.1 L629.29,379.1 L630.3,379.1 L631.3,379.1 L632.3,379.1 L633.31,379.1 L634.31,379.1 L635.32,379.1 L636.32,379.1 L637.32,379.1 L638.33,379.1 L639.33,379.1 L640.33,379.1 L641.34,379.1 L642.34,379.1 L643.35,379.1 L644.35,379.1 L645.35,379.1 L646.36,379.1 L647.36,379.1 L648.37,379.1 L649.37,379.1 L650.37,379.1 L651.38,379.1 L652.38,379.1 L653.38,379.1 L654.39,379.1 L655.39,379.1 L656.4,379.1 L657.4,379.1 L658.4,379.1 L659.41,379.1 L660.41,379.1 L661.42,379.1 L662.42,379.1 L663.42,379.1 L664.43,379.1 L665.43,379.1 L666.43,379.1 L667.44,379.1 L668.44,379.1 L669.45,379.1 L670.45,379.1 L671.45,379.1 L672.46,379.1 L673.46,379.1 L674.47,379.1 L675.47,379.1 L676.47,379.1 L677.48,379.1 L678.48,379.1 L679.48,379.1 L680.49,379.1 L681.49,379.1 L682.5,379.1 L683.5,379.1" stroke="#c81e94" stroke-width="1.5" fill="none"/></g>
<g clip-path="url(#clip2e)"><path d="M422.5,422.95 L423.5,422.97 L424.51,422.99 L425.51,423.01 L426.52,423.03 L427.52,423.06 L428.52,423.08 L429.53,423.11 L430.53,423.13 L431.53,423.16 L432.54,423.19 L433.54,423.23 L434.55,423.26 L435.55,423.29 L436.55,423.33 L437.56,423.37 L438.56,423.4 L439.57,423.45 L440.57,423.49 L441.57,423.53 L442.58,423.58 L443.58,423.63 L444.58,423.68 L445.59,423.73 L446.59,423.79 L447.6,423.85 L448.6,423.91 L449.6,423.97 L450.61,424.04 L451.61,424.11 L452.62,424.18 L453.62,424.26 L454.62,424.34 L455.63,424.42 L456.63,424.51 L457.63,424.6 L458.64,424.69 L459.64,424.79 L460.65,424.9 L461.65,425 L462.65,425.12 L463.66,425.24 L464.66,425.36 L465.67,425.49 L466.67,425.62 L467.67,425.77 L468.68,425.91 L469.68,426.07 L470.68,426.23 L471.69,426.4 L472.69,426.57 L473.7,426.76 L474.7,426.95 L475.7,427.15 L476.71,427.36 L477.71,427.58 L478.72,427.81 L479.72,428.05 L480.72,428.3 L481.73,428.56 L482.73,428.83 L483.73,429.12 L484.74,429.42 L485.74,429.73 L486.75,430.05 L487.75,430.39 L488.75,430.74 L489.76,431.11 L490.76,431.5 L491.77,431.9 L492.77,432.32 L493.77,432.76 L494.78,433.22 L495.78,433.7 L496.78,434.19 L497.79,434.71 L498.79,435.25 L499.8,435.82 L500.8,436.41 L501.8,437.02 L502.81,437.66 L503.81,438.32 L504.82,439.01 L505.82,439.73 L506.82,440.48 L507.83,441.25 L508.83,442.06 L509.83,442.9 L510.84,443.77 L511.84,444.67 L512.85,445.61 L513.85,446.57 L514.85,447.58 L515.86,448.61 L516.86,449.68 L517.87,450.79 L518.87,451.93 L519.87,453.1 L520.88,454.31 L521.88,455.55 L522.88,456.83 L523.89,458.13 L524.89,459.47 L525.9,460.84 L526.9,462.23 L527.9,463.65 L528.91,465.1 L529.91,466.57 L530.92,468.06 L531.92,469.57 L532.92,471.09 L533.93,472.62 L534.93,474.17 L535.93,475.72 L536.94,477.27 L537.94,478.83 L538.95,480.38 L539.95,481.92 L540.95,483.46 L541.96,484.98 L542.96,486.49 L543.97,487.98 L544.97,489.45 L545.97,490.9 L546.98,492.32 L547.98,493.71 L548.98,495.07 L549.99,496.4 L550.99,497.7 L552,498.97 L553,500.2 L554,501.39 L555.01,502.55 L556.01,503.66 L557.02,504.74 L558.02,505.78 L559.02,506.79 L560.03,507.75 L561.03,508.68 L562.03,509.57 L563.04,510.42 L564.04,511.23 L565.05,512 L566.05,512.74 L567.05,513.44 L568.06,514.11 L569.06,514.74 L570.07,515.34 L571.07,515.9 L572.07,516.43 L573.08,516.93 L574.08,517.39 L575.08,517.82 L576.09,518.23 L577.09,518.6 L578.1,518.94 L579.1,519.25 L580.1,519.53 L581.11,519.78 L582.11,520 L583.12,520.2 L584.12,520.37 L585.12,520.51 L586.13,520.62 L587.13,520.7 L588.13,520.76 L589.14,520.79 L590.14,520.79 L591.15,520.77 L592.15,520.72 L593.15,520.64 L594.16,520.53 L595.16,520.4 L596.17,520.24 L597.17,520.05 L598.17,519.83 L599.18,519.58 L600.18,519.31 L601.18,519 L602.19,518.67 L603.19,518.31 L604.2,517.91 L605.2,517.49 L606.2,517.03 L607.21,516.54 L608.21,516.02 L609.22,515.46 L610.22,514.87 L611.22,514.25 L612.23,513.59 L613.23,512.9 L614.23,512.16 L615.24,511.4 L616.24,510.59 L617.25,509.75 L618.25,508.87 L619.25,507.95 L620.26,507 L621.26,506 L622.27,504.97 L623.27,503.9 L624.27,502.79 L625.28,501.64 L626.28,500.45 L627.28,499.23 L628.29,497.98 L629.29,496.68 L630.3,495.36 L631.3,494 L632.3,492.62 L633.31,491.2 L634.31,489.76 L635.32,488.3 L636.32,486.81 L637.32,485.31 L638.33,483.79 L639.33,482.25 L640.33,480.71 L641.34,479.16 L642.34,477.6 L643.35,476.05 L644.35,474.5 L645.35,472.95 L646.36,471.42 L647.36,469.89 L648.37,468.38 L649.37,466.89 L650.37,465.41 L651.38,463.96 L652.38,462.53 L653.38,461.13 L654.39,459.76 L655.39,458.42 L656.4,457.1 L657.4,455.82 L658.4,454.57 L659.41,453.36 L660.41,452.18 L661.42,451.03 L662.42,449.92 L663.42,448.84 L664.43,447.8 L665.43,446.79 L666.43,445.81 L667.44,444.87 L668.44,443.96 L669.45,443.08 L670.45,442.24 L671.45,441.42 L672.46,440.64 L673.46,439.89 L674.47,439.16 L675.47,438.47 L676.47,437.8 L677.48,437.15 L678.48,436.54 L679.48,435.94 L680.49,435.37 L681.49,434.83 L682.5,434.3 L683.5,433.8" stroke="#d92626" stroke-width="1.5" fill="none"/>
<path d="M422.5,423.24 L423.5,423.28 L424.51,423.31 L425.51,423.35 L426.52,423.39 L427.52,423.43 L428.52,423.47 L429.53,423.51 L430.53,423.56 L431.53,423.61 L432.54,423.66 L433.54,423.71 L434.55,423.76 L435.55,423.82 L436.55,423.88 L437.56,423.94 L438.56,424.01 L439.57,424.08 L440.57,424.15 L441.57,424.22 L442.58,424.3 L443.58,424.38 L444.58,424.47 L445.59,424.56 L446.59,424.65 L447.6,424.75 L448.6,424.85 L449.6,424.96 L450.61,425.07 L451.61,425.18 L452.62,425.3 L453.62,425.43 L454.62,425.56 L455.63,425.7 L456.63,425.85 L457.63,426 L458.64,426.16 L459.64,426.32 L460.65,426.49 L461.65,426.67 L462.65,426.86 L463.66,427.06 L464.66,427.27 L465.67,427.48 L466.67,427.71 L467.67,427.94 L468.68,428.19 L469.68,428.44 L470.68,428.71 L471.69,428.99 L472.69,429.28 L473.7,429.59 L474.7,429.9 L475.7,430.24 L476.71,430.58 L477.71,430.95 L478.72,431.33 L479.72,431.72 L480.72,432.13 L481.73,432.56 L482.73,433.01 L483.73,433.48 L484.74,433.97 L485.74,434.48 L486.75,435.01 L487.75,435.56 L488.75,436.14 L489.76,436.74 L490.76,437.37 L491.77,438.02 L492.77,438.7 L493.77,439.41 L494.78,440.14 L495.78,440.91 L496.78,441.7 L497.79,442.52 L498.79,443.38 L499.8,444.27 L500.8,445.19 L501.8,446.14 L502.81,447.13 L503.81,448.15 L504.82,449.2 L505.82,450.29 L506.82,451.42 L507.83,452.58 L508.83,453.77 L509.83,455 L510.84,456.26 L511.84,457.55 L512.85,458.87 L513.85,460.23 L514.85,461.61 L515.86,463.02 L516.86,464.45 L517.87,465.91 L518.87,467.39 L519.87,468.89 L520.88,470.41 L521.88,471.94 L522.88,473.48 L523.89,475.03 L524.89,476.58 L525.9,478.14 L526.9,479.69 L527.9,481.24 L528.91,482.78 L529.91,484.31 L530.92,485.82 L531.92,487.32 L532.92,488.8 L533.93,490.26 L534.93,491.69 L535.93,493.09 L536.94,494.47 L537.94,495.82 L538.95,497.13 L539.95,498.41 L540.95,499.65 L541.96,500.86 L542.96,502.04 L543.97,503.17 L544.97,504.27 L545.97,505.33 L546.98,506.35 L547.98,507.33 L548.98,508.27 L549.99,509.18 L550.99,510.04 L552,510.87 L553,511.66 L554,512.42 L555.01,513.14 L556.01,513.82 L557.02,514.47 L558.02,515.08 L559.02,515.66 L560.03,516.2 L561.03,516.71 L562.03,517.19 L563.04,517.64 L564.04,518.05 L565.05,518.43 L566.05,518.79 L567.05,519.11 L568.06,519.41 L569.06,519.67 L570.07,519.91 L571.07,520.12 L572.07,520.29 L573.08,520.45 L574.08,520.57 L575.08,520.67 L576.09,520.74 L577.09,520.78 L578.1,520.79 L579.1,520.78 L580.1,520.74 L581.11,520.68 L582.11,520.58 L583.12,520.46 L584.12,520.31 L585.12,520.14 L586.13,519.93 L587.13,519.7 L588.13,519.43 L589.14,519.14 L590.14,518.82 L591.15,518.47 L592.15,518.09 L593.15,517.68 L594.16,517.24 L595.16,516.76 L596.17,516.25 L597.17,515.71 L598.17,515.14 L599.18,514.53 L600.18,513.89 L601.18,513.21 L602.19,512.49 L603.19,511.74 L604.2,510.96 L605.2,510.13 L606.2,509.27 L607.21,508.37 L608.21,507.43 L609.22,506.45 L610.22,505.43 L611.22,504.38 L612.23,503.29 L613.23,502.15 L614.23,500.99 L615.24,499.78 L616.24,498.54 L617.25,497.26 L618.25,495.95 L619.25,494.61 L620.26,493.24 L621.26,491.83 L622.27,490.4 L623.27,488.95 L624.27,487.47 L625.28,485.98 L626.28,484.46 L627.28,482.93 L628.29,481.4 L629.29,479.85 L630.3,478.3 L631.3,476.74 L632.3,475.19 L633.31,473.64 L634.31,472.1 L635.32,470.57 L636.32,469.05 L637.32,467.55 L638.33,466.07 L639.33,464.6 L640.33,463.17 L641.34,461.75 L642.34,460.37 L643.35,459.01 L644.35,457.68 L645.35,456.39 L646.36,455.12 L647.36,453.89 L648.37,452.7 L649.37,451.53 L650.37,450.41 L651.38,449.31 L652.38,448.25 L653.38,447.23 L654.39,446.24 L655.39,445.28 L656.4,444.36 L657.4,443.47 L658.4,442.61 L659.41,441.78 L660.41,440.99 L661.42,440.22 L662.42,439.48 L663.42,438.77 L664.43,438.09 L665.43,437.44 L666.43,436.81 L667.44,436.2 L668.44,435.62 L669.45,435.07 L670.45,434.53 L671.45,434.02 L672.46,433.53 L673.46,433.06 L674.47,432.61 L675.47,432.18 L676.47,431.76 L677.48,431.37 L678.48,430.99 L679.48,430.62 L680.49,430.27 L681.49,429.94 L682.5,429.62 L683.5,429.31" stroke="#f19c38" stroke-width="1.5" fill="none"/>
<path d="M422.5,423.74 L423.5,423.8 L424.51,423.85 L425.51,423.92 L426.52,423.98 L427.52,424.05 L428.52,424.12 L429.53,424.19 L430.53,424.27 L431.53,424.35 L432.54,424.43 L433.54,424.52 L434.55,424.61 L435.55,424.7 L436.55,424.8 L437.56,424.91 L438.56,425.02 L439.57,425.13 L440.57,425.25 L441.57,425.37 L442.58,425.5 L443.58,425.64 L444.58,425.78 L445.59,425.93 L446.59,426.09 L447.6,426.25 L448.6,426.42 L449.6,426.59 L450.61,426.78 L451.61,426.97 L452.62,427.17 L453.62,427.38 L454.62,427.6 L455.63,427.83 L456.63,428.08 L457.63,428.33 L458.64,428.59 L459.64,428.86 L460.65,429.15 L461.65,429.45 L462.65,429.76 L463.66,430.09 L464.66,430.43 L465.67,430.78 L466.67,431.16 L467.67,431.54 L468.68,431.95 L469.68,432.37 L470.68,432.81 L471.69,433.27 L472.69,433.75 L473.7,434.25 L474.7,434.77 L475.7,435.32 L476.71,435.88 L477.71,436.47 L478.72,437.09 L479.72,437.73 L480.72,438.4 L481.73,439.09 L482.73,439.81 L483.73,440.56 L484.74,441.34 L485.74,442.15 L486.75,442.99 L487.75,443.87 L488.75,444.77 L489.76,445.71 L490.76,446.68 L491.77,447.69 L492.77,448.73 L493.77,449.8 L494.78,450.91 L495.78,452.06 L496.78,453.23 L497.79,454.45 L498.79,455.69 L499.8,456.97 L500.8,458.28 L501.8,459.62 L502.81,460.99 L503.81,462.39 L504.82,463.81 L505.82,465.26 L506.82,466.73 L507.83,468.23 L508.83,469.73 L509.83,471.26 L510.84,472.79 L511.84,474.34 L512.85,475.89 L513.85,477.44 L514.85,479 L515.86,480.55 L516.86,482.09 L517.87,483.63 L518.87,485.15 L519.87,486.66 L520.88,488.14 L521.88,489.61 L522.88,491.05 L523.89,492.47 L524.89,493.86 L525.9,495.22 L526.9,496.55 L527.9,497.84 L528.91,499.11 L529.91,500.33 L530.92,501.52 L531.92,502.67 L532.92,503.79 L533.93,504.86 L534.93,505.9 L535.93,506.9 L536.94,507.86 L537.94,508.78 L538.95,509.66 L539.95,510.51 L540.95,511.32 L541.96,512.09 L542.96,512.82 L543.97,513.52 L544.97,514.18 L545.97,514.81 L546.98,515.4 L547.98,515.96 L548.98,516.49 L549.99,516.98 L550.99,517.44 L552,517.87 L553,518.27 L554,518.64 L555.01,518.97 L556.01,519.28 L557.02,519.56 L558.02,519.81 L559.02,520.03 L560.03,520.22 L561.03,520.38 L562.03,520.52 L563.04,520.63 L564.04,520.71 L565.05,520.76 L566.05,520.79 L567.05,520.79 L568.06,520.76 L569.06,520.71 L570.07,520.63 L571.07,520.52 L572.07,520.38 L573.08,520.22 L574.08,520.02 L575.08,519.8 L576.09,519.55 L577.09,519.28 L578.1,518.97 L579.1,518.63 L580.1,518.26 L581.11,517.87 L582.11,517.44 L583.12,516.98 L584.12,516.48 L585.12,515.96 L586.13,515.4 L587.13,514.81 L588.13,514.18 L589.14,513.51 L590.14,512.82 L591.15,512.08 L592.15,511.31 L593.15,510.5 L594.16,509.66 L595.16,508.77 L596.17,507.85 L597.17,506.89 L598.17,505.89 L599.18,504.85 L600.18,503.78 L601.18,502.66 L602.19,501.51 L603.19,500.32 L604.2,499.1 L605.2,497.83 L606.2,496.54 L607.21,495.21 L608.21,493.85 L609.22,492.46 L610.22,491.04 L611.22,489.6 L612.23,488.13 L613.23,486.64 L614.23,485.14 L615.24,483.62 L616.24,482.08 L617.25,480.54 L618.25,478.99 L619.25,477.43 L620.26,475.88 L621.26,474.33 L622.27,472.78 L623.27,471.25 L624.27,469.72 L625.28,468.21 L626.28,466.72 L627.28,465.25 L628.29,463.8 L629.29,462.38 L630.3,460.98 L631.3,459.61 L632.3,458.27 L633.31,456.96 L634.31,455.68 L635.32,454.44 L636.32,453.22 L637.32,452.05 L638.33,450.9 L639.33,449.8 L640.33,448.72 L641.34,447.68 L642.34,446.68 L643.35,445.7 L644.35,444.77 L645.35,443.86 L646.36,442.99 L647.36,442.15 L648.37,441.34 L649.37,440.56 L650.37,439.81 L651.38,439.08 L652.38,438.39 L653.38,437.72 L654.39,437.08 L655.39,436.47 L656.4,435.88 L657.4,435.31 L658.4,434.77 L659.41,434.25 L660.41,433.75 L661.42,433.27 L662.42,432.81 L663.42,432.37 L664.43,431.94 L665.43,431.54 L666.43,431.15 L667.44,430.78 L668.44,430.43 L669.45,430.09 L670.45,429.76 L671.45,429.45 L672.46,429.15 L673.46,428.86 L674.47,428.59 L675.47,428.32 L676.47,428.07 L677.48,427.83 L678.48,427.6 L679.48,427.38 L680.49,427.17 L681.49,426.97 L682.5,426.78 L683.5,426.59" stroke="#c6e53a" stroke-width="1.5" fill="none"/>
<path d="M422.5,424.57 L423.5,424.66 L424.51,424.76 L425.51,424.86 L426.52,424.97 L427.52,425.08 L428.52,425.2 L429.53,425.32 L430.53,425.45 L431.53,425.58 L432.54,425.72 L433.54,425.86 L434.55,426.02 L435.55,426.17 L436.55,426.34 L437.56,426.51 L438.56,426.7 L439.57,426.88 L440.57,427.08 L441.57,427.29 L442.58,427.51 L443.58,427.73 L444.58,427.97 L445.59,428.21 L446.59,428.47 L447.6,428.74 L448.6,429.02 L449.6,429.31 L450.61,429.62 L451.61,429.94 L452.62,430.28 L453.62,430.62 L454.62,430.99 L455.63,431.37 L456.63,431.77 L457.63,432.18 L458.64,432.61 L459.64,433.06 L460.65,433.53 L461.65,434.03 L462.65,434.54 L463.66,435.07 L464.66,435.63 L465.67,436.21 L466.67,436.81 L467.67,437.44 L468.68,438.1 L469.68,438.78 L470.68,439.49 L471.69,440.23 L472.69,440.99 L473.7,441.79 L474.7,442.62 L475.7,443.48 L476.71,444.37 L477.71,445.29 L478.72,446.25 L479.72,447.24 L480.72,448.26 L481.73,449.32 L482.73,450.42 L483.73,451.54 L484.74,452.71 L485.74,453.9 L486.75,455.13 L487.75,456.4 L488.75,457.69 L489.76,459.02 L490.76,460.38 L491.77,461.76 L492.77,463.18 L493.77,464.62 L494.78,466.08 L495.78,467.56 L496.78,469.06 L497.79,470.58 L498.79,472.11 L499.8,473.65 L500.8,475.2 L501.8,476.75 L502.81,478.31 L503.81,479.86 L504.82,481.41 L505.82,482.95 L506.82,484.48 L507.83,485.99 L508.83,487.49 L509.83,488.96 L510.84,490.42 L511.84,491.85 L512.85,493.25 L513.85,494.62 L514.85,495.96 L515.86,497.27 L516.86,498.55 L517.87,499.79 L518.87,501 L519.87,502.16 L520.88,503.29 L521.88,504.39 L522.88,505.44 L523.89,506.46 L524.89,507.44 L525.9,508.37 L526.9,509.27 L527.9,510.14 L528.91,510.96 L529.91,511.75 L530.92,512.5 L531.92,513.21 L532.92,513.89 L533.93,514.54 L534.93,515.14 L535.93,515.72 L536.94,516.26 L537.94,516.77 L538.95,517.24 L539.95,517.68 L540.95,518.09 L541.96,518.48 L542.96,518.83 L543.97,519.15 L544.97,519.44 L545.97,519.7 L546.98,519.93 L547.98,520.14 L548.98,520.31 L549.99,520.46 L550.99,520.58 L552,520.68 L553,520.74 L554,520.78 L555.01,520.79 L556.01,520.78 L557.02,520.74 L558.02,520.67 L559.02,520.57 L560.03,520.45 L561.03,520.29 L562.03,520.11 L563.04,519.91 L564.04,519.67 L565.05,519.4 L566.05,519.11 L567.05,518.79 L568.06,518.43 L569.06,518.05 L570.07,517.63 L571.07,517.19 L572.07,516.71 L573.08,516.2 L574.08,515.65 L575.08,515.07 L576.09,514.46 L577.09,513.81 L578.1,513.13 L579.1,512.41 L580.1,511.66 L581.11,510.87 L582.11,510.04 L583.12,509.17 L584.12,508.26 L585.12,507.32 L586.13,506.34 L587.13,505.32 L588.13,504.26 L589.14,503.16 L590.14,502.03 L591.15,500.85 L592.15,499.64 L593.15,498.4 L594.16,497.12 L595.16,495.81 L596.17,494.46 L597.17,493.08 L598.17,491.68 L599.18,490.24 L600.18,488.79 L601.18,487.31 L602.19,485.81 L603.19,484.29 L604.2,482.76 L605.2,481.22 L606.2,479.68 L607.21,478.12 L608.21,476.57 L609.22,475.02 L610.22,473.47 L611.22,471.93 L612.23,470.4 L613.23,468.88 L614.23,467.38 L615.24,465.9 L616.24,464.44 L617.25,463.01 L618.25,461.6 L619.25,460.21 L620.26,458.86 L621.26,457.54 L622.27,456.24 L623.27,454.99 L624.27,453.76 L625.28,452.57 L626.28,451.41 L627.28,450.28 L628.29,449.19 L629.29,448.14 L630.3,447.12 L631.3,446.13 L632.3,445.18 L633.31,444.26 L634.31,443.37 L635.32,442.52 L636.32,441.69 L637.32,440.9 L638.33,440.14 L639.33,439.4 L640.33,438.7 L641.34,438.02 L642.34,437.36 L643.35,436.74 L644.35,436.14 L645.35,435.56 L646.36,435.01 L647.36,434.48 L648.37,433.97 L649.37,433.48 L650.37,433.01 L651.38,432.56 L652.38,432.13 L653.38,431.72 L654.39,431.32 L655.39,430.94 L656.4,430.58 L657.4,430.23 L658.4,429.9 L659.41,429.58 L660.41,429.28 L661.42,428.99 L662.42,428.71 L663.42,428.44 L664.43,428.18 L665.43,427.94 L666.43,427.7 L667.44,427.48 L668.44,427.26 L669.45,427.06 L670.45,426.86 L671.45,426.67 L672.46,426.49 L673.46,426.32 L674.47,426.15 L675.47,426 L676.47,425.85 L677.48,425.7 L678.48,425.56 L679.48,425.43 L680.49,425.3 L681.49,425.18 L682.5,425.07 L683.5,424.95" stroke="#4cd23e" stroke-width="1.5" fill="none"/>
<path d="M422.5,425.95 L423.5,426.1 L424.51,426.27 L425.51,426.44 L426.52,426.61 L427.52,426.8 L428.52,426.99 L429.53,427.2 L430.53,427.41 L431.53,427.63 L432.54,427.86 L433.54,428.1 L434.55,428.36 L435.55,428.62 L436.55,428.89 L437.56,429.18 L438.56,429.48 L439.57,429.8 L440.57,430.12 L441.57,430.47 L442.58,430.82 L443.58,431.2 L444.58,431.59 L445.59,431.99 L446.59,432.42 L447.6,432.86 L448.6,433.32 L449.6,433.81 L450.61,434.31 L451.61,434.83 L452.62,435.38 L453.62,435.95 L454.62,436.54 L455.63,437.16 L456.63,437.8 L457.63,438.47 L458.64,439.17 L459.64,439.89 L460.65,440.65 L461.65,441.43 L462.65,442.24 L463.66,443.09 L464.66,443.97 L465.67,444.88 L466.67,445.82 L467.67,446.79 L468.68,447.8 L469.68,448.85 L470.68,449.93 L471.69,451.04 L472.69,452.19 L473.7,453.37 L474.7,454.58 L475.7,455.83 L476.71,457.11 L477.71,458.43 L478.72,459.77 L479.72,461.14 L480.72,462.55 L481.73,463.97 L482.73,465.42 L483.73,466.9 L484.74,468.39 L485.74,469.9 L486.75,471.43 L487.75,472.97 L488.75,474.51 L489.76,476.06 L490.76,477.62 L491.77,479.17 L492.77,480.72 L493.77,482.26 L494.78,483.8 L495.78,485.32 L496.78,486.82 L497.79,488.31 L498.79,489.77 L499.8,491.21 L500.8,492.63 L501.8,494.01 L502.81,495.37 L503.81,496.7 L504.82,497.99 L505.82,499.24 L506.82,500.46 L507.83,501.65 L508.83,502.8 L509.83,503.91 L510.84,504.98 L511.84,506.01 L512.85,507.01 L513.85,507.96 L514.85,508.88 L515.86,509.76 L516.86,510.6 L517.87,511.4 L518.87,512.17 L519.87,512.9 L520.88,513.6 L521.88,514.25 L522.88,514.88 L523.89,515.47 L524.89,516.02 L525.9,516.54 L526.9,517.03 L527.9,517.49 L528.91,517.92 L529.91,518.31 L530.92,518.67 L531.92,519.01 L532.92,519.31 L533.93,519.59 L534.93,519.83 L535.93,520.05 L536.94,520.24 L537.94,520.4 L538.95,520.53 L539.95,520.64 L540.95,520.72 L541.96,520.77 L542.96,520.79 L543.97,520.79 L544.97,520.76 L545.97,520.7 L546.98,520.62 L547.98,520.5 L548.98,520.36 L549.99,520.2 L550.99,520 L552,519.78 L553,519.53 L554,519.24 L555.01,518.93 L556.01,518.59 L557.02,518.22 L558.02,517.82 L559.02,517.39 L560.03,516.92 L561.03,516.43 L562.03,515.9 L563.04,515.33 L564.04,514.74 L565.05,514.11 L566.05,513.44 L567.05,512.74 L568.06,512 L569.06,511.22 L570.07,510.41 L571.07,509.56 L572.07,508.67 L573.08,507.74 L574.08,506.78 L575.08,505.78 L576.09,504.73 L577.09,503.65 L578.1,502.54 L579.1,501.38 L580.1,500.19 L581.11,498.96 L582.11,497.69 L583.12,496.39 L584.12,495.06 L585.12,493.7 L586.13,492.3 L587.13,490.88 L588.13,489.44 L589.14,487.97 L590.14,486.48 L591.15,484.97 L592.15,483.45 L593.15,481.91 L594.16,480.36 L595.16,478.81 L596.17,477.26 L597.17,475.71 L598.17,474.15 L599.18,472.61 L600.18,471.08 L601.18,469.55 L602.19,468.05 L603.19,466.56 L604.2,465.09 L605.2,463.64 L606.2,462.22 L607.21,460.83 L608.21,459.46 L609.22,458.12 L610.22,456.82 L611.22,455.54 L612.23,454.3 L613.23,453.09 L614.23,451.92 L615.24,450.78 L616.24,449.67 L617.25,448.6 L618.25,447.57 L619.25,446.57 L620.26,445.6 L621.26,444.66 L622.27,443.76 L623.27,442.89 L624.27,442.05 L625.28,441.25 L626.28,440.47 L627.28,439.72 L628.29,439.01 L629.29,438.31 L630.3,437.65 L631.3,437.01 L632.3,436.4 L633.31,435.81 L634.31,435.25 L635.32,434.71 L636.32,434.19 L637.32,433.69 L638.33,433.21 L639.33,432.76 L640.33,432.32 L641.34,431.9 L642.34,431.5 L643.35,431.11 L644.35,430.74 L645.35,430.39 L646.36,430.05 L647.36,429.72 L648.37,429.41 L649.37,429.12 L650.37,428.83 L651.38,428.56 L652.38,428.3 L653.38,428.05 L654.39,427.81 L655.39,427.58 L656.4,427.36 L657.4,427.15 L658.4,426.95 L659.41,426.76 L660.41,426.57 L661.42,426.4 L662.42,426.23 L663.42,426.07 L664.43,425.91 L665.43,425.76 L666.43,425.62 L667.44,425.49 L668.44,425.36 L669.45,425.24 L670.45,425.12 L671.45,425 L672.46,424.9 L673.46,424.79 L674.47,424.69 L675.47,424.6 L676.47,424.51 L677.48,424.42 L678.48,424.34 L679.48,424.26 L680.49,424.18 L681.49,424.11 L682.5,424.04 L683.5,423.97" stroke="#2ecb8c" stroke-width="1.5" fill="none"/>
<path d="M422.5,428.24 L423.5,428.5 L424.51,428.77 L425.51,429.05 L426.52,429.35 L427.52,429.66 L428.52,429.98 L429.53,430.31 L430.53,430.66 L431.53,431.03 L432.54,431.41 L433.54,431.81 L434.55,432.23 L435.55,432.66 L436.55,433.12 L437.56,433.59 L438.56,434.08 L439.57,434.6 L440.57,435.13 L441.57,435.69 L442.58,436.27 L443.58,436.88 L444.58,437.51 L445.59,438.17 L446.59,438.86 L447.6,439.57 L448.6,440.31 L449.6,441.08 L450.61,441.88 L451.61,442.71 L452.62,443.57 L453.62,444.47 L454.62,445.4 L455.63,446.36 L456.63,447.35 L457.63,448.38 L458.64,449.44 L459.64,450.54 L460.65,451.67 L461.65,452.84 L462.65,454.04 L463.66,455.27 L464.66,456.54 L465.67,457.84 L466.67,459.17 L467.67,460.53 L468.68,461.92 L469.68,463.34 L470.68,464.78 L471.69,466.24 L472.69,467.73 L473.7,469.23 L474.7,470.75 L475.7,472.28 L476.71,473.82 L477.71,475.37 L478.72,476.93 L479.72,478.48 L480.72,480.03 L481.73,481.58 L482.73,483.12 L483.73,484.64 L484.74,486.16 L485.74,487.65 L486.75,489.12 L487.75,490.58 L488.75,492 L489.76,493.4 L490.76,494.77 L491.77,496.11 L492.77,497.42 L493.77,498.69 L494.78,499.93 L495.78,501.13 L496.78,502.29 L497.79,503.42 L498.79,504.51 L499.8,505.56 L500.8,506.57 L501.8,507.54 L502.81,508.48 L503.81,509.37 L504.82,510.23 L505.82,511.05 L506.82,511.83 L507.83,512.58 L508.83,513.29 L509.83,513.97 L510.84,514.6 L511.84,515.21 L512.85,515.78 L513.85,516.32 L514.85,516.82 L515.86,517.29 L516.86,517.73 L517.87,518.14 L518.87,518.52 L519.87,518.86 L520.88,519.18 L521.88,519.47 L522.88,519.73 L523.89,519.96 L524.89,520.16 L525.9,520.33 L526.9,520.48 L527.9,520.59 L528.91,520.69 L529.91,520.75 L530.92,520.78 L531.92,520.79 L532.92,520.78 L533.93,520.73 L534.93,520.66 L535.93,520.56 L536.94,520.43 L537.94,520.27 L538.95,520.09 L539.95,519.88 L540.95,519.64 L541.96,519.37 L542.96,519.08 L543.97,518.75 L544.97,518.39 L545.97,518 L546.98,517.58 L547.98,517.13 L548.98,516.65 L549.99,516.14 L550.99,515.59 L552,515.01 L553,514.39 L554,513.74 L555.01,513.05 L556.01,512.33 L557.02,511.57 L558.02,510.78 L559.02,509.94 L560.03,509.07 L561.03,508.16 L562.03,507.21 L563.04,506.23 L564.04,505.2 L565.05,504.14 L566.05,503.04 L567.05,501.9 L568.06,500.72 L569.06,499.51 L570.07,498.26 L571.07,496.97 L572.07,495.66 L573.08,494.31 L574.08,492.93 L575.08,491.52 L576.09,490.08 L577.09,488.62 L578.1,487.14 L579.1,485.64 L580.1,484.12 L581.11,482.59 L582.11,481.05 L583.12,479.5 L584.12,477.95 L585.12,476.4 L586.13,474.84 L587.13,473.3 L588.13,471.76 L589.14,470.23 L590.14,468.71 L591.15,467.22 L592.15,465.74 L593.15,464.28 L594.16,462.85 L595.16,461.44 L596.17,460.06 L597.17,458.71 L598.17,457.39 L599.18,456.1 L600.18,454.85 L601.18,453.62 L602.19,452.44 L603.19,451.28 L604.2,450.16 L605.2,449.08 L606.2,448.02 L607.21,447.01 L608.21,446.02 L609.22,445.07 L610.22,444.16 L611.22,443.27 L612.23,442.42 L613.23,441.6 L614.23,440.81 L615.24,440.05 L616.24,439.32 L617.25,438.62 L618.25,437.94 L619.25,437.29 L620.26,436.67 L621.26,436.07 L622.27,435.5 L623.27,434.95 L624.27,434.42 L625.28,433.91 L626.28,433.42 L627.28,432.96 L628.29,432.51 L629.29,432.08 L630.3,431.67 L631.3,431.28 L632.3,430.9 L633.31,430.54 L634.31,430.2 L635.32,429.87 L636.32,429.55 L637.32,429.25 L638.33,428.96 L639.33,428.68 L640.33,428.41 L641.34,428.16 L642.34,427.91 L643.35,427.68 L644.35,427.45 L645.35,427.24 L646.36,427.04 L647.36,426.84 L648.37,426.65 L649.37,426.47 L650.37,426.3 L651.38,426.14 L652.38,425.98 L653.38,425.83 L654.39,425.69 L655.39,425.55 L656.4,425.42 L657.4,425.29 L658.4,425.17 L659.41,425.05 L660.41,424.94 L661.42,424.84 L662.42,424.74 L663.42,424.64 L664.43,424.55 L665.43,424.46 L666.43,424.37 L667.44,424.29 L668.44,424.21 L669.45,424.14 L670.45,424.07 L671.45,424 L672.46,423.94 L673.46,423.87 L674.47,423.81 L675.47,423.76 L676.47,423.7 L677.48,423.65 L678.48,423.6 L679.48,423.55 L680.49,423.51 L681.49,423.46 L682.5,423.42 L683.5,423.38" stroke="#32d8e8" stroke-width="1.5" fill="none"/>
<path d="M422.5,432.04 L423.5,432.47 L424.51,432.91 L425.51,433.38 L426.52,433.86 L427.52,434.36 L428.52,434.89 L429.53,435.44 L430.53,436.01 L431.53,436.61 L432.54,437.23 L433.54,437.87 L434.55,438.55 L435.55,439.25 L436.55,439.98 L437.56,440.73 L438.56,441.52 L439.57,442.34 L440.57,443.19 L441.57,444.07 L442.58,444.98 L443.58,445.93 L444.58,446.9 L445.59,447.92 L446.59,448.97 L447.6,450.05 L448.6,451.16 L449.6,452.32 L450.61,453.5 L451.61,454.72 L452.62,455.97 L453.62,457.26 L454.62,458.57 L455.63,459.92 L456.63,461.3 L457.63,462.7 L458.64,464.13 L459.64,465.59 L460.65,467.06 L461.65,468.56 L462.65,470.07 L463.66,471.6 L464.66,473.14 L465.67,474.68 L466.67,476.24 L467.67,477.79 L468.68,479.34 L469.68,480.89 L470.68,482.44 L471.69,483.97 L472.69,485.49 L473.7,486.99 L474.7,488.47 L475.7,489.93 L476.71,491.37 L477.71,492.78 L478.72,494.17 L479.72,495.52 L480.72,496.84 L481.73,498.13 L482.73,499.38 L483.73,500.6 L484.74,501.78 L485.74,502.92 L486.75,504.03 L487.75,505.09 L488.75,506.12 L489.76,507.11 L490.76,508.07 L491.77,508.98 L492.77,509.85 L493.77,510.69 L494.78,511.49 L495.78,512.25 L496.78,512.98 L497.79,513.67 L498.79,514.33 L499.8,514.94 L500.8,515.53 L501.8,516.08 L502.81,516.6 L503.81,517.09 L504.82,517.54 L505.82,517.96 L506.82,518.35 L507.83,518.71 L508.83,519.04 L509.83,519.34 L510.84,519.61 L511.84,519.86 L512.85,520.07 L513.85,520.26 L514.85,520.42 L515.86,520.55 L516.86,520.65 L517.87,520.72 L518.87,520.77 L519.87,520.79 L520.88,520.79 L521.88,520.75 L522.88,520.69 L523.89,520.61 L524.89,520.49 L525.9,520.35 L526.9,520.18 L527.9,519.98 L528.91,519.75 L529.91,519.5 L530.92,519.21 L531.92,518.9 L532.92,518.55 L533.93,518.18 L534.93,517.77 L535.93,517.34 L536.94,516.87 L537.94,516.37 L538.95,515.84 L539.95,515.27 L540.95,514.67 L541.96,514.03 L542.96,513.36 L543.97,512.66 L544.97,511.91 L545.97,511.13 L546.98,510.32 L547.98,509.46 L548.98,508.57 L549.99,507.64 L550.99,506.67 L552,505.66 L553,504.62 L554,503.53 L555.01,502.41 L556.01,501.25 L557.02,500.05 L558.02,498.82 L559.02,497.55 L560.03,496.25 L561.03,494.91 L562.03,493.54 L563.04,492.15 L564.04,490.72 L565.05,489.28 L566.05,487.8 L567.05,486.31 L568.06,484.8 L569.06,483.28 L570.07,481.74 L571.07,480.19 L572.07,478.64 L573.08,477.09 L574.08,475.53 L575.08,473.98 L576.09,472.44 L577.09,470.91 L578.1,469.39 L579.1,467.88 L580.1,466.39 L581.11,464.93 L582.11,463.48 L583.12,462.06 L584.12,460.67 L585.12,459.31 L586.13,457.97 L587.13,456.67 L588.13,455.4 L589.14,454.16 L590.14,452.96 L591.15,451.79 L592.15,450.65 L593.15,449.55 L594.16,448.49 L595.16,447.45 L596.17,446.46 L597.17,445.49 L598.17,444.56 L599.18,443.66 L600.18,442.8 L601.18,441.96 L602.19,441.16 L603.19,440.39 L604.2,439.64 L605.2,438.93 L606.2,438.24 L607.21,437.58 L608.21,436.94 L609.22,436.33 L610.22,435.75 L611.22,435.19 L612.23,434.65 L613.23,434.13 L614.23,433.64 L615.24,433.16 L616.24,432.71 L617.25,432.27 L618.25,431.85 L619.25,431.45 L620.26,431.07 L621.26,430.7 L622.27,430.35 L623.27,430.01 L624.27,429.69 L625.28,429.38 L626.28,429.08 L627.28,428.8 L628.29,428.53 L629.29,428.27 L630.3,428.02 L631.3,427.78 L632.3,427.55 L633.31,427.33 L634.31,427.13 L635.32,426.93 L636.32,426.73 L637.32,426.55 L638.33,426.38 L639.33,426.21 L640.33,426.05 L641.34,425.9 L642.34,425.75 L643.35,425.61 L644.35,425.47 L645.35,425.34 L646.36,425.22 L647.36,425.1 L648.37,424.99 L649.37,424.88 L650.37,424.78 L651.38,424.68 L652.38,424.59 L653.38,424.5 L654.39,424.41 L655.39,424.33 L656.4,424.25 L657.4,424.17 L658.4,424.1 L659.41,424.03 L660.41,423.96 L661.42,423.9 L662.42,423.84 L663.42,423.78 L664.43,423.73 L665.43,423.67 L666.43,423.62 L667.44,423.57 L668.44,423.53 L669.45,423.48 L670.45,423.44 L671.45,423.4 L672.46,423.36 L673.46,423.32 L674.47,423.29 L675.47,423.25 L676.47,423.22 L677.48,423.19 L678.48,423.16 L679.48,423.13 L680.49,423.1 L681.49,423.08 L682.5,423.05 L683.5,423.03" stroke="#1f5fcc" stroke-width="1.5" fill="none"/>
<path d="M422.5,438.25 L423.5,438.93 L424.51,439.65 L425.51,440.39 L426.52,441.17 L427.52,441.97 L428.52,442.8 L429.53,443.67 L430.53,444.57 L431.53,445.5 L432.54,446.46 L433.54,447.46 L434.55,448.5 L435.55,449.56 L436.55,450.66 L437.56,451.8 L438.56,452.97 L439.57,454.17 L440.57,455.41 L441.57,456.68 L442.58,457.99 L443.58,459.32 L444.58,460.68 L445.59,462.08 L446.59,463.49 L447.6,464.94 L448.6,466.41 L449.6,467.89 L450.61,469.4 L451.61,470.92 L452.62,472.45 L453.62,474 L454.62,475.55 L455.63,477.1 L456.63,478.65 L457.63,480.21 L458.64,481.75 L459.64,483.29 L460.65,484.81 L461.65,486.32 L462.65,487.82 L463.66,489.29 L464.66,490.74 L465.67,492.16 L466.67,493.56 L467.67,494.92 L468.68,496.26 L469.68,497.56 L470.68,498.83 L471.69,500.06 L472.69,501.26 L473.7,502.42 L474.7,503.54 L475.7,504.63 L476.71,505.67 L477.71,506.68 L478.72,507.65 L479.72,508.58 L480.72,509.47 L481.73,510.32 L482.73,511.14 L483.73,511.92 L484.74,512.66 L485.74,513.37 L486.75,514.04 L487.75,514.67 L488.75,515.27 L489.76,515.84 L490.76,516.37 L491.77,516.87 L492.77,517.34 L493.77,517.78 L494.78,518.18 L495.78,518.56 L496.78,518.9 L497.79,519.21 L498.79,519.5 L499.8,519.75 L500.8,519.98 L501.8,520.18 L502.81,520.35 L503.81,520.49 L504.82,520.61 L505.82,520.69 L506.82,520.75 L507.83,520.79 L508.83,520.79 L509.83,520.77 L510.84,520.72 L511.84,520.65 L512.85,520.54 L513.85,520.41 L514.85,520.26 L515.86,520.07 L516.86,519.86 L517.87,519.61 L518.87,519.34 L519.87,519.04 L520.88,518.71 L521.88,518.35 L522.88,517.96 L523.89,517.54 L524.89,517.08 L525.9,516.6 L526.9,516.08 L527.9,515.53 L528.91,514.94 L529.91,514.32 L530.92,513.66 L531.92,512.97 L532.92,512.25 L533.93,511.48 L534.93,510.68 L535.93,509.85 L536.94,508.97 L537.94,508.06 L538.95,507.11 L539.95,506.12 L540.95,505.09 L541.96,504.02 L542.96,502.91 L543.97,501.77 L544.97,500.59 L545.97,499.37 L546.98,498.12 L547.98,496.83 L548.98,495.51 L549.99,494.16 L550.99,492.77 L552,491.36 L553,489.92 L554,488.46 L555.01,486.98 L556.01,485.47 L557.02,483.95 L558.02,482.42 L559.02,480.88 L560.03,479.33 L561.03,477.78 L562.03,476.22 L563.04,474.67 L564.04,473.12 L565.05,471.59 L566.05,470.06 L567.05,468.55 L568.06,467.05 L569.06,465.58 L570.07,464.12 L571.07,462.69 L572.07,461.29 L573.08,459.91 L574.08,458.56 L575.08,457.25 L576.09,455.96 L577.09,454.71 L578.1,453.49 L579.1,452.31 L580.1,451.15 L581.11,450.04 L582.11,448.96 L583.12,447.91 L584.12,446.9 L585.12,445.92 L586.13,444.97 L587.13,444.06 L588.13,443.18 L589.14,442.33 L590.14,441.51 L591.15,440.73 L592.15,439.97 L593.15,439.24 L594.16,438.54 L595.16,437.87 L596.17,437.22 L597.17,436.6 L598.17,436.01 L599.18,435.44 L600.18,434.89 L601.18,434.36 L602.19,433.86 L603.19,433.37 L604.2,432.91 L605.2,432.46 L606.2,432.04 L607.21,431.63 L608.21,431.24 L609.22,430.86 L610.22,430.5 L611.22,430.16 L612.23,429.83 L613.23,429.51 L614.23,429.21 L615.24,428.92 L616.24,428.65 L617.25,428.38 L618.25,428.13 L619.25,427.89 L620.26,427.65 L621.26,427.43 L622.27,427.22 L623.27,427.01 L624.27,426.82 L625.28,426.63 L626.28,426.45 L627.28,426.28 L628.29,426.12 L629.29,425.96 L630.3,425.81 L631.3,425.67 L632.3,425.53 L633.31,425.4 L634.31,425.28 L635.32,425.16 L636.32,425.04 L637.32,424.93 L638.33,424.83 L639.33,424.72 L640.33,424.63 L641.34,424.54 L642.34,424.45 L643.35,424.36 L644.35,424.28 L645.35,424.21 L646.36,424.13 L647.36,424.06 L648.37,423.99 L649.37,423.93 L650.37,423.87 L651.38,423.81 L652.38,423.75 L653.38,423.7 L654.39,423.65 L655.39,423.6 L656.4,423.55 L657.4,423.5 L658.4,423.46 L659.41,423.42 L660.41,423.38 L661.42,423.34 L662.42,423.3 L663.42,423.27 L664.43,423.24 L665.43,423.2 L666.43,423.17 L667.44,423.14 L668.44,423.12 L669.45,423.09 L670.45,423.06 L671.45,423.04 L672.46,423.02 L673.46,422.99 L674.47,422.97 L675.47,422.95 L676.47,422.93 L677.48,422.91 L678.48,422.9 L679.48,422.88 L680.49,422.86 L681.49,422.85 L682.5,422.83 L683.5,422.82" stroke="#2a18aa" stroke-width="1.5" fill="none"/>
<path d="M422.5,448.03 L423.5,449.08 L424.51,450.17 L425.51,451.29 L426.52,452.45 L427.52,453.63 L428.52,454.86 L429.53,456.11 L430.53,457.4 L431.53,458.72 L432.54,460.07 L433.54,461.45 L434.55,462.86 L435.55,464.29 L436.55,465.75 L437.56,467.23 L438.56,468.73 L439.57,470.24 L440.57,471.77 L441.57,473.31 L442.58,474.86 L443.58,476.41 L444.58,477.96 L445.59,479.52 L446.59,481.06 L447.6,482.61 L448.6,484.14 L449.6,485.65 L450.61,487.15 L451.61,488.64 L452.62,490.1 L453.62,491.53 L454.62,492.94 L455.63,494.32 L456.63,495.67 L457.63,496.99 L458.64,498.27 L459.64,499.52 L460.65,500.73 L461.65,501.91 L462.65,503.05 L463.66,504.15 L464.66,505.21 L465.67,506.24 L466.67,507.22 L467.67,508.17 L468.68,509.08 L469.68,509.95 L470.68,510.78 L471.69,511.58 L472.69,512.34 L473.7,513.06 L474.7,513.74 L475.7,514.4 L476.71,515.01 L477.71,515.59 L478.72,516.14 L479.72,516.66 L480.72,517.14 L481.73,517.59 L482.73,518.01 L483.73,518.39 L484.74,518.75 L485.74,519.08 L486.75,519.38 L487.75,519.64 L488.75,519.88 L489.76,520.09 L490.76,520.28 L491.77,520.43 L492.77,520.56 L493.77,520.66 L494.78,520.73 L495.78,520.78 L496.78,520.79 L497.79,520.78 L498.79,520.75 L499.8,520.68 L500.8,520.59 L501.8,520.48 L502.81,520.33 L503.81,520.16 L504.82,519.95 L505.82,519.72 L506.82,519.47 L507.83,519.18 L508.83,518.86 L509.83,518.51 L510.84,518.14 L511.84,517.73 L512.85,517.29 L513.85,516.82 L514.85,516.31 L515.86,515.77 L516.86,515.2 L517.87,514.6 L518.87,513.96 L519.87,513.29 L520.88,512.58 L521.88,511.83 L522.88,511.04 L523.89,510.22 L524.89,509.37 L525.9,508.47 L526.9,507.53 L527.9,506.56 L528.91,505.55 L529.91,504.5 L530.92,503.41 L531.92,502.28 L532.92,501.12 L533.93,499.92 L534.93,498.68 L535.93,497.41 L536.94,496.1 L537.94,494.76 L538.95,493.39 L539.95,491.99 L540.95,490.56 L541.96,489.11 L542.96,487.64 L543.97,486.14 L544.97,484.63 L545.97,483.11 L546.98,481.57 L547.98,480.02 L548.98,478.47 L549.99,476.91 L550.99,475.36 L552,473.81 L553,472.27 L554,470.74 L555.01,469.22 L556.01,467.71 L557.02,466.23 L558.02,464.76 L559.02,463.32 L560.03,461.91 L561.03,460.52 L562.03,459.16 L563.04,457.83 L564.04,456.53 L565.05,455.26 L566.05,454.03 L567.05,452.83 L568.06,451.66 L569.06,450.53 L570.07,449.43 L571.07,448.37 L572.07,447.34 L573.08,446.35 L574.08,445.39 L575.08,444.46 L576.09,443.57 L577.09,442.7 L578.1,441.87 L579.1,441.07 L580.1,440.3 L581.11,439.56 L582.11,438.85 L583.12,438.17 L584.12,437.51 L585.12,436.88 L586.13,436.27 L587.13,435.69 L588.13,435.13 L589.14,434.59 L590.14,434.08 L591.15,433.58 L592.15,433.11 L593.15,432.66 L594.16,432.22 L595.16,431.81 L596.17,431.41 L597.17,431.03 L598.17,430.66 L599.18,430.31 L600.18,429.97 L601.18,429.65 L602.19,429.35 L603.19,429.05 L604.2,428.77 L605.2,428.5 L606.2,428.24 L607.21,427.99 L608.21,427.76 L609.22,427.53 L610.22,427.31 L611.22,427.1 L612.23,426.9 L613.23,426.71 L614.23,426.53 L615.24,426.36 L616.24,426.19 L617.25,426.03 L618.25,425.88 L619.25,425.73 L620.26,425.59 L621.26,425.46 L622.27,425.33 L623.27,425.21 L624.27,425.09 L625.28,424.98 L626.28,424.87 L627.28,424.77 L628.29,424.67 L629.29,424.58 L630.3,424.49 L631.3,424.4 L632.3,424.32 L633.31,424.24 L634.31,424.16 L635.32,424.09 L636.32,424.02 L637.32,423.96 L638.33,423.89 L639.33,423.83 L640.33,423.78 L641.34,423.72 L642.34,423.67 L643.35,423.62 L644.35,423.57 L645.35,423.52 L646.36,423.48 L647.36,423.44 L648.37,423.4 L649.37,423.36 L650.37,423.32 L651.38,423.28 L652.38,423.25 L653.38,423.22 L654.39,423.19 L655.39,423.16 L656.4,423.13 L657.4,423.1 L658.4,423.08 L659.41,423.05 L660.41,423.03 L661.42,423 L662.42,422.98 L663.42,422.96 L664.43,422.94 L665.43,422.92 L666.43,422.9 L667.44,422.89 L668.44,422.87 L669.45,422.85 L670.45,422.84 L671.45,422.82 L672.46,422.81 L673.46,422.8 L674.47,422.78 L675.47,422.77 L676.47,422.76 L677.48,422.75 L678.48,422.74 L679.48,422.73 L680.49,422.72 L681.49,422.71 L682.5,422.7 L683.5,422.69" stroke="#9e22bc" stroke-width="1.5" fill="none"/>
<path d="M422.5,462.23 L423.5,463.65 L424.51,465.1 L425.51,466.57 L426.52,468.06 L427.52,469.57 L428.52,471.09 L429.53,472.62 L430.53,474.17 L431.53,475.72 L432.54,477.27 L433.54,478.83 L434.55,480.38 L435.55,481.92 L436.55,483.46 L437.56,484.98 L438.56,486.49 L439.57,487.98 L440.57,489.45 L441.57,490.9 L442.58,492.32 L443.58,493.71 L444.58,495.07 L445.59,496.4 L446.59,497.7 L447.6,498.97 L448.6,500.2 L449.6,501.39 L450.61,502.55 L451.61,503.66 L452.62,504.74 L453.62,505.78 L454.62,506.79 L455.63,507.75 L456.63,508.68 L457.63,509.57 L458.64,510.42 L459.64,511.23 L460.65,512 L461.65,512.74 L462.65,513.44 L463.66,514.11 L464.66,514.74 L465.67,515.34 L466.67,515.9 L467.67,516.43 L468.68,516.93 L469.68,517.39 L470.68,517.82 L471.69,518.23 L472.69,518.6 L473.7,518.94 L474.7,519.25 L475.7,519.53 L476.71,519.78 L477.71,520 L478.72,520.2 L479.72,520.37 L480.72,520.51 L481.73,520.62 L482.73,520.7 L483.73,520.76 L484.74,520.79 L485.74,520.79 L486.75,520.77 L487.75,520.72 L488.75,520.64 L489.76,520.53 L490.76,520.4 L491.77,520.24 L492.77,520.05 L493.77,519.83 L494.78,519.58 L495.78,519.31 L496.78,519 L497.79,518.67 L498.79,518.31 L499.8,517.91 L500.8,517.49 L501.8,517.03 L502.81,516.54 L503.81,516.02 L504.82,515.46 L505.82,514.87 L506.82,514.25 L507.83,513.59 L508.83,512.9 L509.83,512.16 L510.84,511.4 L511.84,510.59 L512.85,509.75 L513.85,508.87 L514.85,507.95 L515.86,507 L516.86,506 L517.87,504.97 L518.87,503.9 L519.87,502.79 L520.88,501.64 L521.88,500.45 L522.88,499.23 L523.89,497.98 L524.89,496.68 L525.9,495.36 L526.9,494 L527.9,492.62 L528.91,491.2 L529.91,489.76 L530.92,488.3 L531.92,486.81 L532.92,485.31 L533.93,483.79 L534.93,482.25 L535.93,480.71 L536.94,479.16 L537.94,477.6 L538.95,476.05 L539.95,474.5 L540.95,472.95 L541.96,471.42 L542.96,469.89 L543.97,468.38 L544.97,466.89 L545.97,465.41 L546.98,463.96 L547.98,462.53 L548.98,461.13 L549.99,459.76 L550.99,458.42 L552,457.1 L553,455.82 L554,454.57 L555.01,453.36 L556.01,452.18 L557.02,451.03 L558.02,449.92 L559.02,448.84 L560.03,447.8 L561.03,446.79 L562.03,445.81 L563.04,444.87 L564.04,443.96 L565.05,443.08 L566.05,442.24 L567.05,441.42 L568.06,440.64 L569.06,439.89 L570.07,439.16 L571.07,438.47 L572.07,437.8 L573.08,437.15 L574.08,436.54 L575.08,435.94 L576.09,435.37 L577.09,434.83 L578.1,434.3 L579.1,433.8 L580.1,433.32 L581.11,432.86 L582.11,432.41 L583.12,431.99 L584.12,431.58 L585.12,431.19 L586.13,430.82 L587.13,430.46 L588.13,430.12 L589.14,429.79 L590.14,429.48 L591.15,429.18 L592.15,428.89 L593.15,428.62 L594.16,428.35 L595.16,428.1 L596.17,427.86 L597.17,427.63 L598.17,427.41 L599.18,427.19 L600.18,426.99 L601.18,426.8 L602.19,426.61 L603.19,426.43 L604.2,426.26 L605.2,426.1 L606.2,425.95 L607.21,425.8 L608.21,425.65 L609.22,425.52 L610.22,425.39 L611.22,425.26 L612.23,425.14 L613.23,425.03 L614.23,424.92 L615.24,424.81 L616.24,424.71 L617.25,424.62 L618.25,424.53 L619.25,424.44 L620.26,424.35 L621.26,424.27 L622.27,424.2 L623.27,424.12 L624.27,424.05 L625.28,423.99 L626.28,423.92 L627.28,423.86 L628.29,423.8 L629.29,423.75 L630.3,423.69 L631.3,423.64 L632.3,423.59 L633.31,423.54 L634.31,423.5 L635.32,423.45 L636.32,423.41 L637.32,423.37 L638.33,423.34 L639.33,423.3 L640.33,423.27 L641.34,423.23 L642.34,423.2 L643.35,423.17 L644.35,423.14 L645.35,423.11 L646.36,423.09 L647.36,423.06 L648.37,423.04 L649.37,423.01 L650.37,422.99 L651.38,422.97 L652.38,422.95 L653.38,422.93 L654.39,422.91 L655.39,422.89 L656.4,422.88 L657.4,422.86 L658.4,422.84 L659.41,422.83 L660.41,422.82 L661.42,422.8 L662.42,422.79 L663.42,422.78 L664.43,422.76 L665.43,422.75 L666.43,422.74 L667.44,422.73 L668.44,422.72 L669.45,422.71 L670.45,422.7 L671.45,422.69 L672.46,422.69 L673.46,422.68 L674.47,422.67 L675.47,422.66 L676.47,422.66 L677.48,422.65 L678.48,422.64 L679.48,422.64 L680.49,422.63 L681.49,422.62 L682.5,422.62 L683.5,422.61" stroke="#c81e94" stroke-width="1.5" fill="none"/></g>
<rect x="422.5" y="269.5" width="261" height="124" fill="none" stroke="#454545" stroke-width="1.2"/>
<path d="M474.5,393.5 v-4.5 M474.5,269.5 v4.5" stroke="#454545" stroke-width="1"/>
<path d="M526.5,393.5 v-4.5 M526.5,269.5 v4.5" stroke="#454545" stroke-width="1"/>
<path d="M579.5,393.5 v-4.5 M579.5,269.5 v4.5" stroke="#454545" stroke-width="1"/>
<path d="M631.5,393.5 v-4.5 M631.5,269.5 v4.5" stroke="#454545" stroke-width="1"/>
<path d="M422.5,389.5 h2.4 M683.5,389.5 h-2.4" stroke="#454545" stroke-width="1"/>
<path d="M422.5,386.5 h2.4 M683.5,386.5 h-2.4" stroke="#454545" stroke-width="1"/>
<path d="M422.5,383.5 h2.4 M683.5,383.5 h-2.4" stroke="#454545" stroke-width="1"/>
<path d="M422.5,381.5 h2.4 M683.5,381.5 h-2.4" stroke="#454545" stroke-width="1"/>
<path d="M422.5,379.5 h4.5 M683.5,379.5 h-4.5" stroke="#454545" stroke-width="1"/>
<path d="M422.5,364.5 h2.4 M683.5,364.5 h-2.4" stroke="#454545" stroke-width="1"/>
<path d="M422.5,356.5 h2.4 M683.5,356.5 h-2.4" stroke="#454545" stroke-width="1"/>
<path d="M422.5,350.5 h2.4 M683.5,350.5 h-2.4" stroke="#454545" stroke-width="1"/>
<path d="M422.5,345.5 h2.4 M683.5,345.5 h-2.4" stroke="#454545" stroke-width="1"/>
<path d="M422.5,341.5 h2.4 M683.5,341.5 h-2.4" stroke="#454545" stroke-width="1"/>
<path d="M422.5,338.5 h2.4 M683.5,338.5 h-2.4" stroke="#454545" stroke-width="1"/>
<path d="M422.5,335.5 h2.4 M683.5,335.5 h-2.4" stroke="#454545" stroke-width="1"/>
<path d="M422.5,333.5 h2.4 M683.5,333.5 h-2.4" stroke="#454545" stroke-width="1"/>
<path d="M422.5,331.5 h4.5 M683.5,331.5 h-4.5" stroke="#454545" stroke-width="1"/>
<path d="M422.5,316.5 h2.4 M683.5,316.5 h-2.4" stroke="#454545" stroke-width="1"/>
<path d="M422.5,308.5 h2.4 M683.5,308.5 h-2.4" stroke="#454545" stroke-width="1"/>
<path d="M422.5,302.5 h2.4 M683.5,302.5 h-2.4" stroke="#454545" stroke-width="1"/>
<path d="M422.5,297.5 h2.4 M683.5,297.5 h-2.4" stroke="#454545" stroke-width="1"/>
<path d="M422.5,294.5 h2.4 M683.5,294.5 h-2.4" stroke="#454545" stroke-width="1"/>
<path d="M422.5,290.5 h2.4 M683.5,290.5 h-2.4" stroke="#454545" stroke-width="1"/>
<path d="M422.5,288.5 h2.4 M683.5,288.5 h-2.4" stroke="#454545" stroke-width="1"/>
<path d="M422.5,285.5 h2.4 M683.5,285.5 h-2.4" stroke="#454545" stroke-width="1"/>
<path d="M422.5,283.5 h4.5 M683.5,283.5 h-4.5" stroke="#454545" stroke-width="1"/>
<rect x="422.5" y="410.5" width="261" height="124" fill="none" stroke="#454545" stroke-width="1.2"/>
<path d="M474.5,534.5 v-4.5 M474.5,410.5 v4.5" stroke="#454545" stroke-width="1"/>
<path d="M526.5,534.5 v-4.5 M526.5,410.5 v4.5" stroke="#454545" stroke-width="1"/>
<path d="M579.5,534.5 v-4.5 M579.5,410.5 v4.5" stroke="#454545" stroke-width="1"/>
<path d="M631.5,534.5 v-4.5 M631.5,410.5 v4.5" stroke="#454545" stroke-width="1"/>
<path d="M422.5,422.5 h4.5 M683.5,422.5 h-4.5" stroke="#454545" stroke-width="1"/>
<path d="M422.5,447.5 h4.5 M683.5,447.5 h-4.5" stroke="#454545" stroke-width="1"/>
<path d="M422.5,472.5 h4.5 M683.5,472.5 h-4.5" stroke="#454545" stroke-width="1"/>
<path d="M422.5,497.5 h4.5 M683.5,497.5 h-4.5" stroke="#454545" stroke-width="1"/>
<path d="M422.5,522.5 h4.5 M683.5,522.5 h-4.5" stroke="#454545" stroke-width="1"/>
<g font-size="14" fill="#111">
<path transform="translate(397.97,385.3) scale(0.00684,-0.00684)" fill="#111" stroke="#111" stroke-width="41.0" d="M763,0 L583,0 L583,1147 C540,1106 483,1065 413,1024 C343,983 280,952 223,931 L223,1105 C324,1153 412,1210 488,1277 C564,1344 618,1407 649,1466 L763,1466 Z"/><text x="405.75" y="385.3" font-size="14">0</text><path transform="translate(414.44,381) scale(0.00488,-0.00488)" fill="#111" stroke="#111" stroke-width="57.3" d="M763,0 L583,0 L583,1147 C540,1106 483,1065 413,1024 C343,983 280,952 223,931 L223,1105 C324,1153 412,1210 488,1277 C564,1344 618,1407 649,1466 L763,1466 Z"/>
<path transform="translate(396.37,337.5) scale(0.00684,-0.00684)" fill="#111" stroke="#111" stroke-width="41.0" d="M763,0 L583,0 L583,1147 C540,1106 483,1065 413,1024 C343,983 280,952 223,931 L223,1105 C324,1153 412,1210 488,1277 C564,1344 618,1407 649,1466 L763,1466 Z"/><text x="404.15" y="337.5" font-size="14">0</text><text x="412.84" y="333.2" font-size="10">2</text>
<path transform="translate(396.37,289.7) scale(0.00684,-0.00684)" fill="#111" stroke="#111" stroke-width="41.0" d="M763,0 L583,0 L583,1147 C540,1106 483,1065 413,1024 C343,983 280,952 223,931 L223,1105 C324,1153 412,1210 488,1277 C564,1344 618,1407 649,1466 L763,1466 Z"/><text x="404.15" y="289.7" font-size="14">0</text><text x="412.84" y="285.4" font-size="10">3</text>
<text x="417.9" y="427.1" text-anchor="end">0</text>
<text x="417.9" y="452.1" text-anchor="end">-20</text>
<text x="417.9" y="477.1" text-anchor="end">-40</text>
<text x="417.9" y="502.1" text-anchor="end">-60</text>
<text x="417.9" y="527.1" text-anchor="end">-80</text>
<path transform="translate(411.98,550.6) scale(0.00684,-0.00684)" fill="#111" stroke="#111" stroke-width="41.0" d="M763,0 L583,0 L583,1147 C540,1106 483,1065 413,1024 C343,983 280,952 223,931 L223,1105 C324,1153 412,1210 488,1277 C564,1344 618,1407 649,1466 L763,1466 Z"/><text x="419.77" y="550.6" font-size="14">0</text><path transform="translate(428.46,546) scale(0.00488,-0.00488)" fill="#111" stroke="#111" stroke-width="57.3" d="M763,0 L583,0 L583,1147 C540,1106 483,1065 413,1024 C343,983 280,952 223,931 L223,1105 C324,1153 412,1210 488,1277 C564,1344 618,1407 649,1466 L763,1466 Z"/>
<path transform="translate(464.18,550.6) scale(0.00684,-0.00684)" fill="#111" stroke="#111" stroke-width="41.0" d="M763,0 L583,0 L583,1147 C540,1106 483,1065 413,1024 C343,983 280,952 223,931 L223,1105 C324,1153 412,1210 488,1277 C564,1344 618,1407 649,1466 L763,1466 Z"/><text x="471.97" y="550.6" font-size="14">0</text><text x="480.66" y="546" font-size="10">2</text>
<path transform="translate(516.38,550.6) scale(0.00684,-0.00684)" fill="#111" stroke="#111" stroke-width="41.0" d="M763,0 L583,0 L583,1147 C540,1106 483,1065 413,1024 C343,983 280,952 223,931 L223,1105 C324,1153 412,1210 488,1277 C564,1344 618,1407 649,1466 L763,1466 Z"/><text x="524.17" y="550.6" font-size="14">0</text><text x="532.86" y="546" font-size="10">3</text>
<path transform="translate(568.58,550.6) scale(0.00684,-0.00684)" fill="#111" stroke="#111" stroke-width="41.0" d="M763,0 L583,0 L583,1147 C540,1106 483,1065 413,1024 C343,983 280,952 223,931 L223,1105 C324,1153 412,1210 488,1277 C564,1344 618,1407 649,1466 L763,1466 Z"/><text x="576.37" y="550.6" font-size="14">0</text><text x="585.06" y="546" font-size="10">4</text>
<path transform="translate(620.78,550.6) scale(0.00684,-0.00684)" fill="#111" stroke="#111" stroke-width="41.0" d="M763,0 L583,0 L583,1147 C540,1106 483,1065 413,1024 C343,983 280,952 223,931 L223,1105 C324,1153 412,1210 488,1277 C564,1344 618,1407 649,1466 L763,1466 Z"/><text x="628.57" y="550.6" font-size="14">0</text><text x="637.26" y="546" font-size="10">5</text>
<path transform="translate(672.98,550.6) scale(0.00684,-0.00684)" fill="#111" stroke="#111" stroke-width="41.0" d="M763,0 L583,0 L583,1147 C540,1106 483,1065 413,1024 C343,983 280,952 223,931 L223,1105 C324,1153 412,1210 488,1277 C564,1344 618,1407 649,1466 L763,1466 Z"/><text x="680.77" y="550.6" font-size="14">0</text><text x="689.46" y="546" font-size="10">6</text>
</g>
<text x="553.5" y="571.0" font-size="13.9" text-anchor="middle" fill="#111">Frequency [Hz]</text>
<text transform="translate(386.2,328.6) rotate(-90)" font-size="14" text-anchor="middle" fill="#111">|Z| [Ω]</text>
<text transform="translate(386.2,472.5) rotate(-90)" font-size="14" text-anchor="middle" fill="#111">Phase [°]</text>
<g fill="#111">
<rect x="72" y="270.2" width="52" height="7" fill="#fff"/>
<rect x="72" y="386" width="52" height="6.6" fill="#fff"/>
<text x="74.0" y="280.6" font-size="13.6">TEER</text>
<path d="M113.4,273 V284 M111.1,275.8 L113.4,272.4 L115.7,275.8" stroke="#222" stroke-width="1.05" fill="none"/>
<path d="M120.4,273 V284 M118.1,275.8 L120.4,272.4 L122.7,275.8" stroke="#222" stroke-width="1.05" fill="none"/>
<text x="74.4" y="388.8" font-size="13.6">TEER</text>
<path d="M113.4,391 V380 M111.1,388.2 L113.4,391.6 L115.7,388.2" stroke="#222" stroke-width="1.05" fill="none"/>
<path d="M120.4,391 V380 M118.1,388.2 L120.4,391.6 L122.7,388.2" stroke="#222" stroke-width="1.05" fill="none"/>
<text x="280.6" y="372.6" font-size="13.6">R<tspan font-size="11" dy="3">s</tspan></text>
<text x="432.6" y="332.0" font-size="13.6">TEER</text>
<text x="436" y="389.3" font-size="13.6">R<tspan font-size="11" dy="3">s</tspan></text>
<text x="462" y="359" font-size="13.6">C<tspan font-size="11" dy="2.5">cl</tspan></text>
<path d="M484.6,351 V361.8 M482.3,353.8 L484.6,350.4 L486.9,353.8" stroke="#444" stroke-width="1.05" fill="none"/>
<path d="M491.5,351 V361.8 M489.2,353.8 L491.5,350.4 L493.8,353.8" stroke="#444" stroke-width="1.05" fill="none"/>
<text x="633.8" y="359" font-size="13.6">C<tspan font-size="11" dy="2.5">cl</tspan></text>
<path d="M656.4,361.1 V350.2 M654.1,358.3 L656.4,361.7 L658.7,358.3" stroke="#222" stroke-width="1.05" fill="none"/>
<path d="M663.4,361.1 V350.2 M661.1,358.3 L663.4,361.7 L665.7,358.3" stroke="#222" stroke-width="1.05" fill="none"/>
</g>
</svg></body></html>
